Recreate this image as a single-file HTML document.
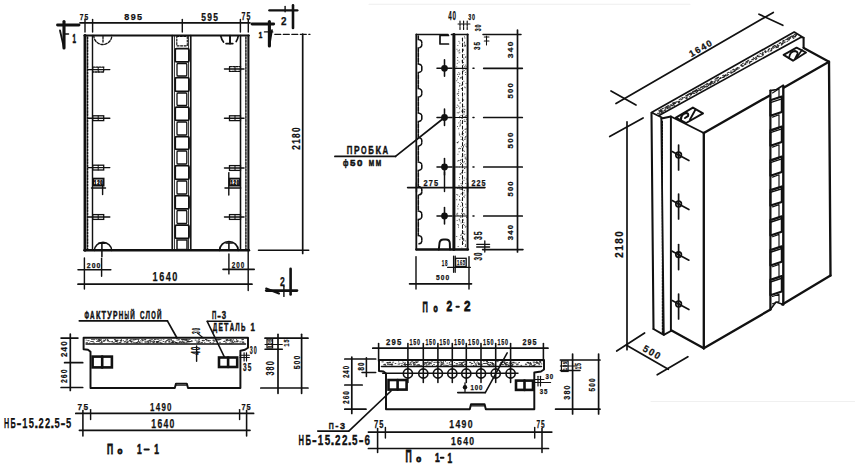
<!DOCTYPE html>
<html><head><meta charset="utf-8"><style>
html,body{margin:0;padding:0;background:#fff;}
svg{display:block;}
</style></head><body>
<svg width="855" height="466" viewBox="0 0 855 466" stroke-linecap="round">
<rect width="855" height="466" fill="#fff"/>
<line x1="57.5" y1="25.0" x2="79.0" y2="25.0" stroke="#111" stroke-width="2.86"/>
<polyline points="64.0,21.5 64.0,48.0" fill="none" stroke="#111" stroke-width="3.12" stroke-linejoin="round"/>
<polyline points="60.0,30.5 64.0,48.0" fill="none" stroke="#111" stroke-width="1.82" stroke-linejoin="round"/>
<line x1="64.0" y1="34.0" x2="68.5" y2="34.0" stroke="#111" stroke-width="1.56"/>
<text x="72.5" y="42.5" font-family="Liberation Sans" font-weight="bold" font-size="12.5" textLength="3.5" lengthAdjust="spacingAndGlyphs" fill="#111" stroke="#111" stroke-width="0.6">1</text>
<line x1="80.0" y1="22.8" x2="250.0" y2="22.8" stroke="#111" stroke-width="1.69"/>
<line x1="85.0" y1="19.5" x2="85.0" y2="32.0" stroke="#111" stroke-width="1.43"/>
<line x1="92.6" y1="19.5" x2="92.6" y2="32.0" stroke="#111" stroke-width="1.43"/>
<line x1="182.3" y1="19.5" x2="182.3" y2="32.0" stroke="#111" stroke-width="1.43"/>
<line x1="240.4" y1="19.5" x2="240.4" y2="32.0" stroke="#111" stroke-width="1.43"/>
<line x1="248.3" y1="19.5" x2="248.3" y2="32.0" stroke="#111" stroke-width="1.43"/>
<text x="79.7" y="20.2" font-family="Liberation Sans" font-weight="bold" font-size="9.9" textLength="3.7" lengthAdjust="spacingAndGlyphs" fill="#111" stroke="#111" stroke-width="0.25">7</text>
<text x="84.4" y="20.2" font-family="Liberation Sans" font-weight="bold" font-size="9.9" textLength="3.7" lengthAdjust="spacingAndGlyphs" fill="#111" stroke="#111" stroke-width="0.25">5</text>
<text x="124.3" y="20.3" font-family="Liberation Sans" font-weight="bold" font-size="9.3" textLength="5.0" lengthAdjust="spacingAndGlyphs" fill="#111" stroke="#111" stroke-width="0.25">8</text>
<text x="130.7" y="20.3" font-family="Liberation Sans" font-weight="bold" font-size="9.3" textLength="5.0" lengthAdjust="spacingAndGlyphs" fill="#111" stroke="#111" stroke-width="0.25">9</text>
<text x="137.1" y="20.3" font-family="Liberation Sans" font-weight="bold" font-size="9.3" textLength="5.0" lengthAdjust="spacingAndGlyphs" fill="#111" stroke="#111" stroke-width="0.25">5</text>
<text x="201.3" y="20.6" font-family="Liberation Sans" font-weight="bold" font-size="10.1" textLength="4.7" lengthAdjust="spacingAndGlyphs" fill="#111" stroke="#111" stroke-width="0.25">5</text>
<text x="207.2" y="20.6" font-family="Liberation Sans" font-weight="bold" font-size="10.1" textLength="4.7" lengthAdjust="spacingAndGlyphs" fill="#111" stroke="#111" stroke-width="0.25">9</text>
<text x="213.2" y="20.6" font-family="Liberation Sans" font-weight="bold" font-size="10.1" textLength="4.7" lengthAdjust="spacingAndGlyphs" fill="#111" stroke="#111" stroke-width="0.25">5</text>
<text x="241.6" y="20.3" font-family="Liberation Sans" font-weight="bold" font-size="10.7" textLength="3.9" lengthAdjust="spacingAndGlyphs" fill="#111" stroke="#111" stroke-width="0.25">7</text>
<text x="246.6" y="20.3" font-family="Liberation Sans" font-weight="bold" font-size="10.7" textLength="3.9" lengthAdjust="spacingAndGlyphs" fill="#111" stroke="#111" stroke-width="0.25">5</text>
<line x1="252.0" y1="24.0" x2="273.7" y2="24.0" stroke="#111" stroke-width="2.86"/>
<polyline points="269.4,21.5 269.4,46.0" fill="none" stroke="#111" stroke-width="3.12" stroke-linejoin="round"/>
<polyline points="272.0,30.0 269.4,46.0" fill="none" stroke="#111" stroke-width="1.69" stroke-linejoin="round"/>
<text x="258.8" y="37.8" font-family="Liberation Sans" font-weight="bold" font-size="9.4" textLength="3.5" lengthAdjust="spacingAndGlyphs" fill="#111" stroke="#111" stroke-width="0.6">1</text>
<line x1="264.5" y1="31.9" x2="272.7" y2="31.9" stroke="#111" stroke-width="1.43"/>
<line x1="269.4" y1="10.3" x2="297.3" y2="10.3" stroke="#111" stroke-width="2.34"/>
<line x1="293.0" y1="5.4" x2="293.0" y2="27.9" stroke="#111" stroke-width="2.60"/>
<line x1="285.1" y1="6.5" x2="285.1" y2="11.8" stroke="#111" stroke-width="1.43"/>
<text x="281.0" y="24.7" font-family="Liberation Sans" font-weight="bold" font-size="10.7" textLength="5.5" lengthAdjust="spacingAndGlyphs" fill="#111" stroke="#111" stroke-width="0.25">2</text>
<line x1="84.5" y1="35.5" x2="248.8" y2="35.5" stroke="#111" stroke-width="2.21"/>
<line x1="84.5" y1="250.3" x2="249.0" y2="250.3" stroke="#111" stroke-width="2.47"/>
<line x1="85.0" y1="35.5" x2="85.0" y2="250.3" stroke="#111" stroke-width="2.86"/>
<line x1="92.5" y1="35.5" x2="92.5" y2="250.3" stroke="#111" stroke-width="1.43"/>
<line x1="87.6" y1="37.0" x2="87.6" y2="249.0" stroke="#111" stroke-width="1.43" stroke-dasharray="1.8,1.4"/>
<line x1="248.4" y1="35.5" x2="248.4" y2="250.3" stroke="#111" stroke-width="2.08"/>
<line x1="240.5" y1="35.5" x2="240.5" y2="250.3" stroke="#111" stroke-width="1.56"/>
<line x1="245.9" y1="37.0" x2="245.9" y2="249.0" stroke="#111" stroke-width="1.43" stroke-dasharray="2,1.3"/>
<line x1="172.2" y1="35.5" x2="172.2" y2="250.3" stroke="#111" stroke-width="1.56"/>
<line x1="174.4" y1="35.5" x2="174.4" y2="250.3" stroke="#111" stroke-width="0.91"/>
<line x1="188.6" y1="35.5" x2="188.6" y2="250.3" stroke="#111" stroke-width="0.91"/>
<line x1="190.8" y1="35.5" x2="190.8" y2="250.3" stroke="#111" stroke-width="1.56"/>
<rect x="176.8" y="36.5" width="10.5" height="9.3" fill="none" stroke="#111" stroke-width="1.17" stroke-dasharray="2,1.5"/>
<rect x="175.2" y="48.6" width="13.8" height="13.3" rx="1.5" fill="none" stroke="#111" stroke-width="1.8"/>
<rect x="177" y="63.5" width="9.8" height="12.5" rx="1" fill="none" stroke="#111" stroke-width="1.3"/>
<rect x="175.2" y="77.6" width="13.8" height="13.8" rx="1.5" fill="none" stroke="#111" stroke-width="1.8"/>
<rect x="177" y="93.0" width="9.8" height="12.5" rx="1" fill="none" stroke="#111" stroke-width="1.3"/>
<rect x="175.2" y="107.1" width="13.8" height="13.3" rx="1.5" fill="none" stroke="#111" stroke-width="1.8"/>
<rect x="177" y="122.0" width="9.8" height="13.0" rx="1" fill="none" stroke="#111" stroke-width="1.3"/>
<rect x="175.2" y="136.6" width="13.8" height="12.8" rx="1.5" fill="none" stroke="#111" stroke-width="1.8"/>
<rect x="177" y="151.0" width="9.8" height="13.0" rx="1" fill="none" stroke="#111" stroke-width="1.3"/>
<rect x="175.2" y="165.6" width="13.8" height="13.8" rx="1.5" fill="none" stroke="#111" stroke-width="1.8"/>
<rect x="177" y="181.0" width="9.8" height="13.0" rx="1" fill="none" stroke="#111" stroke-width="1.3"/>
<rect x="175.2" y="195.6" width="13.8" height="13.3" rx="1.5" fill="none" stroke="#111" stroke-width="1.8"/>
<rect x="177" y="210.5" width="9.8" height="13.0" rx="1" fill="none" stroke="#111" stroke-width="1.3"/>
<rect x="175.2" y="225.1" width="13.8" height="13.3" rx="1.5" fill="none" stroke="#111" stroke-width="1.8"/>
<rect x="177.0" y="240.0" width="10.0" height="9.5" fill="none" stroke="#111" stroke-width="1.43"/>
<path d="M93.8,35.5 A9,9 0 0 0 111.8,35.5" fill="none" stroke="#111" stroke-width="1.30" stroke-dasharray="2.5,1.5"/>
<line x1="103.0" y1="36.5" x2="103.0" y2="43.0" stroke="#111" stroke-width="1.30" stroke-dasharray="2,1.5"/>
<path d="M220.7,35.8 Q221.5,39.5 223.5,42" fill="none" stroke="#111" stroke-width="1.69"/>
<path d="M238.2,36.2 Q237.8,39 236.2,41.5" fill="none" stroke="#111" stroke-width="1.69"/>
<line x1="230.0" y1="35.6" x2="230.0" y2="43.6" stroke="#111" stroke-width="1.95"/>
<line x1="226.2" y1="43.6" x2="232.7" y2="43.6" stroke="#111" stroke-width="1.95"/>
<path d="M94.5,250.3 A8.5,7.8 0 0 1 111.6,250.3" fill="none" stroke="#111" stroke-width="1.69"/>
<line x1="98.6" y1="243.3" x2="105.0" y2="243.3" stroke="#111" stroke-width="1.56"/>
<line x1="101.9" y1="243.3" x2="101.9" y2="256.8" stroke="#111" stroke-width="1.56"/>
<path d="M219.6,250.3 A9.3,8.8 0 0 1 238.2,250.3" fill="none" stroke="#111" stroke-width="1.69"/>
<line x1="225.9" y1="243.0" x2="232.4" y2="243.0" stroke="#111" stroke-width="1.56"/>
<line x1="228.9" y1="243.0" x2="228.9" y2="250.3" stroke="#111" stroke-width="1.56"/>
<rect x="92.7" y="67.2" width="11.0" height="4.8" fill="none" stroke="#111" stroke-width="1.30" stroke-dasharray="2,1.2"/>
<line x1="88.3" y1="69.6" x2="109.8" y2="69.6" stroke="#111" stroke-width="1.43"/>
<line x1="98.2" y1="67.2" x2="98.2" y2="72.0" stroke="#111" stroke-width="1.04"/>
<rect x="92.7" y="115.8" width="11.0" height="4.8" fill="none" stroke="#111" stroke-width="1.30"/>
<line x1="88.3" y1="118.2" x2="109.8" y2="118.2" stroke="#111" stroke-width="1.43"/>
<line x1="98.2" y1="115.8" x2="98.2" y2="120.6" stroke="#111" stroke-width="1.04"/>
<rect x="92.7" y="165.2" width="11.0" height="4.8" fill="none" stroke="#111" stroke-width="1.30"/>
<line x1="88.3" y1="167.6" x2="109.8" y2="167.6" stroke="#111" stroke-width="1.43"/>
<line x1="98.2" y1="165.2" x2="98.2" y2="170.0" stroke="#111" stroke-width="1.04"/>
<rect x="92.7" y="214.6" width="11.0" height="4.8" fill="none" stroke="#111" stroke-width="1.30"/>
<line x1="88.3" y1="217.0" x2="109.8" y2="217.0" stroke="#111" stroke-width="1.43"/>
<line x1="98.2" y1="214.6" x2="98.2" y2="219.4" stroke="#111" stroke-width="1.04"/>
<rect x="229.5" y="66.6" width="11.0" height="4.8" fill="none" stroke="#111" stroke-width="1.30" stroke-dasharray="2,1.2"/>
<line x1="224.5" y1="69.0" x2="244.0" y2="69.0" stroke="#111" stroke-width="1.43"/>
<line x1="235.0" y1="66.6" x2="235.0" y2="71.4" stroke="#111" stroke-width="1.04"/>
<rect x="229.5" y="115.8" width="11.0" height="4.8" fill="none" stroke="#111" stroke-width="1.30"/>
<line x1="224.5" y1="118.2" x2="244.0" y2="118.2" stroke="#111" stroke-width="1.43"/>
<line x1="235.0" y1="115.8" x2="235.0" y2="120.6" stroke="#111" stroke-width="1.04"/>
<rect x="229.5" y="165.6" width="11.0" height="4.8" fill="none" stroke="#111" stroke-width="1.30"/>
<line x1="224.5" y1="168.0" x2="244.0" y2="168.0" stroke="#111" stroke-width="1.43"/>
<line x1="235.0" y1="165.6" x2="235.0" y2="170.4" stroke="#111" stroke-width="1.04"/>
<rect x="229.5" y="214.6" width="11.0" height="4.8" fill="none" stroke="#111" stroke-width="1.30"/>
<line x1="224.5" y1="217.0" x2="244.0" y2="217.0" stroke="#111" stroke-width="1.43"/>
<line x1="235.0" y1="214.6" x2="235.0" y2="219.4" stroke="#111" stroke-width="1.04"/>
<rect x="93.2" y="178.6" width="10.4" height="7.0" fill="none" stroke="#111" stroke-width="1.82"/>
<text x="94.1" y="184.8" font-family="Liberation Sans" font-weight="bold" font-size="6.9" textLength="2.4" lengthAdjust="spacingAndGlyphs" fill="#111" stroke="#111" stroke-width="0.7">1</text>
<text x="97.2" y="184.8" font-family="Liberation Sans" font-weight="bold" font-size="6.9" textLength="2.4" lengthAdjust="spacingAndGlyphs" fill="#111" stroke="#111" stroke-width="0.7">2</text>
<text x="100.3" y="184.8" font-family="Liberation Sans" font-weight="bold" font-size="6.9" textLength="2.4" lengthAdjust="spacingAndGlyphs" fill="#111" stroke="#111" stroke-width="0.7">0</text>
<line x1="91.5" y1="188.0" x2="105.5" y2="188.0" stroke="#111" stroke-width="1.43"/>
<line x1="102.6" y1="185.0" x2="102.6" y2="194.5" stroke="#111" stroke-width="1.43"/>
<rect x="229.6" y="178.6" width="10.4" height="7.0" fill="none" stroke="#111" stroke-width="1.82"/>
<text x="230.5" y="184.8" font-family="Liberation Sans" font-weight="bold" font-size="6.9" textLength="2.4" lengthAdjust="spacingAndGlyphs" fill="#111" stroke="#111" stroke-width="0.7">1</text>
<text x="233.6" y="184.8" font-family="Liberation Sans" font-weight="bold" font-size="6.9" textLength="2.4" lengthAdjust="spacingAndGlyphs" fill="#111" stroke="#111" stroke-width="0.7">2</text>
<text x="236.7" y="184.8" font-family="Liberation Sans" font-weight="bold" font-size="6.9" textLength="2.4" lengthAdjust="spacingAndGlyphs" fill="#111" stroke="#111" stroke-width="0.7">0</text>
<line x1="225.0" y1="188.0" x2="240.7" y2="188.0" stroke="#111" stroke-width="1.43"/>
<line x1="228.8" y1="172.6" x2="228.8" y2="195.0" stroke="#111" stroke-width="1.43"/>
<line x1="78.0" y1="269.8" x2="110.8" y2="269.8" stroke="#111" stroke-width="1.56"/>
<line x1="84.4" y1="258.0" x2="84.4" y2="289.0" stroke="#111" stroke-width="1.43"/>
<line x1="101.6" y1="258.5" x2="101.6" y2="276.3" stroke="#111" stroke-width="1.43"/>
<text x="86.7" y="268.0" font-family="Liberation Sans" font-weight="bold" font-size="7.5" textLength="3.8" lengthAdjust="spacingAndGlyphs" fill="#111" stroke="#111" stroke-width="0.25">2</text>
<text x="91.7" y="268.0" font-family="Liberation Sans" font-weight="bold" font-size="7.5" textLength="3.8" lengthAdjust="spacingAndGlyphs" fill="#111" stroke="#111" stroke-width="0.25">0</text>
<text x="96.6" y="268.0" font-family="Liberation Sans" font-weight="bold" font-size="7.5" textLength="3.8" lengthAdjust="spacingAndGlyphs" fill="#111" stroke="#111" stroke-width="0.25">0</text>
<line x1="223.0" y1="269.4" x2="254.2" y2="269.4" stroke="#111" stroke-width="1.56"/>
<line x1="228.9" y1="253.9" x2="228.9" y2="273.9" stroke="#111" stroke-width="1.43"/>
<text x="231.7" y="268.0" font-family="Liberation Sans" font-weight="bold" font-size="9.7" textLength="3.5" lengthAdjust="spacingAndGlyphs" fill="#111" stroke="#111" stroke-width="0.25">2</text>
<text x="236.2" y="268.0" font-family="Liberation Sans" font-weight="bold" font-size="9.7" textLength="3.5" lengthAdjust="spacingAndGlyphs" fill="#111" stroke="#111" stroke-width="0.25">0</text>
<text x="240.8" y="268.0" font-family="Liberation Sans" font-weight="bold" font-size="9.7" textLength="3.5" lengthAdjust="spacingAndGlyphs" fill="#111" stroke="#111" stroke-width="0.25">0</text>
<line x1="78.0" y1="284.2" x2="252.0" y2="284.2" stroke="#111" stroke-width="1.69"/>
<line x1="248.2" y1="251.0" x2="248.2" y2="290.6" stroke="#111" stroke-width="1.43"/>
<text x="152.6" y="281.0" font-family="Liberation Sans" font-weight="bold" font-size="12.6" textLength="5.1" lengthAdjust="spacingAndGlyphs" fill="#111" stroke="#111" stroke-width="0.25">1</text>
<text x="159.2" y="281.0" font-family="Liberation Sans" font-weight="bold" font-size="12.6" textLength="5.1" lengthAdjust="spacingAndGlyphs" fill="#111" stroke="#111" stroke-width="0.25">6</text>
<text x="165.8" y="281.0" font-family="Liberation Sans" font-weight="bold" font-size="12.6" textLength="5.1" lengthAdjust="spacingAndGlyphs" fill="#111" stroke="#111" stroke-width="0.25">4</text>
<text x="172.3" y="281.0" font-family="Liberation Sans" font-weight="bold" font-size="12.6" textLength="5.1" lengthAdjust="spacingAndGlyphs" fill="#111" stroke="#111" stroke-width="0.25">0</text>
<line x1="274.8" y1="34.3" x2="310.0" y2="34.3" stroke="#111" stroke-width="1.30" stroke-dasharray="6,2.5"/>
<line x1="302.7" y1="34.0" x2="302.7" y2="253.5" stroke="#111" stroke-width="1.69"/>
<line x1="258.5" y1="250.2" x2="308.7" y2="250.2" stroke="#111" stroke-width="1.56"/>
<g transform="translate(296.0,138.6) rotate(-90.0)">
<text x="-11.1" y="4.0" font-family="Liberation Sans" font-weight="bold" font-size="11.1" textLength="4.6" lengthAdjust="spacingAndGlyphs" fill="#111" stroke="#111" stroke-width="0.25">2</text>
<text x="-5.2" y="4.0" font-family="Liberation Sans" font-weight="bold" font-size="11.1" textLength="4.6" lengthAdjust="spacingAndGlyphs" fill="#111" stroke="#111" stroke-width="0.25">1</text>
<text x="0.6" y="4.0" font-family="Liberation Sans" font-weight="bold" font-size="11.1" textLength="4.6" lengthAdjust="spacingAndGlyphs" fill="#111" stroke="#111" stroke-width="0.25">8</text>
<text x="6.5" y="4.0" font-family="Liberation Sans" font-weight="bold" font-size="11.1" textLength="4.6" lengthAdjust="spacingAndGlyphs" fill="#111" stroke="#111" stroke-width="0.25">0</text>
</g>
<line x1="290.6" y1="268.8" x2="290.6" y2="294.5" stroke="#111" stroke-width="2.60"/>
<line x1="266.2" y1="290.6" x2="297.0" y2="290.6" stroke="#111" stroke-width="2.60"/>
<polyline points="266.2,288.5 279.0,293.5" fill="none" stroke="#111" stroke-width="2.08" stroke-linejoin="round"/>
<text x="280.0" y="285.7" font-family="Liberation Sans" font-weight="bold" font-size="12.8" textLength="4.8" lengthAdjust="spacingAndGlyphs" fill="#111" stroke="#111" stroke-width="0.25">2</text>
<line x1="283.9" y1="286.3" x2="283.9" y2="296.4" stroke="#111" stroke-width="1.43"/>
<text x="448.2" y="20.3" font-family="Liberation Sans" font-weight="bold" font-size="13.2" textLength="3.5" lengthAdjust="spacingAndGlyphs" fill="#111" stroke="#111" stroke-width="0.25">4</text>
<text x="452.6" y="20.3" font-family="Liberation Sans" font-weight="bold" font-size="13.2" textLength="3.5" lengthAdjust="spacingAndGlyphs" fill="#111" stroke="#111" stroke-width="0.25">0</text>
<text x="468.2" y="20.3" font-family="Liberation Sans" font-weight="bold" font-size="9.7" textLength="3.0" lengthAdjust="spacingAndGlyphs" fill="#111" stroke="#111" stroke-width="0.25">3</text>
<text x="472.1" y="20.3" font-family="Liberation Sans" font-weight="bold" font-size="9.7" textLength="3.0" lengthAdjust="spacingAndGlyphs" fill="#111" stroke="#111" stroke-width="0.25">0</text>
<line x1="460.0" y1="21.0" x2="460.0" y2="30.4" stroke="#111" stroke-width="1.17" stroke-dasharray="2,1.2"/>
<line x1="463.6" y1="21.0" x2="463.6" y2="30.4" stroke="#111" stroke-width="1.17" stroke-dasharray="2,1.2"/>
<line x1="467.2" y1="21.0" x2="467.2" y2="30.4" stroke="#111" stroke-width="1.17" stroke-dasharray="2,1.2"/>
<line x1="458.0" y1="24.0" x2="470.0" y2="24.0" stroke="#111" stroke-width="1.04"/>
<g transform="translate(478.2,28.0) rotate(-90.0)">
<text x="-3.3" y="3.1" font-family="Liberation Sans" font-weight="bold" font-size="8.8" textLength="2.9" lengthAdjust="spacingAndGlyphs" fill="#111" stroke="#111" stroke-width="0.25">3</text>
<text x="0.4" y="3.1" font-family="Liberation Sans" font-weight="bold" font-size="8.8" textLength="2.9" lengthAdjust="spacingAndGlyphs" fill="#111" stroke="#111" stroke-width="0.25">0</text>
</g>
<g transform="translate(477.3,46.0) rotate(-90.0)">
<text x="-4.0" y="3.0" font-family="Liberation Sans" font-weight="bold" font-size="8.2" textLength="3.5" lengthAdjust="spacingAndGlyphs" fill="#111" stroke="#111" stroke-width="0.25">3</text>
<text x="0.5" y="3.0" font-family="Liberation Sans" font-weight="bold" font-size="8.2" textLength="3.5" lengthAdjust="spacingAndGlyphs" fill="#111" stroke="#111" stroke-width="0.25">5</text>
</g>
<line x1="484.3" y1="37.0" x2="489.0" y2="37.0" stroke="#111" stroke-width="1.04"/>
<line x1="484.3" y1="41.0" x2="489.0" y2="41.0" stroke="#111" stroke-width="1.04"/>
<line x1="486.5" y1="36.0" x2="486.5" y2="45.0" stroke="#111" stroke-width="1.04"/>
<line x1="416.5" y1="34.5" x2="448.0" y2="34.5" stroke="#111" stroke-width="1.69"/>
<line x1="451.5" y1="34.5" x2="467.8" y2="34.5" stroke="#111" stroke-width="1.69"/>
<line x1="483.0" y1="34.5" x2="521.0" y2="34.5" stroke="#111" stroke-width="1.56"/>
<line x1="416.3" y1="34.5" x2="416.3" y2="249.5" stroke="#111" stroke-width="1.82"/>
<line x1="416.5" y1="249.5" x2="467.8" y2="249.5" stroke="#111" stroke-width="2.60"/>
<line x1="467.6" y1="34.5" x2="467.6" y2="249.5" stroke="#111" stroke-width="1.95"/>
<line x1="453.9" y1="34.5" x2="453.9" y2="249.5" stroke="#111" stroke-width="2.99"/>
<rect x="458.7" y="151.4" width="0.9" height="0.9" fill="#333"/>
<rect x="460.0" y="164.0" width="0.9" height="0.9" fill="#333"/>
<rect x="462.6" y="49.9" width="0.9" height="0.9" fill="#333"/>
<rect x="456.4" y="213.5" width="0.9" height="0.9" fill="#333"/>
<rect x="458.9" y="85.7" width="0.9" height="0.9" fill="#333"/>
<rect x="466.3" y="135.7" width="0.9" height="0.9" fill="#333"/>
<rect x="464.7" y="137.0" width="0.9" height="0.9" fill="#333"/>
<rect x="462.7" y="67.9" width="0.9" height="0.9" fill="#333"/>
<rect x="462.6" y="220.0" width="0.9" height="0.9" fill="#333"/>
<rect x="461.5" y="193.1" width="0.9" height="0.9" fill="#333"/>
<rect x="463.0" y="49.6" width="0.9" height="0.9" fill="#333"/>
<rect x="463.9" y="161.3" width="0.9" height="0.9" fill="#333"/>
<rect x="459.3" y="42.6" width="0.9" height="0.9" fill="#333"/>
<rect x="465.0" y="136.2" width="0.9" height="0.9" fill="#333"/>
<rect x="463.5" y="222.3" width="0.9" height="0.9" fill="#333"/>
<rect x="463.4" y="231.3" width="0.9" height="0.9" fill="#333"/>
<rect x="460.2" y="205.8" width="0.9" height="0.9" fill="#333"/>
<rect x="460.7" y="234.3" width="0.9" height="0.9" fill="#333"/>
<rect x="465.1" y="56.7" width="0.9" height="0.9" fill="#333"/>
<rect x="457.7" y="82.0" width="0.9" height="0.9" fill="#333"/>
<rect x="466.0" y="128.5" width="0.9" height="0.9" fill="#333"/>
<rect x="462.6" y="99.8" width="0.9" height="0.9" fill="#333"/>
<rect x="461.4" y="117.8" width="0.9" height="0.9" fill="#333"/>
<rect x="459.8" y="160.0" width="0.9" height="0.9" fill="#333"/>
<rect x="462.1" y="227.7" width="0.9" height="0.9" fill="#333"/>
<rect x="463.1" y="232.9" width="0.9" height="0.9" fill="#333"/>
<rect x="464.9" y="246.1" width="0.9" height="0.9" fill="#333"/>
<rect x="463.0" y="70.6" width="0.9" height="0.9" fill="#333"/>
<rect x="464.9" y="240.5" width="0.9" height="0.9" fill="#333"/>
<rect x="465.3" y="156.7" width="0.9" height="0.9" fill="#333"/>
<rect x="463.4" y="80.8" width="0.9" height="0.9" fill="#333"/>
<rect x="464.6" y="157.6" width="0.9" height="0.9" fill="#333"/>
<rect x="459.1" y="49.5" width="0.9" height="0.9" fill="#333"/>
<rect x="464.8" y="245.8" width="0.9" height="0.9" fill="#333"/>
<rect x="457.2" y="205.7" width="0.9" height="0.9" fill="#333"/>
<rect x="460.4" y="68.0" width="0.9" height="0.9" fill="#333"/>
<rect x="459.2" y="199.0" width="0.9" height="0.9" fill="#333"/>
<rect x="465.0" y="45.4" width="0.9" height="0.9" fill="#333"/>
<rect x="462.4" y="45.5" width="0.9" height="0.9" fill="#333"/>
<rect x="463.5" y="106.2" width="0.9" height="0.9" fill="#333"/>
<rect x="465.1" y="243.9" width="0.9" height="0.9" fill="#333"/>
<rect x="461.4" y="247.7" width="0.9" height="0.9" fill="#333"/>
<rect x="459.4" y="52.3" width="0.9" height="0.9" fill="#333"/>
<rect x="462.3" y="42.7" width="0.9" height="0.9" fill="#333"/>
<rect x="458.3" y="122.5" width="0.9" height="0.9" fill="#333"/>
<rect x="462.4" y="69.1" width="0.9" height="0.9" fill="#333"/>
<rect x="456.7" y="220.0" width="0.9" height="0.9" fill="#333"/>
<rect x="459.4" y="239.2" width="0.9" height="0.9" fill="#333"/>
<rect x="465.3" y="116.1" width="0.9" height="0.9" fill="#333"/>
<rect x="460.9" y="146.3" width="0.9" height="0.9" fill="#333"/>
<rect x="462.7" y="162.3" width="0.9" height="0.9" fill="#333"/>
<rect x="461.9" y="167.5" width="0.9" height="0.9" fill="#333"/>
<rect x="465.7" y="143.5" width="0.9" height="0.9" fill="#333"/>
<rect x="460.6" y="188.7" width="0.9" height="0.9" fill="#333"/>
<rect x="458.7" y="99.8" width="0.9" height="0.9" fill="#333"/>
<rect x="466.1" y="146.5" width="0.9" height="0.9" fill="#333"/>
<rect x="461.8" y="38.4" width="0.9" height="0.9" fill="#333"/>
<rect x="460.5" y="159.0" width="0.9" height="0.9" fill="#333"/>
<rect x="456.5" y="166.5" width="0.9" height="0.9" fill="#333"/>
<rect x="462.6" y="48.7" width="0.9" height="0.9" fill="#333"/>
<rect x="462.6" y="134.8" width="0.9" height="0.9" fill="#333"/>
<rect x="463.1" y="110.7" width="0.9" height="0.9" fill="#333"/>
<rect x="463.4" y="192.5" width="0.9" height="0.9" fill="#333"/>
<rect x="456.5" y="48.8" width="0.9" height="0.9" fill="#333"/>
<rect x="463.1" y="240.2" width="0.9" height="0.9" fill="#333"/>
<rect x="458.8" y="132.7" width="0.9" height="0.9" fill="#333"/>
<rect x="462.2" y="103.8" width="0.9" height="0.9" fill="#333"/>
<rect x="459.9" y="102.3" width="0.9" height="0.9" fill="#333"/>
<rect x="460.0" y="162.3" width="0.9" height="0.9" fill="#333"/>
<rect x="459.3" y="116.0" width="0.9" height="0.9" fill="#333"/>
<rect x="464.0" y="41.7" width="0.9" height="0.9" fill="#333"/>
<rect x="462.0" y="191.9" width="0.9" height="0.9" fill="#333"/>
<rect x="459.4" y="83.2" width="0.9" height="0.9" fill="#333"/>
<rect x="464.3" y="86.6" width="0.9" height="0.9" fill="#333"/>
<rect x="458.2" y="128.3" width="0.9" height="0.9" fill="#333"/>
<rect x="463.3" y="57.6" width="0.9" height="0.9" fill="#333"/>
<rect x="459.5" y="106.8" width="0.9" height="0.9" fill="#333"/>
<rect x="464.6" y="128.9" width="0.9" height="0.9" fill="#333"/>
<rect x="464.9" y="71.9" width="0.9" height="0.9" fill="#333"/>
<rect x="459.7" y="173.8" width="0.9" height="0.9" fill="#333"/>
<rect x="465.1" y="131.6" width="0.9" height="0.9" fill="#333"/>
<rect x="458.6" y="61.6" width="0.9" height="0.9" fill="#333"/>
<rect x="461.6" y="76.5" width="0.9" height="0.9" fill="#333"/>
<rect x="464.4" y="213.8" width="0.9" height="0.9" fill="#333"/>
<rect x="458.1" y="95.1" width="0.9" height="0.9" fill="#333"/>
<rect x="464.4" y="172.1" width="0.9" height="0.9" fill="#333"/>
<rect x="464.4" y="109.2" width="0.9" height="0.9" fill="#333"/>
<rect x="457.6" y="97.9" width="0.9" height="0.9" fill="#333"/>
<rect x="464.2" y="93.5" width="0.9" height="0.9" fill="#333"/>
<rect x="459.8" y="124.4" width="0.9" height="0.9" fill="#333"/>
<rect x="460.5" y="122.8" width="0.9" height="0.9" fill="#333"/>
<rect x="465.5" y="69.1" width="0.9" height="0.9" fill="#333"/>
<rect x="456.3" y="236.0" width="0.9" height="0.9" fill="#333"/>
<rect x="465.1" y="245.2" width="0.9" height="0.9" fill="#333"/>
<rect x="460.6" y="237.4" width="0.9" height="0.9" fill="#333"/>
<rect x="465.6" y="83.1" width="0.9" height="0.9" fill="#333"/>
<rect x="463.8" y="213.4" width="0.9" height="0.9" fill="#333"/>
<rect x="462.9" y="146.0" width="0.9" height="0.9" fill="#333"/>
<rect x="459.2" y="108.3" width="0.9" height="0.9" fill="#333"/>
<rect x="458.6" y="50.4" width="0.9" height="0.9" fill="#333"/>
<rect x="462.2" y="96.8" width="0.9" height="0.9" fill="#333"/>
<rect x="464.4" y="45.6" width="0.9" height="0.9" fill="#333"/>
<rect x="465.3" y="183.1" width="0.9" height="0.9" fill="#333"/>
<rect x="465.5" y="226.1" width="0.9" height="0.9" fill="#333"/>
<rect x="465.3" y="158.3" width="0.9" height="0.9" fill="#333"/>
<rect x="456.4" y="194.0" width="0.9" height="0.9" fill="#333"/>
<rect x="458.0" y="99.6" width="0.9" height="0.9" fill="#333"/>
<rect x="462.9" y="147.3" width="0.9" height="0.9" fill="#333"/>
<rect x="460.4" y="235.1" width="0.9" height="0.9" fill="#333"/>
<rect x="462.4" y="108.4" width="0.9" height="0.9" fill="#333"/>
<rect x="458.8" y="218.7" width="0.9" height="0.9" fill="#333"/>
<rect x="461.1" y="201.9" width="0.9" height="0.9" fill="#333"/>
<rect x="459.8" y="77.8" width="0.9" height="0.9" fill="#333"/>
<rect x="461.6" y="209.2" width="0.9" height="0.9" fill="#333"/>
<rect x="458.0" y="203.8" width="0.9" height="0.9" fill="#333"/>
<rect x="465.5" y="206.9" width="0.9" height="0.9" fill="#333"/>
<rect x="464.5" y="37.6" width="0.9" height="0.9" fill="#333"/>
<rect x="462.6" y="218.9" width="0.9" height="0.9" fill="#333"/>
<rect x="456.8" y="93.5" width="0.9" height="0.9" fill="#333"/>
<rect x="459.0" y="147.8" width="0.9" height="0.9" fill="#333"/>
<rect x="460.5" y="136.3" width="0.9" height="0.9" fill="#333"/>
<rect x="464.1" y="36.4" width="0.9" height="0.9" fill="#333"/>
<rect x="456.8" y="62.9" width="0.9" height="0.9" fill="#333"/>
<rect x="457.5" y="50.5" width="0.9" height="0.9" fill="#333"/>
<rect x="466.0" y="217.1" width="0.9" height="0.9" fill="#333"/>
<rect x="457.2" y="142.4" width="0.9" height="0.9" fill="#333"/>
<rect x="459.5" y="102.7" width="0.9" height="0.9" fill="#333"/>
<rect x="459.8" y="173.1" width="0.9" height="0.9" fill="#333"/>
<rect x="462.2" y="112.5" width="0.9" height="0.9" fill="#333"/>
<rect x="458.2" y="105.7" width="0.9" height="0.9" fill="#333"/>
<rect x="457.5" y="153.8" width="0.9" height="0.9" fill="#333"/>
<rect x="463.5" y="116.6" width="0.9" height="0.9" fill="#333"/>
<rect x="457.1" y="73.9" width="0.9" height="0.9" fill="#333"/>
<rect x="460.0" y="164.1" width="0.9" height="0.9" fill="#333"/>
<rect x="464.1" y="116.6" width="0.9" height="0.9" fill="#333"/>
<rect x="464.3" y="168.1" width="0.9" height="0.9" fill="#333"/>
<rect x="460.6" y="115.0" width="0.9" height="0.9" fill="#333"/>
<rect x="461.3" y="185.0" width="0.9" height="0.9" fill="#333"/>
<rect x="460.5" y="183.2" width="0.9" height="0.9" fill="#333"/>
<rect x="460.9" y="88.0" width="0.9" height="0.9" fill="#333"/>
<rect x="461.7" y="183.4" width="0.9" height="0.9" fill="#333"/>
<rect x="457.0" y="126.1" width="0.9" height="0.9" fill="#333"/>
<rect x="460.6" y="222.5" width="0.9" height="0.9" fill="#333"/>
<rect x="465.7" y="115.3" width="0.9" height="0.9" fill="#333"/>
<rect x="465.3" y="203.7" width="0.9" height="0.9" fill="#333"/>
<rect x="458.9" y="134.4" width="0.9" height="0.9" fill="#333"/>
<rect x="457.5" y="208.4" width="0.9" height="0.9" fill="#333"/>
<rect x="462.9" y="224.1" width="0.9" height="0.9" fill="#333"/>
<rect x="464.2" y="177.5" width="0.9" height="0.9" fill="#333"/>
<rect x="463.6" y="155.5" width="0.9" height="0.9" fill="#333"/>
<rect x="457.3" y="160.6" width="0.9" height="0.9" fill="#333"/>
<rect x="456.3" y="66.4" width="0.9" height="0.9" fill="#333"/>
<rect x="464.0" y="45.4" width="0.9" height="0.9" fill="#333"/>
<rect x="457.2" y="57.1" width="0.9" height="0.9" fill="#333"/>
<rect x="465.1" y="74.0" width="0.9" height="0.9" fill="#333"/>
<rect x="456.5" y="214.4" width="0.9" height="0.9" fill="#333"/>
<rect x="457.5" y="214.9" width="0.9" height="0.9" fill="#333"/>
<rect x="463.0" y="213.3" width="0.9" height="0.9" fill="#333"/>
<rect x="465.8" y="158.8" width="0.9" height="0.9" fill="#333"/>
<rect x="464.3" y="43.7" width="0.9" height="0.9" fill="#333"/>
<rect x="464.0" y="144.4" width="0.9" height="0.9" fill="#333"/>
<rect x="463.5" y="58.6" width="0.9" height="0.9" fill="#333"/>
<rect x="463.8" y="234.1" width="0.9" height="0.9" fill="#333"/>
<rect x="456.9" y="104.7" width="0.9" height="0.9" fill="#333"/>
<rect x="461.9" y="211.5" width="0.9" height="0.9" fill="#333"/>
<rect x="458.7" y="74.1" width="0.9" height="0.9" fill="#333"/>
<rect x="458.8" y="166.6" width="0.9" height="0.9" fill="#333"/>
<rect x="463.8" y="119.5" width="0.9" height="0.9" fill="#333"/>
<rect x="460.0" y="120.1" width="0.9" height="0.9" fill="#333"/>
<rect x="459.8" y="124.7" width="0.9" height="0.9" fill="#333"/>
<rect x="457.1" y="142.1" width="0.9" height="0.9" fill="#333"/>
<rect x="466.0" y="123.5" width="0.9" height="0.9" fill="#333"/>
<rect x="463.8" y="70.1" width="0.9" height="0.9" fill="#333"/>
<rect x="463.2" y="196.3" width="0.9" height="0.9" fill="#333"/>
<rect x="463.0" y="145.6" width="0.9" height="0.9" fill="#333"/>
<rect x="461.1" y="172.3" width="0.9" height="0.9" fill="#333"/>
<rect x="465.3" y="67.7" width="0.9" height="0.9" fill="#333"/>
<rect x="457.3" y="194.6" width="0.9" height="0.9" fill="#333"/>
<rect x="465.5" y="145.7" width="0.9" height="0.9" fill="#333"/>
<rect x="460.7" y="188.4" width="0.9" height="0.9" fill="#333"/>
<rect x="458.2" y="92.7" width="0.9" height="0.9" fill="#333"/>
<rect x="458.3" y="160.2" width="0.9" height="0.9" fill="#333"/>
<rect x="459.4" y="85.2" width="0.9" height="0.9" fill="#333"/>
<rect x="463.2" y="238.1" width="0.9" height="0.9" fill="#333"/>
<rect x="459.3" y="185.5" width="0.9" height="0.9" fill="#333"/>
<rect x="460.4" y="217.0" width="0.9" height="0.9" fill="#333"/>
<rect x="462.1" y="92.6" width="0.9" height="0.9" fill="#333"/>
<rect x="458.5" y="40.9" width="0.9" height="0.9" fill="#333"/>
<rect x="461.1" y="117.1" width="0.9" height="0.9" fill="#333"/>
<rect x="458.0" y="112.4" width="0.9" height="0.9" fill="#333"/>
<rect x="459.5" y="200.1" width="0.9" height="0.9" fill="#333"/>
<rect x="457.7" y="246.1" width="0.9" height="0.9" fill="#333"/>
<rect x="461.1" y="163.0" width="0.9" height="0.9" fill="#333"/>
<rect x="461.0" y="212.9" width="0.9" height="0.9" fill="#333"/>
<rect x="464.5" y="154.1" width="0.9" height="0.9" fill="#333"/>
<rect x="461.1" y="188.8" width="0.9" height="0.9" fill="#333"/>
<rect x="464.9" y="120.9" width="0.9" height="0.9" fill="#333"/>
<rect x="463.6" y="239.6" width="0.9" height="0.9" fill="#333"/>
<rect x="461.0" y="84.7" width="0.9" height="0.9" fill="#333"/>
<rect x="458.6" y="188.1" width="0.9" height="0.9" fill="#333"/>
<rect x="463.1" y="239.2" width="0.9" height="0.9" fill="#333"/>
<rect x="464.8" y="87.3" width="0.9" height="0.9" fill="#333"/>
<rect x="458.2" y="90.8" width="0.9" height="0.9" fill="#333"/>
<rect x="458.2" y="185.4" width="0.9" height="0.9" fill="#333"/>
<rect x="464.9" y="226.7" width="0.9" height="0.9" fill="#333"/>
<rect x="458.9" y="219.4" width="0.9" height="0.9" fill="#333"/>
<rect x="459.4" y="125.7" width="0.9" height="0.9" fill="#333"/>
<rect x="463.6" y="54.2" width="0.9" height="0.9" fill="#333"/>
<rect x="457.2" y="212.8" width="0.9" height="0.9" fill="#333"/>
<rect x="459.2" y="111.6" width="0.9" height="0.9" fill="#333"/>
<rect x="462.1" y="179.2" width="0.9" height="0.9" fill="#333"/>
<rect x="456.4" y="107.0" width="0.9" height="0.9" fill="#333"/>
<rect x="460.7" y="139.0" width="0.9" height="0.9" fill="#333"/>
<rect x="458.4" y="160.0" width="0.9" height="0.9" fill="#333"/>
<rect x="465.9" y="118.9" width="0.9" height="0.9" fill="#333"/>
<rect x="461.7" y="61.3" width="0.9" height="0.9" fill="#333"/>
<rect x="459.0" y="177.1" width="0.9" height="0.9" fill="#333"/>
<rect x="457.4" y="224.1" width="0.9" height="0.9" fill="#333"/>
<rect x="465.4" y="56.5" width="0.9" height="0.9" fill="#333"/>
<rect x="465.7" y="115.3" width="0.9" height="0.9" fill="#333"/>
<rect x="464.0" y="196.6" width="0.9" height="0.9" fill="#333"/>
<rect x="459.3" y="179.3" width="0.9" height="0.9" fill="#333"/>
<rect x="462.8" y="206.9" width="0.9" height="0.9" fill="#333"/>
<rect x="459.0" y="195.9" width="0.9" height="0.9" fill="#333"/>
<rect x="465.9" y="178.6" width="0.9" height="0.9" fill="#333"/>
<rect x="461.7" y="60.0" width="0.9" height="0.9" fill="#333"/>
<rect x="461.2" y="110.7" width="0.9" height="0.9" fill="#333"/>
<rect x="463.5" y="179.9" width="0.9" height="0.9" fill="#333"/>
<rect x="462.0" y="74.6" width="0.9" height="0.9" fill="#333"/>
<rect x="462.8" y="169.7" width="0.9" height="0.9" fill="#333"/>
<rect x="458.1" y="224.7" width="0.9" height="0.9" fill="#333"/>
<rect x="462.9" y="62.1" width="0.9" height="0.9" fill="#333"/>
<rect x="465.6" y="66.0" width="0.9" height="0.9" fill="#333"/>
<rect x="459.6" y="188.7" width="0.9" height="0.9" fill="#333"/>
<rect x="462.3" y="153.6" width="0.9" height="0.9" fill="#333"/>
<rect x="462.8" y="133.0" width="0.9" height="0.9" fill="#333"/>
<rect x="459.4" y="73.4" width="0.9" height="0.9" fill="#333"/>
<rect x="457.0" y="187.8" width="0.9" height="0.9" fill="#333"/>
<rect x="463.8" y="151.1" width="0.9" height="0.9" fill="#333"/>
<rect x="463.7" y="112.2" width="0.9" height="0.9" fill="#333"/>
<rect x="459.0" y="117.3" width="0.9" height="0.9" fill="#333"/>
<rect x="465.0" y="44.9" width="0.9" height="0.9" fill="#333"/>
<rect x="461.3" y="88.4" width="0.9" height="0.9" fill="#333"/>
<rect x="464.0" y="111.1" width="0.9" height="0.9" fill="#333"/>
<rect x="459.6" y="121.5" width="0.9" height="0.9" fill="#333"/>
<rect x="461.7" y="199.6" width="0.9" height="0.9" fill="#333"/>
<rect x="459.8" y="215.5" width="0.9" height="0.9" fill="#333"/>
<rect x="457.4" y="93.3" width="0.9" height="0.9" fill="#333"/>
<rect x="457.3" y="59.9" width="0.9" height="0.9" fill="#333"/>
<rect x="464.1" y="190.2" width="0.9" height="0.9" fill="#333"/>
<rect x="458.1" y="76.1" width="0.9" height="0.9" fill="#333"/>
<rect x="460.5" y="193.6" width="0.9" height="0.9" fill="#333"/>
<rect x="464.5" y="194.7" width="0.9" height="0.9" fill="#333"/>
<rect x="462.2" y="67.1" width="0.9" height="0.9" fill="#333"/>
<rect x="460.3" y="77.1" width="0.9" height="0.9" fill="#333"/>
<rect x="461.6" y="156.5" width="0.9" height="0.9" fill="#333"/>
<rect x="458.3" y="89.0" width="0.9" height="0.9" fill="#333"/>
<rect x="464.1" y="42.4" width="0.9" height="0.9" fill="#333"/>
<rect x="464.3" y="224.9" width="0.9" height="0.9" fill="#333"/>
<rect x="465.8" y="117.2" width="0.9" height="0.9" fill="#333"/>
<rect x="461.8" y="159.6" width="0.9" height="0.9" fill="#333"/>
<rect x="462.6" y="243.1" width="0.9" height="0.9" fill="#333"/>
<rect x="463.2" y="99.5" width="0.9" height="0.9" fill="#333"/>
<rect x="464.9" y="138.6" width="0.9" height="0.9" fill="#333"/>
<rect x="462.3" y="190.1" width="0.9" height="0.9" fill="#333"/>
<rect x="456.3" y="199.3" width="0.9" height="0.9" fill="#333"/>
<rect x="462.9" y="140.3" width="0.9" height="0.9" fill="#333"/>
<rect x="461.5" y="133.6" width="0.9" height="0.9" fill="#333"/>
<rect x="458.2" y="148.3" width="0.9" height="0.9" fill="#333"/>
<rect x="456.7" y="142.1" width="0.9" height="0.9" fill="#333"/>
<rect x="462.8" y="130.2" width="0.9" height="0.9" fill="#333"/>
<rect x="462.0" y="239.3" width="0.9" height="0.9" fill="#333"/>
<rect x="465.2" y="64.7" width="0.9" height="0.9" fill="#333"/>
<rect x="464.2" y="168.1" width="0.9" height="0.9" fill="#333"/>
<rect x="456.8" y="112.3" width="0.9" height="0.9" fill="#333"/>
<rect x="458.6" y="52.5" width="0.9" height="0.9" fill="#333"/>
<rect x="461.7" y="233.1" width="0.9" height="0.9" fill="#333"/>
<rect x="459.5" y="220.5" width="0.9" height="0.9" fill="#333"/>
<rect x="463.2" y="64.5" width="0.9" height="0.9" fill="#333"/>
<rect x="464.9" y="163.4" width="0.9" height="0.9" fill="#333"/>
<rect x="465.6" y="187.8" width="0.9" height="0.9" fill="#333"/>
<rect x="463.7" y="108.8" width="0.9" height="0.9" fill="#333"/>
<rect x="464.4" y="233.5" width="0.9" height="0.9" fill="#333"/>
<rect x="464.9" y="128.6" width="0.9" height="0.9" fill="#333"/>
<rect x="463.9" y="138.8" width="0.9" height="0.9" fill="#333"/>
<rect x="457.4" y="45.1" width="0.9" height="0.9" fill="#333"/>
<rect x="457.1" y="78.5" width="0.9" height="0.9" fill="#333"/>
<rect x="457.9" y="141.4" width="0.9" height="0.9" fill="#333"/>
<rect x="463.3" y="149.9" width="0.9" height="0.9" fill="#333"/>
<rect x="460.5" y="173.6" width="0.9" height="0.9" fill="#333"/>
<rect x="459.3" y="134.5" width="0.9" height="0.9" fill="#333"/>
<rect x="463.9" y="121.1" width="0.9" height="0.9" fill="#333"/>
<rect x="458.1" y="226.7" width="0.9" height="0.9" fill="#333"/>
<rect x="463.5" y="113.8" width="0.9" height="0.9" fill="#333"/>
<rect x="460.0" y="148.2" width="0.9" height="0.9" fill="#333"/>
<rect x="462.3" y="83.5" width="0.9" height="0.9" fill="#333"/>
<rect x="456.3" y="80.3" width="0.9" height="0.9" fill="#333"/>
<rect x="464.1" y="66.4" width="0.9" height="0.9" fill="#333"/>
<rect x="460.9" y="77.4" width="0.9" height="0.9" fill="#333"/>
<rect x="458.4" y="72.2" width="0.9" height="0.9" fill="#333"/>
<line x1="462.5" y1="38.0" x2="462.5" y2="246.0" stroke="#111" stroke-width="1.04" stroke-dasharray="3,2.5"/>
<polyline points="448.5,35.5 440.0,35.5 440.0,44.0 448.5,44.0" fill="none" stroke="#111" stroke-width="1.69" stroke-linejoin="round"/>
<path d="M438.8,249.5 L439.5,243 Q440,239.5 443.5,239.5 L446,239.5 Q449.5,239.5 449.8,243 L450,249.5" fill="none" stroke="#111" stroke-width="1.95"/>
<path d="M418.3,36 L418.3,39.5 Q421.8,40.0 421.8,42.5 L421.8,45.0 Q421.8,47.5 418.3,48.0 L418.3,64.0 Q421.8,64.5 421.8,67.0 L421.8,69.5 Q421.8,72.0 418.3,72.5 L418.3,88.5 Q421.8,89.0 421.8,91.5 L421.8,94.0 Q421.8,96.5 418.3,97.0 L418.3,113.0 Q421.8,113.5 421.8,116.0 L421.8,118.5 Q421.8,121.0 418.3,121.5 L418.3,137.5 Q421.8,138.0 421.8,140.5 L421.8,143.0 Q421.8,145.5 418.3,146.0 L418.3,162.0 Q421.8,162.5 421.8,165.0 L421.8,167.5 Q421.8,170.0 418.3,170.5 L418.3,186.5 Q421.8,187.0 421.8,189.5 L421.8,192.0 Q421.8,194.5 418.3,195.0 L418.3,211.0 Q421.8,211.5 421.8,214.0 L421.8,216.5 Q421.8,219.0 418.3,219.5 L418.3,235.5 Q421.8,236.0 421.8,238.5 L421.8,241.0 Q421.8,243.5 418.3,244.0 " fill="none" stroke="#111" stroke-width="1.56" stroke-dasharray="4,1.2"/>
<circle cx="444.5" cy="68.3" r="2.6" fill="#111" stroke="#111" stroke-width="1.56"/>
<line x1="444.5" y1="59.8" x2="444.5" y2="76.3" stroke="#111" stroke-width="1.56"/>
<line x1="437.0" y1="68.3" x2="452.0" y2="68.3" stroke="#111" stroke-width="1.56"/>
<line x1="455.0" y1="68.3" x2="467.0" y2="68.3" stroke="#111" stroke-width="1.17"/>
<line x1="473.0" y1="68.3" x2="474.0" y2="68.3" stroke="#111" stroke-width="1.56"/>
<line x1="483.7" y1="68.3" x2="522.3" y2="68.3" stroke="#111" stroke-width="1.69"/>
<circle cx="444.5" cy="117.5" r="2.6" fill="#111" stroke="#111" stroke-width="1.56"/>
<line x1="444.5" y1="109.0" x2="444.5" y2="125.5" stroke="#111" stroke-width="1.56"/>
<line x1="437.0" y1="117.5" x2="452.0" y2="117.5" stroke="#111" stroke-width="1.56"/>
<line x1="455.0" y1="117.5" x2="467.0" y2="117.5" stroke="#111" stroke-width="1.17"/>
<line x1="473.0" y1="117.5" x2="474.0" y2="117.5" stroke="#111" stroke-width="1.56"/>
<line x1="483.7" y1="117.5" x2="522.3" y2="117.5" stroke="#111" stroke-width="1.69"/>
<circle cx="444.5" cy="167.0" r="2.6" fill="#111" stroke="#111" stroke-width="1.56"/>
<line x1="444.5" y1="158.5" x2="444.5" y2="175.0" stroke="#111" stroke-width="1.56"/>
<line x1="437.0" y1="167.0" x2="452.0" y2="167.0" stroke="#111" stroke-width="1.56"/>
<line x1="455.0" y1="167.0" x2="467.0" y2="167.0" stroke="#111" stroke-width="1.17"/>
<line x1="473.0" y1="167.0" x2="474.0" y2="167.0" stroke="#111" stroke-width="1.56"/>
<line x1="483.7" y1="167.0" x2="522.3" y2="167.0" stroke="#111" stroke-width="1.69"/>
<circle cx="444.5" cy="216.0" r="2.6" fill="#111" stroke="#111" stroke-width="1.56"/>
<line x1="444.5" y1="207.5" x2="444.5" y2="224.0" stroke="#111" stroke-width="1.56"/>
<line x1="437.0" y1="216.0" x2="452.0" y2="216.0" stroke="#111" stroke-width="1.56"/>
<line x1="455.0" y1="216.0" x2="467.0" y2="216.0" stroke="#111" stroke-width="1.17"/>
<line x1="473.0" y1="216.0" x2="474.0" y2="216.0" stroke="#111" stroke-width="1.56"/>
<line x1="483.7" y1="216.0" x2="522.3" y2="216.0" stroke="#111" stroke-width="1.69"/>
<line x1="517.5" y1="30.0" x2="517.5" y2="252.0" stroke="#111" stroke-width="1.69"/>
<line x1="482.6" y1="249.6" x2="523.0" y2="249.6" stroke="#111" stroke-width="1.56"/>
<g transform="translate(510.2,50.0) rotate(-90.0)">
<text x="-8.3" y="2.8" font-family="Liberation Sans" font-weight="bold" font-size="7.8" textLength="4.7" lengthAdjust="spacingAndGlyphs" fill="#111" stroke="#111" stroke-width="0.25">3</text>
<text x="-2.3" y="2.8" font-family="Liberation Sans" font-weight="bold" font-size="7.8" textLength="4.7" lengthAdjust="spacingAndGlyphs" fill="#111" stroke="#111" stroke-width="0.25">4</text>
<text x="3.7" y="2.8" font-family="Liberation Sans" font-weight="bold" font-size="7.8" textLength="4.7" lengthAdjust="spacingAndGlyphs" fill="#111" stroke="#111" stroke-width="0.25">0</text>
</g>
<g transform="translate(510.2,91.0) rotate(-90.0)">
<text x="-7.6" y="2.8" font-family="Liberation Sans" font-weight="bold" font-size="7.8" textLength="4.3" lengthAdjust="spacingAndGlyphs" fill="#111" stroke="#111" stroke-width="0.25">5</text>
<text x="-2.1" y="2.8" font-family="Liberation Sans" font-weight="bold" font-size="7.8" textLength="4.3" lengthAdjust="spacingAndGlyphs" fill="#111" stroke="#111" stroke-width="0.25">0</text>
<text x="3.4" y="2.8" font-family="Liberation Sans" font-weight="bold" font-size="7.8" textLength="4.3" lengthAdjust="spacingAndGlyphs" fill="#111" stroke="#111" stroke-width="0.25">0</text>
</g>
<g transform="translate(510.2,140.5) rotate(-90.0)">
<text x="-7.9" y="2.8" font-family="Liberation Sans" font-weight="bold" font-size="7.8" textLength="4.4" lengthAdjust="spacingAndGlyphs" fill="#111" stroke="#111" stroke-width="0.25">5</text>
<text x="-2.2" y="2.8" font-family="Liberation Sans" font-weight="bold" font-size="7.8" textLength="4.4" lengthAdjust="spacingAndGlyphs" fill="#111" stroke="#111" stroke-width="0.25">0</text>
<text x="3.5" y="2.8" font-family="Liberation Sans" font-weight="bold" font-size="7.8" textLength="4.4" lengthAdjust="spacingAndGlyphs" fill="#111" stroke="#111" stroke-width="0.25">0</text>
</g>
<g transform="translate(510.2,189.0) rotate(-90.0)">
<text x="-7.4" y="2.8" font-family="Liberation Sans" font-weight="bold" font-size="7.8" textLength="4.2" lengthAdjust="spacingAndGlyphs" fill="#111" stroke="#111" stroke-width="0.25">5</text>
<text x="-2.1" y="2.8" font-family="Liberation Sans" font-weight="bold" font-size="7.8" textLength="4.2" lengthAdjust="spacingAndGlyphs" fill="#111" stroke="#111" stroke-width="0.25">0</text>
<text x="3.3" y="2.8" font-family="Liberation Sans" font-weight="bold" font-size="7.8" textLength="4.2" lengthAdjust="spacingAndGlyphs" fill="#111" stroke="#111" stroke-width="0.25">0</text>
</g>
<g transform="translate(510.6,232.7) rotate(-90.0)">
<text x="-7.6" y="2.8" font-family="Liberation Sans" font-weight="bold" font-size="7.8" textLength="4.3" lengthAdjust="spacingAndGlyphs" fill="#111" stroke="#111" stroke-width="0.25">3</text>
<text x="-2.1" y="2.8" font-family="Liberation Sans" font-weight="bold" font-size="7.8" textLength="4.3" lengthAdjust="spacingAndGlyphs" fill="#111" stroke="#111" stroke-width="0.25">4</text>
<text x="3.4" y="2.8" font-family="Liberation Sans" font-weight="bold" font-size="7.8" textLength="4.3" lengthAdjust="spacingAndGlyphs" fill="#111" stroke="#111" stroke-width="0.25">0</text>
</g>
<text x="346.8" y="153.5" font-family="Liberation Sans" font-weight="bold" font-size="11.1" textLength="5.6" lengthAdjust="spacingAndGlyphs" fill="#111" stroke="#111" stroke-width="0.4">П</text>
<text x="354.0" y="153.5" font-family="Liberation Sans" font-weight="bold" font-size="11.1" textLength="5.6" lengthAdjust="spacingAndGlyphs" fill="#111" stroke="#111" stroke-width="0.4">Р</text>
<text x="361.1" y="153.5" font-family="Liberation Sans" font-weight="bold" font-size="11.1" textLength="5.6" lengthAdjust="spacingAndGlyphs" fill="#111" stroke="#111" stroke-width="0.4">О</text>
<text x="368.3" y="153.5" font-family="Liberation Sans" font-weight="bold" font-size="11.1" textLength="5.6" lengthAdjust="spacingAndGlyphs" fill="#111" stroke="#111" stroke-width="0.4">Б</text>
<text x="375.5" y="153.5" font-family="Liberation Sans" font-weight="bold" font-size="11.1" textLength="5.6" lengthAdjust="spacingAndGlyphs" fill="#111" stroke="#111" stroke-width="0.4">К</text>
<text x="382.6" y="153.5" font-family="Liberation Sans" font-weight="bold" font-size="11.1" textLength="5.6" lengthAdjust="spacingAndGlyphs" fill="#111" stroke="#111" stroke-width="0.4">А</text>
<line x1="334.9" y1="156.4" x2="395.5" y2="156.4" stroke="#111" stroke-width="1.69"/>
<line x1="395.5" y1="156.4" x2="444.5" y2="117.5" stroke="#111" stroke-width="1.69"/>
<text x="343.1" y="165.8" font-family="Liberation Sans" font-weight="bold" font-size="9.7" textLength="5.4" lengthAdjust="spacingAndGlyphs" fill="#111" stroke="#111" stroke-width="0.55">ф</text>
<text x="350.0" y="165.8" font-family="Liberation Sans" font-weight="bold" font-size="9.7" textLength="5.4" lengthAdjust="spacingAndGlyphs" fill="#111" stroke="#111" stroke-width="0.55">5</text>
<text x="357.0" y="165.8" font-family="Liberation Sans" font-weight="bold" font-size="9.7" textLength="5.4" lengthAdjust="spacingAndGlyphs" fill="#111" stroke="#111" stroke-width="0.55">0</text>
<text x="368.8" y="165.8" font-family="Liberation Sans" font-weight="bold" font-size="9.7" textLength="5.4" lengthAdjust="spacingAndGlyphs" fill="#111" stroke="#111" stroke-width="0.55">М</text>
<text x="375.8" y="165.8" font-family="Liberation Sans" font-weight="bold" font-size="9.7" textLength="5.4" lengthAdjust="spacingAndGlyphs" fill="#111" stroke="#111" stroke-width="0.55">М</text>
<line x1="407.6" y1="187.6" x2="485.0" y2="187.6" stroke="#111" stroke-width="1.56"/>
<line x1="444.5" y1="172.0" x2="444.5" y2="191.5" stroke="#111" stroke-width="1.43"/>
<line x1="416.5" y1="183.0" x2="416.5" y2="192.0" stroke="#111" stroke-width="1.43"/>
<line x1="467.6" y1="183.0" x2="467.6" y2="192.0" stroke="#111" stroke-width="1.43"/>
<text x="423.6" y="186.3" font-family="Liberation Sans" font-weight="bold" font-size="8.8" textLength="4.1" lengthAdjust="spacingAndGlyphs" fill="#111" stroke="#111" stroke-width="0.25">2</text>
<text x="428.8" y="186.3" font-family="Liberation Sans" font-weight="bold" font-size="8.8" textLength="4.1" lengthAdjust="spacingAndGlyphs" fill="#111" stroke="#111" stroke-width="0.25">7</text>
<text x="434.0" y="186.3" font-family="Liberation Sans" font-weight="bold" font-size="8.8" textLength="4.1" lengthAdjust="spacingAndGlyphs" fill="#111" stroke="#111" stroke-width="0.25">5</text>
<text x="471.4" y="186.3" font-family="Liberation Sans" font-weight="bold" font-size="8.8" textLength="4.0" lengthAdjust="spacingAndGlyphs" fill="#111" stroke="#111" stroke-width="0.25">2</text>
<text x="476.5" y="186.3" font-family="Liberation Sans" font-weight="bold" font-size="8.8" textLength="4.0" lengthAdjust="spacingAndGlyphs" fill="#111" stroke="#111" stroke-width="0.25">2</text>
<text x="481.6" y="186.3" font-family="Liberation Sans" font-weight="bold" font-size="8.8" textLength="4.0" lengthAdjust="spacingAndGlyphs" fill="#111" stroke="#111" stroke-width="0.25">5</text>
<g transform="translate(478.6,235.7) rotate(-90.0)">
<text x="-4.3" y="3.8" font-family="Liberation Sans" font-weight="bold" font-size="10.4" textLength="3.8" lengthAdjust="spacingAndGlyphs" fill="#111" stroke="#111" stroke-width="0.25">3</text>
<text x="0.5" y="3.8" font-family="Liberation Sans" font-weight="bold" font-size="10.4" textLength="3.8" lengthAdjust="spacingAndGlyphs" fill="#111" stroke="#111" stroke-width="0.25">5</text>
</g>
<g transform="translate(478.3,256.4) rotate(-90.0)">
<text x="-4.0" y="3.8" font-family="Liberation Sans" font-weight="bold" font-size="10.4" textLength="3.5" lengthAdjust="spacingAndGlyphs" fill="#111" stroke="#111" stroke-width="0.25">3</text>
<text x="0.5" y="3.8" font-family="Liberation Sans" font-weight="bold" font-size="10.4" textLength="3.5" lengthAdjust="spacingAndGlyphs" fill="#111" stroke="#111" stroke-width="0.25">0</text>
</g>
<line x1="476.7" y1="244.3" x2="489.6" y2="244.3" stroke="#111" stroke-width="1.30"/>
<line x1="476.7" y1="247.0" x2="489.6" y2="247.0" stroke="#111" stroke-width="1.30"/>
<line x1="484.8" y1="241.0" x2="484.8" y2="252.0" stroke="#111" stroke-width="1.30"/>
<text x="441.7" y="266.4" font-family="Liberation Sans" font-weight="bold" font-size="9.7" textLength="2.5" lengthAdjust="spacingAndGlyphs" fill="#111" stroke="#111" stroke-width="0.25">1</text>
<text x="444.9" y="266.4" font-family="Liberation Sans" font-weight="bold" font-size="9.7" textLength="2.5" lengthAdjust="spacingAndGlyphs" fill="#111" stroke="#111" stroke-width="0.25">8</text>
<rect x="455.6" y="258.3" width="10.6" height="8.1" fill="none" stroke="#111" stroke-width="1.30"/>
<text x="456.9" y="265.2" font-family="Liberation Sans" font-weight="bold" font-size="7.8" textLength="2.3" lengthAdjust="spacingAndGlyphs" fill="#111" stroke="#111" stroke-width="0.25">1</text>
<text x="459.9" y="265.2" font-family="Liberation Sans" font-weight="bold" font-size="7.8" textLength="2.3" lengthAdjust="spacingAndGlyphs" fill="#111" stroke="#111" stroke-width="0.25">6</text>
<text x="462.8" y="265.2" font-family="Liberation Sans" font-weight="bold" font-size="7.8" textLength="2.3" lengthAdjust="spacingAndGlyphs" fill="#111" stroke="#111" stroke-width="0.25">5</text>
<line x1="447.7" y1="267.4" x2="470.3" y2="267.4" stroke="#111" stroke-width="1.43"/>
<line x1="455.2" y1="256.1" x2="455.2" y2="272.3" stroke="#111" stroke-width="1.30"/>
<line x1="453.6" y1="256.1" x2="453.6" y2="272.3" stroke="#111" stroke-width="1.30"/>
<line x1="416.0" y1="256.7" x2="416.0" y2="289.0" stroke="#111" stroke-width="1.43"/>
<line x1="469.0" y1="256.7" x2="469.0" y2="289.0" stroke="#111" stroke-width="1.43"/>
<line x1="409.6" y1="283.8" x2="471.5" y2="283.8" stroke="#111" stroke-width="1.69"/>
<text x="435.9" y="280.0" font-family="Liberation Sans" font-weight="bold" font-size="7.6" textLength="3.7" lengthAdjust="spacingAndGlyphs" fill="#111" stroke="#111" stroke-width="0.25">5</text>
<text x="440.7" y="280.0" font-family="Liberation Sans" font-weight="bold" font-size="7.6" textLength="3.7" lengthAdjust="spacingAndGlyphs" fill="#111" stroke="#111" stroke-width="0.25">0</text>
<text x="445.4" y="280.0" font-family="Liberation Sans" font-weight="bold" font-size="7.6" textLength="3.7" lengthAdjust="spacingAndGlyphs" fill="#111" stroke="#111" stroke-width="0.25">0</text>
<text x="422.6" y="311.7" font-family="Liberation Sans" font-weight="bold" font-size="14.7" textLength="5.3" lengthAdjust="spacingAndGlyphs" fill="#111" stroke="#111" stroke-width="0.8">П</text>
<text x="433.6" y="311.7" font-family="Liberation Sans" font-weight="bold" font-size="10.7" textLength="4.2" lengthAdjust="spacingAndGlyphs" fill="#111" stroke="#111" stroke-width="0.9">о</text>
<text x="446.6" y="311.0" font-family="Liberation Sans" font-weight="bold" font-size="14.9" textLength="5.7" lengthAdjust="spacingAndGlyphs" fill="#111" stroke="#111" stroke-width="0.8">2</text>
<line x1="456.5" y1="306.8" x2="458.8" y2="306.8" stroke="#111" stroke-width="2.08"/>
<text x="464.0" y="311.3" font-family="Liberation Sans" font-weight="bold" font-size="15.3" textLength="6.5" lengthAdjust="spacingAndGlyphs" fill="#111" stroke="#111" stroke-width="0.8">2</text>
<line x1="616.0" y1="103.5" x2="773.3" y2="12.4" stroke="#111" stroke-width="1.69"/>
<line x1="611.0" y1="91.0" x2="636.0" y2="105.0" stroke="#111" stroke-width="1.69"/>
<line x1="759.0" y1="14.2" x2="782.8" y2="25.3" stroke="#111" stroke-width="1.69"/>
<g transform="translate(700.5,48.3) rotate(-29.5)">
<text x="-12.3" y="3.2" font-family="Liberation Sans" font-weight="bold" font-size="9.0" textLength="5.1" lengthAdjust="spacingAndGlyphs" fill="#111" stroke="#111" stroke-width="0.25">1</text>
<text x="-5.8" y="3.2" font-family="Liberation Sans" font-weight="bold" font-size="9.0" textLength="5.1" lengthAdjust="spacingAndGlyphs" fill="#111" stroke="#111" stroke-width="0.25">6</text>
<text x="0.7" y="3.2" font-family="Liberation Sans" font-weight="bold" font-size="9.0" textLength="5.1" lengthAdjust="spacingAndGlyphs" fill="#111" stroke="#111" stroke-width="0.25">4</text>
<text x="7.2" y="3.2" font-family="Liberation Sans" font-weight="bold" font-size="9.0" textLength="5.1" lengthAdjust="spacingAndGlyphs" fill="#111" stroke="#111" stroke-width="0.25">0</text>
</g>
<line x1="627.0" y1="121.8" x2="627.0" y2="349.7" stroke="#111" stroke-width="1.69"/>
<line x1="609.7" y1="136.6" x2="643.1" y2="118.0" stroke="#111" stroke-width="1.69"/>
<line x1="616.7" y1="351.0" x2="644.6" y2="333.0" stroke="#111" stroke-width="1.69"/>
<g transform="translate(619.0,244.6) rotate(-90.0)">
<text x="-13.2" y="3.8" font-family="Liberation Sans" font-weight="bold" font-size="10.6" textLength="5.5" lengthAdjust="spacingAndGlyphs" fill="#111" stroke="#111" stroke-width="0.25">2</text>
<text x="-6.2" y="3.8" font-family="Liberation Sans" font-weight="bold" font-size="10.6" textLength="5.5" lengthAdjust="spacingAndGlyphs" fill="#111" stroke="#111" stroke-width="0.25">1</text>
<text x="0.8" y="3.8" font-family="Liberation Sans" font-weight="bold" font-size="10.6" textLength="5.5" lengthAdjust="spacingAndGlyphs" fill="#111" stroke="#111" stroke-width="0.25">8</text>
<text x="7.8" y="3.8" font-family="Liberation Sans" font-weight="bold" font-size="10.6" textLength="5.5" lengthAdjust="spacingAndGlyphs" fill="#111" stroke="#111" stroke-width="0.25">0</text>
</g>
<line x1="627.0" y1="345.5" x2="668.3" y2="369.3" stroke="#111" stroke-width="1.69"/>
<line x1="657.2" y1="374.8" x2="687.9" y2="356.7" stroke="#111" stroke-width="1.69"/>
<g transform="translate(651.8,352.0) rotate(30.0)">
<text x="-9.3" y="3.5" font-family="Liberation Sans" font-weight="bold" font-size="9.7" textLength="5.2" lengthAdjust="spacingAndGlyphs" fill="#111" stroke="#111" stroke-width="0.25">5</text>
<text x="-2.6" y="3.5" font-family="Liberation Sans" font-weight="bold" font-size="9.7" textLength="5.2" lengthAdjust="spacingAndGlyphs" fill="#111" stroke="#111" stroke-width="0.25">0</text>
<text x="4.1" y="3.5" font-family="Liberation Sans" font-weight="bold" font-size="9.7" textLength="5.2" lengthAdjust="spacingAndGlyphs" fill="#111" stroke="#111" stroke-width="0.25">0</text>
</g>
<polygon points="651.5,112.5 794.2,32.0 803.6,37.7 801,37.2 658.5,115.8 661.8,117.6" fill="#fff" stroke="#111" stroke-width="1.7" stroke-linejoin="round"/>
<rect x="700.5" y="87.2" width="2.2" height="0.9" fill="#222" transform="rotate(-29 700.5 87.2)"/>
<rect x="664.3" y="110.1" width="1.0" height="0.9" fill="#222" transform="rotate(-29 664.3 110.1)"/>
<rect x="706.0" y="83.8" width="2.2" height="0.9" fill="#222" transform="rotate(-29 706.0 83.8)"/>
<rect x="685.0" y="95.7" width="1.6" height="0.9" fill="#222" transform="rotate(-29 685.0 95.7)"/>
<rect x="664.8" y="107.2" width="1.6" height="0.9" fill="#222" transform="rotate(-29 664.8 107.2)"/>
<rect x="664.9" y="108.8" width="1.0" height="0.9" fill="#222" transform="rotate(-29 664.9 108.8)"/>
<rect x="744.9" y="63.7" width="1.0" height="0.9" fill="#222" transform="rotate(-29 744.9 63.7)"/>
<rect x="736.8" y="67.6" width="1.0" height="0.9" fill="#222" transform="rotate(-29 736.8 67.6)"/>
<rect x="664.2" y="110.3" width="1.6" height="0.9" fill="#222" transform="rotate(-29 664.2 110.3)"/>
<rect x="715.2" y="80.3" width="2.2" height="0.9" fill="#222" transform="rotate(-29 715.2 80.3)"/>
<rect x="700.7" y="89.5" width="1.0" height="0.9" fill="#222" transform="rotate(-29 700.7 89.5)"/>
<rect x="671.1" y="105.3" width="1.0" height="0.9" fill="#222" transform="rotate(-29 671.1 105.3)"/>
<rect x="708.7" y="84.0" width="1.0" height="0.9" fill="#222" transform="rotate(-29 708.7 84.0)"/>
<rect x="735.8" y="69.0" width="1.6" height="0.9" fill="#222" transform="rotate(-29 735.8 69.0)"/>
<rect x="751.3" y="59.5" width="1.6" height="0.9" fill="#222" transform="rotate(-29 751.3 59.5)"/>
<rect x="723.0" y="77.3" width="1.6" height="0.9" fill="#222" transform="rotate(-29 723.0 77.3)"/>
<rect x="699.4" y="90.2" width="2.2" height="0.9" fill="#222" transform="rotate(-29 699.4 90.2)"/>
<rect x="764.0" y="51.1" width="1.6" height="0.9" fill="#222" transform="rotate(-29 764.0 51.1)"/>
<rect x="731.2" y="72.5" width="2.2" height="0.9" fill="#222" transform="rotate(-29 731.2 72.5)"/>
<rect x="719.6" y="78.1" width="1.0" height="0.9" fill="#222" transform="rotate(-29 719.6 78.1)"/>
<rect x="672.7" y="103.9" width="1.6" height="0.9" fill="#222" transform="rotate(-29 672.7 103.9)"/>
<rect x="677.6" y="101.3" width="1.0" height="0.9" fill="#222" transform="rotate(-29 677.6 101.3)"/>
<rect x="789.5" y="36.8" width="2.2" height="0.9" fill="#222" transform="rotate(-29 789.5 36.8)"/>
<rect x="737.9" y="68.8" width="1.6" height="0.9" fill="#222" transform="rotate(-29 737.9 68.8)"/>
<rect x="703.5" y="86.3" width="1.6" height="0.9" fill="#222" transform="rotate(-29 703.5 86.3)"/>
<rect x="737.4" y="67.5" width="1.0" height="0.9" fill="#222" transform="rotate(-29 737.4 67.5)"/>
<rect x="788.4" y="38.8" width="2.2" height="0.9" fill="#222" transform="rotate(-29 788.4 38.8)"/>
<rect x="666.3" y="108.6" width="1.6" height="0.9" fill="#222" transform="rotate(-29 666.3 108.6)"/>
<rect x="748.7" y="63.1" width="1.6" height="0.9" fill="#222" transform="rotate(-29 748.7 63.1)"/>
<rect x="695.8" y="90.7" width="2.2" height="0.9" fill="#222" transform="rotate(-29 695.8 90.7)"/>
<rect x="706.5" y="86.7" width="1.6" height="0.9" fill="#222" transform="rotate(-29 706.5 86.7)"/>
<rect x="678.6" y="99.5" width="1.0" height="0.9" fill="#222" transform="rotate(-29 678.6 99.5)"/>
<rect x="686.2" y="95.8" width="2.2" height="0.9" fill="#222" transform="rotate(-29 686.2 95.8)"/>
<rect x="690.7" y="93.6" width="1.6" height="0.9" fill="#222" transform="rotate(-29 690.7 93.6)"/>
<rect x="667.5" y="106.9" width="2.2" height="0.9" fill="#222" transform="rotate(-29 667.5 106.9)"/>
<rect x="694.0" y="90.8" width="1.6" height="0.9" fill="#222" transform="rotate(-29 694.0 90.8)"/>
<rect x="776.5" y="44.8" width="1.6" height="0.9" fill="#222" transform="rotate(-29 776.5 44.8)"/>
<rect x="795.0" y="35.8" width="1.6" height="0.9" fill="#222" transform="rotate(-29 795.0 35.8)"/>
<rect x="789.1" y="37.2" width="1.0" height="0.9" fill="#222" transform="rotate(-29 789.1 37.2)"/>
<rect x="678.1" y="101.7" width="1.0" height="0.9" fill="#222" transform="rotate(-29 678.1 101.7)"/>
<rect x="724.6" y="75.2" width="1.6" height="0.9" fill="#222" transform="rotate(-29 724.6 75.2)"/>
<rect x="694.6" y="90.5" width="2.2" height="0.9" fill="#222" transform="rotate(-29 694.6 90.5)"/>
<rect x="708.3" y="84.3" width="1.0" height="0.9" fill="#222" transform="rotate(-29 708.3 84.3)"/>
<rect x="753.0" y="58.9" width="2.2" height="0.9" fill="#222" transform="rotate(-29 753.0 58.9)"/>
<rect x="748.9" y="62.1" width="1.6" height="0.9" fill="#222" transform="rotate(-29 748.9 62.1)"/>
<rect x="783.2" y="42.8" width="2.2" height="0.9" fill="#222" transform="rotate(-29 783.2 42.8)"/>
<rect x="767.6" y="50.2" width="1.6" height="0.9" fill="#222" transform="rotate(-29 767.6 50.2)"/>
<rect x="711.5" y="82.2" width="1.6" height="0.9" fill="#222" transform="rotate(-29 711.5 82.2)"/>
<rect x="663.6" y="107.7" width="1.0" height="0.9" fill="#222" transform="rotate(-29 663.6 107.7)"/>
<rect x="716.7" y="77.9" width="2.2" height="0.9" fill="#222" transform="rotate(-29 716.7 77.9)"/>
<rect x="662.0" y="108.4" width="1.0" height="0.9" fill="#222" transform="rotate(-29 662.0 108.4)"/>
<rect x="733.0" y="71.8" width="2.2" height="0.9" fill="#222" transform="rotate(-29 733.0 71.8)"/>
<rect x="661.3" y="112.0" width="2.2" height="0.9" fill="#222" transform="rotate(-29 661.3 112.0)"/>
<rect x="709.5" y="83.9" width="1.6" height="0.9" fill="#222" transform="rotate(-29 709.5 83.9)"/>
<rect x="740.6" y="65.8" width="1.0" height="0.9" fill="#222" transform="rotate(-29 740.6 65.8)"/>
<rect x="776.9" y="47.2" width="1.6" height="0.9" fill="#222" transform="rotate(-29 776.9 47.2)"/>
<rect x="722.9" y="75.1" width="1.0" height="0.9" fill="#222" transform="rotate(-29 722.9 75.1)"/>
<rect x="670.2" y="105.0" width="1.6" height="0.9" fill="#222" transform="rotate(-29 670.2 105.0)"/>
<rect x="724.0" y="75.9" width="2.2" height="0.9" fill="#222" transform="rotate(-29 724.0 75.9)"/>
<rect x="661.2" y="112.3" width="2.2" height="0.9" fill="#222" transform="rotate(-29 661.2 112.3)"/>
<rect x="707.7" y="85.1" width="1.0" height="0.9" fill="#222" transform="rotate(-29 707.7 85.1)"/>
<rect x="761.7" y="53.2" width="2.2" height="0.9" fill="#222" transform="rotate(-29 761.7 53.2)"/>
<rect x="777.8" y="45.6" width="1.6" height="0.9" fill="#222" transform="rotate(-29 777.8 45.6)"/>
<rect x="730.4" y="73.1" width="1.6" height="0.9" fill="#222" transform="rotate(-29 730.4 73.1)"/>
<rect x="764.5" y="52.5" width="2.2" height="0.9" fill="#222" transform="rotate(-29 764.5 52.5)"/>
<rect x="701.6" y="86.9" width="1.0" height="0.9" fill="#222" transform="rotate(-29 701.6 86.9)"/>
<rect x="770.3" y="50.3" width="2.2" height="0.9" fill="#222" transform="rotate(-29 770.3 50.3)"/>
<rect x="767.7" y="49.5" width="1.6" height="0.9" fill="#222" transform="rotate(-29 767.7 49.5)"/>
<rect x="704.5" y="84.5" width="1.0" height="0.9" fill="#222" transform="rotate(-29 704.5 84.5)"/>
<rect x="766.8" y="51.0" width="1.0" height="0.9" fill="#222" transform="rotate(-29 766.8 51.0)"/>
<rect x="754.9" y="59.5" width="1.6" height="0.9" fill="#222" transform="rotate(-29 754.9 59.5)"/>
<rect x="770.3" y="49.9" width="1.6" height="0.9" fill="#222" transform="rotate(-29 770.3 49.9)"/>
<rect x="789.5" y="37.8" width="1.0" height="0.9" fill="#222" transform="rotate(-29 789.5 37.8)"/>
<rect x="670.6" y="105.2" width="1.6" height="0.9" fill="#222" transform="rotate(-29 670.6 105.2)"/>
<rect x="685.4" y="97.4" width="2.2" height="0.9" fill="#222" transform="rotate(-29 685.4 97.4)"/>
<rect x="773.9" y="47.0" width="2.2" height="0.9" fill="#222" transform="rotate(-29 773.9 47.0)"/>
<rect x="705.0" y="86.4" width="2.2" height="0.9" fill="#222" transform="rotate(-29 705.0 86.4)"/>
<rect x="672.8" y="103.7" width="2.2" height="0.9" fill="#222" transform="rotate(-29 672.8 103.7)"/>
<rect x="761.3" y="54.1" width="1.0" height="0.9" fill="#222" transform="rotate(-29 761.3 54.1)"/>
<rect x="717.6" y="79.3" width="1.0" height="0.9" fill="#222" transform="rotate(-29 717.6 79.3)"/>
<rect x="770.1" y="50.9" width="1.6" height="0.9" fill="#222" transform="rotate(-29 770.1 50.9)"/>
<rect x="722.0" y="77.2" width="1.0" height="0.9" fill="#222" transform="rotate(-29 722.0 77.2)"/>
<rect x="756.6" y="55.6" width="1.0" height="0.9" fill="#222" transform="rotate(-29 756.6 55.6)"/>
<rect x="660.6" y="111.3" width="1.6" height="0.9" fill="#222" transform="rotate(-29 660.6 111.3)"/>
<rect x="768.0" y="49.1" width="2.2" height="0.9" fill="#222" transform="rotate(-29 768.0 49.1)"/>
<rect x="794.1" y="36.3" width="1.6" height="0.9" fill="#222" transform="rotate(-29 794.1 36.3)"/>
<rect x="678.4" y="101.1" width="1.0" height="0.9" fill="#222" transform="rotate(-29 678.4 101.1)"/>
<rect x="660.1" y="113.0" width="2.2" height="0.9" fill="#222" transform="rotate(-29 660.1 113.0)"/>
<rect x="671.7" y="105.6" width="1.0" height="0.9" fill="#222" transform="rotate(-29 671.7 105.6)"/>
<rect x="718.4" y="79.7" width="1.0" height="0.9" fill="#222" transform="rotate(-29 718.4 79.7)"/>
<rect x="659.3" y="110.7" width="2.2" height="0.9" fill="#222" transform="rotate(-29 659.3 110.7)"/>
<rect x="690.4" y="94.5" width="1.6" height="0.9" fill="#222" transform="rotate(-29 690.4 94.5)"/>
<rect x="733.7" y="71.0" width="1.0" height="0.9" fill="#222" transform="rotate(-29 733.7 71.0)"/>
<rect x="783.2" y="41.3" width="1.6" height="0.9" fill="#222" transform="rotate(-29 783.2 41.3)"/>
<rect x="750.2" y="61.6" width="2.2" height="0.9" fill="#222" transform="rotate(-29 750.2 61.6)"/>
<rect x="716.7" y="80.9" width="2.2" height="0.9" fill="#222" transform="rotate(-29 716.7 80.9)"/>
<rect x="673.5" y="102.5" width="2.2" height="0.9" fill="#222" transform="rotate(-29 673.5 102.5)"/>
<rect x="658.8" y="111.8" width="1.0" height="0.9" fill="#222" transform="rotate(-29 658.8 111.8)"/>
<rect x="742.5" y="65.8" width="1.0" height="0.9" fill="#222" transform="rotate(-29 742.5 65.8)"/>
<rect x="680.4" y="99.7" width="2.2" height="0.9" fill="#222" transform="rotate(-29 680.4 99.7)"/>
<rect x="671.7" y="103.1" width="2.2" height="0.9" fill="#222" transform="rotate(-29 671.7 103.1)"/>
<rect x="729.1" y="72.5" width="1.0" height="0.9" fill="#222" transform="rotate(-29 729.1 72.5)"/>
<rect x="778.4" y="42.9" width="1.0" height="0.9" fill="#222" transform="rotate(-29 778.4 42.9)"/>
<rect x="696.1" y="91.9" width="2.2" height="0.9" fill="#222" transform="rotate(-29 696.1 91.9)"/>
<rect x="718.0" y="76.9" width="1.0" height="0.9" fill="#222" transform="rotate(-29 718.0 76.9)"/>
<rect x="718.8" y="78.6" width="2.2" height="0.9" fill="#222" transform="rotate(-29 718.8 78.6)"/>
<rect x="740.1" y="65.0" width="1.6" height="0.9" fill="#222" transform="rotate(-29 740.1 65.0)"/>
<rect x="719.8" y="77.7" width="1.6" height="0.9" fill="#222" transform="rotate(-29 719.8 77.7)"/>
<rect x="726.6" y="72.9" width="2.2" height="0.9" fill="#222" transform="rotate(-29 726.6 72.9)"/>
<rect x="780.6" y="44.9" width="1.6" height="0.9" fill="#222" transform="rotate(-29 780.6 44.9)"/>
<rect x="786.8" y="41.2" width="1.0" height="0.9" fill="#222" transform="rotate(-29 786.8 41.2)"/>
<rect x="772.6" y="46.5" width="1.0" height="0.9" fill="#222" transform="rotate(-29 772.6 46.5)"/>
<rect x="710.7" y="82.1" width="2.2" height="0.9" fill="#222" transform="rotate(-29 710.7 82.1)"/>
<rect x="688.6" y="93.7" width="2.2" height="0.9" fill="#222" transform="rotate(-29 688.6 93.7)"/>
<rect x="697.4" y="88.8" width="1.0" height="0.9" fill="#222" transform="rotate(-29 697.4 88.8)"/>
<rect x="788.3" y="39.5" width="1.6" height="0.9" fill="#222" transform="rotate(-29 788.3 39.5)"/>
<rect x="677.8" y="102.7" width="1.6" height="0.9" fill="#222" transform="rotate(-29 677.8 102.7)"/>
<rect x="688.7" y="96.8" width="1.6" height="0.9" fill="#222" transform="rotate(-29 688.7 96.8)"/>
<rect x="779.0" y="43.0" width="2.2" height="0.9" fill="#222" transform="rotate(-29 779.0 43.0)"/>
<rect x="771.7" y="47.1" width="1.6" height="0.9" fill="#222" transform="rotate(-29 771.7 47.1)"/>
<rect x="795.1" y="34.8" width="1.6" height="0.9" fill="#222" transform="rotate(-29 795.1 34.8)"/>
<rect x="683.2" y="97.6" width="2.2" height="0.9" fill="#222" transform="rotate(-29 683.2 97.6)"/>
<rect x="707.0" y="84.2" width="1.6" height="0.9" fill="#222" transform="rotate(-29 707.0 84.2)"/>
<rect x="716.3" y="77.8" width="1.6" height="0.9" fill="#222" transform="rotate(-29 716.3 77.8)"/>
<rect x="728.1" y="72.2" width="1.0" height="0.9" fill="#222" transform="rotate(-29 728.1 72.2)"/>
<rect x="673.7" y="105.1" width="1.0" height="0.9" fill="#222" transform="rotate(-29 673.7 105.1)"/>
<rect x="790.9" y="36.0" width="1.6" height="0.9" fill="#222" transform="rotate(-29 790.9 36.0)"/>
<rect x="695.9" y="92.6" width="1.0" height="0.9" fill="#222" transform="rotate(-29 695.9 92.6)"/>
<rect x="693.0" y="91.4" width="1.6" height="0.9" fill="#222" transform="rotate(-29 693.0 91.4)"/>
<rect x="775.9" y="46.6" width="1.6" height="0.9" fill="#222" transform="rotate(-29 775.9 46.6)"/>
<rect x="713.3" y="81.4" width="2.2" height="0.9" fill="#222" transform="rotate(-29 713.3 81.4)"/>
<rect x="736.9" y="68.7" width="1.0" height="0.9" fill="#222" transform="rotate(-29 736.9 68.7)"/>
<rect x="696.5" y="91.8" width="1.0" height="0.9" fill="#222" transform="rotate(-29 696.5 91.8)"/>
<rect x="714.4" y="79.1" width="1.0" height="0.9" fill="#222" transform="rotate(-29 714.4 79.1)"/>
<rect x="746.2" y="63.8" width="1.0" height="0.9" fill="#222" transform="rotate(-29 746.2 63.8)"/>
<rect x="740.5" y="64.9" width="1.6" height="0.9" fill="#222" transform="rotate(-29 740.5 64.9)"/>
<rect x="776.9" y="45.2" width="1.6" height="0.9" fill="#222" transform="rotate(-29 776.9 45.2)"/>
<rect x="795.2" y="34.8" width="1.6" height="0.9" fill="#222" transform="rotate(-29 795.2 34.8)"/>
<rect x="741.8" y="63.5" width="2.2" height="0.9" fill="#222" transform="rotate(-29 741.8 63.5)"/>
<rect x="688.4" y="93.9" width="1.0" height="0.9" fill="#222" transform="rotate(-29 688.4 93.9)"/>
<rect x="691.9" y="92.2" width="1.6" height="0.9" fill="#222" transform="rotate(-29 691.9 92.2)"/>
<rect x="744.5" y="63.8" width="1.0" height="0.9" fill="#222" transform="rotate(-29 744.5 63.8)"/>
<rect x="697.0" y="90.5" width="1.0" height="0.9" fill="#222" transform="rotate(-29 697.0 90.5)"/>
<rect x="695.3" y="92.5" width="1.6" height="0.9" fill="#222" transform="rotate(-29 695.3 92.5)"/>
<rect x="659.9" y="109.6" width="2.2" height="0.9" fill="#222" transform="rotate(-29 659.9 109.6)"/>
<rect x="732.4" y="69.4" width="1.6" height="0.9" fill="#222" transform="rotate(-29 732.4 69.4)"/>
<rect x="690.6" y="93.9" width="2.2" height="0.9" fill="#222" transform="rotate(-29 690.6 93.9)"/>
<rect x="770.7" y="48.6" width="1.6" height="0.9" fill="#222" transform="rotate(-29 770.7 48.6)"/>
<rect x="734.1" y="70.9" width="2.2" height="0.9" fill="#222" transform="rotate(-29 734.1 70.9)"/>
<rect x="698.5" y="88.6" width="1.0" height="0.9" fill="#222" transform="rotate(-29 698.5 88.6)"/>
<rect x="705.5" y="86.9" width="2.2" height="0.9" fill="#222" transform="rotate(-29 705.5 86.9)"/>
<rect x="757.1" y="55.3" width="1.6" height="0.9" fill="#222" transform="rotate(-29 757.1 55.3)"/>
<rect x="794.9" y="36.4" width="1.0" height="0.9" fill="#222" transform="rotate(-29 794.9 36.4)"/>
<rect x="667.2" y="108.2" width="1.6" height="0.9" fill="#222" transform="rotate(-29 667.2 108.2)"/>
<rect x="715.1" y="78.6" width="2.2" height="0.9" fill="#222" transform="rotate(-29 715.1 78.6)"/>
<rect x="775.4" y="47.6" width="2.2" height="0.9" fill="#222" transform="rotate(-29 775.4 47.6)"/>
<rect x="792.6" y="36.9" width="2.2" height="0.9" fill="#222" transform="rotate(-29 792.6 36.9)"/>
<rect x="697.3" y="90.2" width="1.0" height="0.9" fill="#222" transform="rotate(-29 697.3 90.2)"/>
<rect x="692.3" y="91.3" width="1.6" height="0.9" fill="#222" transform="rotate(-29 692.3 91.3)"/>
<rect x="792.6" y="38.2" width="2.2" height="0.9" fill="#222" transform="rotate(-29 792.6 38.2)"/>
<rect x="700.0" y="87.1" width="1.6" height="0.9" fill="#222" transform="rotate(-29 700.0 87.1)"/>
<rect x="685.8" y="95.6" width="1.6" height="0.9" fill="#222" transform="rotate(-29 685.8 95.6)"/>
<rect x="709.7" y="83.2" width="2.2" height="0.9" fill="#222" transform="rotate(-29 709.7 83.2)"/>
<rect x="747.3" y="61.2" width="1.0" height="0.9" fill="#222" transform="rotate(-29 747.3 61.2)"/>
<rect x="670.2" y="106.7" width="1.0" height="0.9" fill="#222" transform="rotate(-29 670.2 106.7)"/>
<rect x="710.7" y="81.1" width="1.0" height="0.9" fill="#222" transform="rotate(-29 710.7 81.1)"/>
<rect x="698.8" y="89.9" width="1.0" height="0.9" fill="#222" transform="rotate(-29 698.8 89.9)"/>
<rect x="738.4" y="67.2" width="1.0" height="0.9" fill="#222" transform="rotate(-29 738.4 67.2)"/>
<rect x="749.1" y="61.8" width="2.2" height="0.9" fill="#222" transform="rotate(-29 749.1 61.8)"/>
<rect x="710.3" y="82.3" width="1.6" height="0.9" fill="#222" transform="rotate(-29 710.3 82.3)"/>
<rect x="678.1" y="101.9" width="2.2" height="0.9" fill="#222" transform="rotate(-29 678.1 101.9)"/>
<rect x="677.8" y="102.5" width="2.2" height="0.9" fill="#222" transform="rotate(-29 677.8 102.5)"/>
<rect x="781.6" y="43.2" width="2.2" height="0.9" fill="#222" transform="rotate(-29 781.6 43.2)"/>
<rect x="754.5" y="58.0" width="2.2" height="0.9" fill="#222" transform="rotate(-29 754.5 58.0)"/>
<rect x="762.0" y="54.1" width="1.0" height="0.9" fill="#222" transform="rotate(-29 762.0 54.1)"/>
<rect x="772.3" y="48.3" width="2.2" height="0.9" fill="#222" transform="rotate(-29 772.3 48.3)"/>
<rect x="752.6" y="59.8" width="1.0" height="0.9" fill="#222" transform="rotate(-29 752.6 59.8)"/>
<rect x="666.7" y="105.9" width="2.2" height="0.9" fill="#222" transform="rotate(-29 666.7 105.9)"/>
<rect x="705.5" y="84.2" width="1.6" height="0.9" fill="#222" transform="rotate(-29 705.5 84.2)"/>
<rect x="735.0" y="69.5" width="2.2" height="0.9" fill="#222" transform="rotate(-29 735.0 69.5)"/>
<rect x="729.9" y="71.0" width="1.6" height="0.9" fill="#222" transform="rotate(-29 729.9 71.0)"/>
<rect x="657.9" y="113.6" width="2.2" height="0.9" fill="#222" transform="rotate(-29 657.9 113.6)"/>
<rect x="788.2" y="40.4" width="1.0" height="0.9" fill="#222" transform="rotate(-29 788.2 40.4)"/>
<rect x="747.1" y="60.6" width="2.2" height="0.9" fill="#222" transform="rotate(-29 747.1 60.6)"/>
<rect x="723.8" y="76.5" width="1.6" height="0.9" fill="#222" transform="rotate(-29 723.8 76.5)"/>
<rect x="690.2" y="95.2" width="1.0" height="0.9" fill="#222" transform="rotate(-29 690.2 95.2)"/>
<rect x="761.6" y="55.8" width="1.6" height="0.9" fill="#222" transform="rotate(-29 761.6 55.8)"/>
<rect x="773.2" y="45.9" width="2.2" height="0.9" fill="#222" transform="rotate(-29 773.2 45.9)"/>
<rect x="695.0" y="89.9" width="2.2" height="0.9" fill="#222" transform="rotate(-29 695.0 89.9)"/>
<rect x="744.8" y="61.9" width="1.0" height="0.9" fill="#222" transform="rotate(-29 744.8 61.9)"/>
<rect x="703.4" y="87.4" width="2.2" height="0.9" fill="#222" transform="rotate(-29 703.4 87.4)"/>
<rect x="699.2" y="89.4" width="1.0" height="0.9" fill="#222" transform="rotate(-29 699.2 89.4)"/>
<rect x="723.8" y="75.3" width="2.2" height="0.9" fill="#222" transform="rotate(-29 723.8 75.3)"/>
<rect x="669.4" y="105.0" width="1.6" height="0.9" fill="#222" transform="rotate(-29 669.4 105.0)"/>
<rect x="697.2" y="90.4" width="1.6" height="0.9" fill="#222" transform="rotate(-29 697.2 90.4)"/>
<rect x="722.5" y="77.0" width="2.2" height="0.9" fill="#222" transform="rotate(-29 722.5 77.0)"/>
<rect x="686.0" y="98.4" width="1.6" height="0.9" fill="#222" transform="rotate(-29 686.0 98.4)"/>
<rect x="658.7" y="111.9" width="2.2" height="0.9" fill="#222" transform="rotate(-29 658.7 111.9)"/>
<rect x="791.6" y="36.9" width="1.6" height="0.9" fill="#222" transform="rotate(-29 791.6 36.9)"/>
<rect x="712.0" y="83.5" width="1.0" height="0.9" fill="#222" transform="rotate(-29 712.0 83.5)"/>
<rect x="665.4" y="106.8" width="2.2" height="0.9" fill="#222" transform="rotate(-29 665.4 106.8)"/>
<rect x="731.3" y="72.7" width="1.0" height="0.9" fill="#222" transform="rotate(-29 731.3 72.7)"/>
<rect x="741.3" y="66.0" width="1.6" height="0.9" fill="#222" transform="rotate(-29 741.3 66.0)"/>
<rect x="781.2" y="43.7" width="1.0" height="0.9" fill="#222" transform="rotate(-29 781.2 43.7)"/>
<rect x="727.4" y="74.7" width="1.6" height="0.9" fill="#222" transform="rotate(-29 727.4 74.7)"/>
<rect x="658.2" y="110.6" width="1.6" height="0.9" fill="#222" transform="rotate(-29 658.2 110.6)"/>
<rect x="751.4" y="59.4" width="2.2" height="0.9" fill="#222" transform="rotate(-29 751.4 59.4)"/>
<rect x="675.6" y="102.0" width="1.6" height="0.9" fill="#222" transform="rotate(-29 675.6 102.0)"/>
<rect x="672.7" y="103.5" width="1.6" height="0.9" fill="#222" transform="rotate(-29 672.7 103.5)"/>
<rect x="762.6" y="54.7" width="1.0" height="0.9" fill="#222" transform="rotate(-29 762.6 54.7)"/>
<rect x="786.8" y="38.7" width="1.0" height="0.9" fill="#222" transform="rotate(-29 786.8 38.7)"/>
<rect x="781.8" y="41.9" width="1.6" height="0.9" fill="#222" transform="rotate(-29 781.8 41.9)"/>
<rect x="665.1" y="108.0" width="2.2" height="0.9" fill="#222" transform="rotate(-29 665.1 108.0)"/>
<rect x="668.6" y="108.0" width="1.6" height="0.9" fill="#222" transform="rotate(-29 668.6 108.0)"/>
<rect x="775.1" y="45.6" width="1.0" height="0.9" fill="#222" transform="rotate(-29 775.1 45.6)"/>
<rect x="772.4" y="47.1" width="1.0" height="0.9" fill="#222" transform="rotate(-29 772.4 47.1)"/>
<rect x="690.5" y="93.3" width="2.2" height="0.9" fill="#222" transform="rotate(-29 690.5 93.3)"/>
<rect x="701.5" y="88.9" width="1.6" height="0.9" fill="#222" transform="rotate(-29 701.5 88.9)"/>
<rect x="781.2" y="44.1" width="2.2" height="0.9" fill="#222" transform="rotate(-29 781.2 44.1)"/>
<rect x="713.7" y="82.4" width="2.2" height="0.9" fill="#222" transform="rotate(-29 713.7 82.4)"/>
<rect x="734.0" y="70.4" width="1.0" height="0.9" fill="#222" transform="rotate(-29 734.0 70.4)"/>
<rect x="786.7" y="39.6" width="2.2" height="0.9" fill="#222" transform="rotate(-29 786.7 39.6)"/>
<rect x="762.2" y="54.2" width="1.6" height="0.9" fill="#222" transform="rotate(-29 762.2 54.2)"/>
<rect x="725.8" y="75.7" width="2.2" height="0.9" fill="#222" transform="rotate(-29 725.8 75.7)"/>
<rect x="674.1" y="103.3" width="1.6" height="0.9" fill="#222" transform="rotate(-29 674.1 103.3)"/>
<rect x="695.0" y="90.7" width="2.2" height="0.9" fill="#222" transform="rotate(-29 695.0 90.7)"/>
<rect x="792.1" y="35.9" width="2.2" height="0.9" fill="#222" transform="rotate(-29 792.1 35.9)"/>
<rect x="689.7" y="94.5" width="2.2" height="0.9" fill="#222" transform="rotate(-29 689.7 94.5)"/>
<rect x="710.4" y="81.7" width="1.0" height="0.9" fill="#222" transform="rotate(-29 710.4 81.7)"/>
<rect x="666.9" y="107.4" width="1.6" height="0.9" fill="#222" transform="rotate(-29 666.9 107.4)"/>
<rect x="733.2" y="69.8" width="1.6" height="0.9" fill="#222" transform="rotate(-29 733.2 69.8)"/>
<rect x="795.6" y="34.7" width="1.0" height="0.9" fill="#222" transform="rotate(-29 795.6 34.7)"/>
<rect x="732.1" y="69.7" width="1.0" height="0.9" fill="#222" transform="rotate(-29 732.1 69.7)"/>
<rect x="702.8" y="85.7" width="1.0" height="0.9" fill="#222" transform="rotate(-29 702.8 85.7)"/>
<rect x="709.0" y="84.8" width="1.0" height="0.9" fill="#222" transform="rotate(-29 709.0 84.8)"/>
<rect x="781.4" y="43.8" width="1.6" height="0.9" fill="#222" transform="rotate(-29 781.4 43.8)"/>
<rect x="710.8" y="83.5" width="1.0" height="0.9" fill="#222" transform="rotate(-29 710.8 83.5)"/>
<rect x="708.6" y="83.3" width="1.0" height="0.9" fill="#222" transform="rotate(-29 708.6 83.3)"/>
<rect x="726.4" y="74.2" width="1.6" height="0.9" fill="#222" transform="rotate(-29 726.4 74.2)"/>
<rect x="674.0" y="103.4" width="2.2" height="0.9" fill="#222" transform="rotate(-29 674.0 103.4)"/>
<rect x="768.2" y="51.6" width="1.0" height="0.9" fill="#222" transform="rotate(-29 768.2 51.6)"/>
<rect x="693.4" y="91.5" width="1.6" height="0.9" fill="#222" transform="rotate(-29 693.4 91.5)"/>
<rect x="746.5" y="62.3" width="1.6" height="0.9" fill="#222" transform="rotate(-29 746.5 62.3)"/>
<rect x="776.4" y="47.0" width="1.0" height="0.9" fill="#222" transform="rotate(-29 776.4 47.0)"/>
<rect x="674.0" y="103.2" width="1.6" height="0.9" fill="#222" transform="rotate(-29 674.0 103.2)"/>
<rect x="791.8" y="36.9" width="1.0" height="0.9" fill="#222" transform="rotate(-29 791.8 36.9)"/>
<rect x="712.7" y="83.2" width="2.2" height="0.9" fill="#222" transform="rotate(-29 712.7 83.2)"/>
<rect x="777.7" y="46.6" width="1.0" height="0.9" fill="#222" transform="rotate(-29 777.7 46.6)"/>
<rect x="765.0" y="51.1" width="1.0" height="0.9" fill="#222" transform="rotate(-29 765.0 51.1)"/>
<rect x="730.1" y="72.4" width="2.2" height="0.9" fill="#222" transform="rotate(-29 730.1 72.4)"/>
<rect x="755.7" y="58.6" width="1.6" height="0.9" fill="#222" transform="rotate(-29 755.7 58.6)"/>
<rect x="669.3" y="107.1" width="1.0" height="0.9" fill="#222" transform="rotate(-29 669.3 107.1)"/>
<rect x="764.9" y="51.2" width="1.0" height="0.9" fill="#222" transform="rotate(-29 764.9 51.2)"/>
<rect x="746.0" y="62.1" width="1.0" height="0.9" fill="#222" transform="rotate(-29 746.0 62.1)"/>
<rect x="744.1" y="64.0" width="1.6" height="0.9" fill="#222" transform="rotate(-29 744.1 64.0)"/>
<rect x="752.8" y="57.6" width="1.0" height="0.9" fill="#222" transform="rotate(-29 752.8 57.6)"/>
<rect x="700.0" y="90.4" width="1.0" height="0.9" fill="#222" transform="rotate(-29 700.0 90.4)"/>
<rect x="709.7" y="82.3" width="2.2" height="0.9" fill="#222" transform="rotate(-29 709.7 82.3)"/>
<rect x="656.7" y="113.3" width="1.6" height="0.9" fill="#222" transform="rotate(-29 656.7 113.3)"/>
<rect x="694.7" y="91.1" width="1.0" height="0.9" fill="#222" transform="rotate(-29 694.7 91.1)"/>
<rect x="722.0" y="75.4" width="1.0" height="0.9" fill="#222" transform="rotate(-29 722.0 75.4)"/>
<rect x="660.2" y="110.9" width="2.2" height="0.9" fill="#222" transform="rotate(-29 660.2 110.9)"/>
<rect x="697.7" y="88.3" width="1.6" height="0.9" fill="#222" transform="rotate(-29 697.7 88.3)"/>
<rect x="780.7" y="43.8" width="1.0" height="0.9" fill="#222" transform="rotate(-29 780.7 43.8)"/>
<rect x="693.0" y="93.3" width="1.6" height="0.9" fill="#222" transform="rotate(-29 693.0 93.3)"/>
<rect x="686.5" y="94.7" width="1.6" height="0.9" fill="#222" transform="rotate(-29 686.5 94.7)"/>
<rect x="756.4" y="56.4" width="1.6" height="0.9" fill="#222" transform="rotate(-29 756.4 56.4)"/>
<rect x="685.2" y="98.2" width="2.2" height="0.9" fill="#222" transform="rotate(-29 685.2 98.2)"/>
<rect x="773.1" y="46.0" width="1.6" height="0.9" fill="#222" transform="rotate(-29 773.1 46.0)"/>
<rect x="791.4" y="36.5" width="1.0" height="0.9" fill="#222" transform="rotate(-29 791.4 36.5)"/>
<rect x="687.7" y="94.7" width="1.6" height="0.9" fill="#222" transform="rotate(-29 687.7 94.7)"/>
<rect x="672.1" y="104.9" width="2.2" height="0.9" fill="#222" transform="rotate(-29 672.1 104.9)"/>
<rect x="681.7" y="98.1" width="1.6" height="0.9" fill="#222" transform="rotate(-29 681.7 98.1)"/>
<rect x="782.2" y="40.8" width="2.2" height="0.9" fill="#222" transform="rotate(-29 782.2 40.8)"/>
<rect x="676.5" y="101.6" width="1.0" height="0.9" fill="#222" transform="rotate(-29 676.5 101.6)"/>
<rect x="660.1" y="111.6" width="1.6" height="0.9" fill="#222" transform="rotate(-29 660.1 111.6)"/>
<rect x="662.1" y="108.5" width="1.6" height="0.9" fill="#222" transform="rotate(-29 662.1 108.5)"/>
<rect x="720.0" y="78.2" width="1.6" height="0.9" fill="#222" transform="rotate(-29 720.0 78.2)"/>
<rect x="760.6" y="56.4" width="1.0" height="0.9" fill="#222" transform="rotate(-29 760.6 56.4)"/>
<rect x="701.4" y="86.9" width="2.2" height="0.9" fill="#222" transform="rotate(-29 701.4 86.9)"/>
<rect x="759.2" y="53.7" width="2.2" height="0.9" fill="#222" transform="rotate(-29 759.2 53.7)"/>
<rect x="759.1" y="56.7" width="1.6" height="0.9" fill="#222" transform="rotate(-29 759.1 56.7)"/>
<rect x="716.9" y="77.8" width="1.0" height="0.9" fill="#222" transform="rotate(-29 716.9 77.8)"/>
<rect x="695.0" y="91.0" width="1.0" height="0.9" fill="#222" transform="rotate(-29 695.0 91.0)"/>
<rect x="735.8" y="69.5" width="1.6" height="0.9" fill="#222" transform="rotate(-29 735.8 69.5)"/>
<rect x="707.4" y="85.7" width="1.6" height="0.9" fill="#222" transform="rotate(-29 707.4 85.7)"/>
<rect x="669.4" y="106.8" width="1.0" height="0.9" fill="#222" transform="rotate(-29 669.4 106.8)"/>
<rect x="710.0" y="84.6" width="1.0" height="0.9" fill="#222" transform="rotate(-29 710.0 84.6)"/>
<rect x="702.5" y="88.2" width="1.6" height="0.9" fill="#222" transform="rotate(-29 702.5 88.2)"/>
<rect x="660.3" y="110.8" width="2.2" height="0.9" fill="#222" transform="rotate(-29 660.3 110.8)"/>
<rect x="762.0" y="52.1" width="1.0" height="0.9" fill="#222" transform="rotate(-29 762.0 52.1)"/>
<rect x="722.4" y="77.2" width="1.0" height="0.9" fill="#222" transform="rotate(-29 722.4 77.2)"/>
<rect x="693.2" y="93.5" width="2.2" height="0.9" fill="#222" transform="rotate(-29 693.2 93.5)"/>
<rect x="703.0" y="86.2" width="2.2" height="0.9" fill="#222" transform="rotate(-29 703.0 86.2)"/>
<rect x="663.4" y="110.3" width="2.2" height="0.9" fill="#222" transform="rotate(-29 663.4 110.3)"/>
<rect x="699.9" y="88.0" width="1.0" height="0.9" fill="#222" transform="rotate(-29 699.9 88.0)"/>
<rect x="757.7" y="56.6" width="2.2" height="0.9" fill="#222" transform="rotate(-29 757.7 56.6)"/>
<rect x="787.3" y="38.0" width="1.0" height="0.9" fill="#222" transform="rotate(-29 787.3 38.0)"/>
<rect x="672.2" y="105.2" width="1.6" height="0.9" fill="#222" transform="rotate(-29 672.2 105.2)"/>
<rect x="789.4" y="37.9" width="1.6" height="0.9" fill="#222" transform="rotate(-29 789.4 37.9)"/>
<rect x="785.3" y="41.8" width="1.0" height="0.9" fill="#222" transform="rotate(-29 785.3 41.8)"/>
<rect x="785.1" y="39.6" width="2.2" height="0.9" fill="#222" transform="rotate(-29 785.1 39.6)"/>
<rect x="699.5" y="89.7" width="1.0" height="0.9" fill="#222" transform="rotate(-29 699.5 89.7)"/>
<rect x="740.7" y="65.2" width="1.6" height="0.9" fill="#222" transform="rotate(-29 740.7 65.2)"/>
<rect x="721.9" y="77.5" width="2.2" height="0.9" fill="#222" transform="rotate(-29 721.9 77.5)"/>
<rect x="666.4" y="106.6" width="1.0" height="0.9" fill="#222" transform="rotate(-29 666.4 106.6)"/>
<rect x="689.5" y="93.1" width="1.0" height="0.9" fill="#222" transform="rotate(-29 689.5 93.1)"/>
<rect x="723.9" y="75.4" width="1.0" height="0.9" fill="#222" transform="rotate(-29 723.9 75.4)"/>
<rect x="794.9" y="36.6" width="1.0" height="0.9" fill="#222" transform="rotate(-29 794.9 36.6)"/>
<rect x="692.0" y="91.8" width="1.0" height="0.9" fill="#222" transform="rotate(-29 692.0 91.8)"/>
<rect x="717.0" y="80.9" width="1.6" height="0.9" fill="#222" transform="rotate(-29 717.0 80.9)"/>
<rect x="679.4" y="99.1" width="1.6" height="0.9" fill="#222" transform="rotate(-29 679.4 99.1)"/>
<rect x="743.8" y="64.7" width="2.2" height="0.9" fill="#222" transform="rotate(-29 743.8 64.7)"/>
<rect x="732.7" y="71.3" width="1.0" height="0.9" fill="#222" transform="rotate(-29 732.7 71.3)"/>
<rect x="764.8" y="51.5" width="1.6" height="0.9" fill="#222" transform="rotate(-29 764.8 51.5)"/>
<rect x="735.3" y="68.4" width="2.2" height="0.9" fill="#222" transform="rotate(-29 735.3 68.4)"/>
<rect x="692.6" y="92.7" width="1.0" height="0.9" fill="#222" transform="rotate(-29 692.6 92.7)"/>
<rect x="689.5" y="93.4" width="2.2" height="0.9" fill="#222" transform="rotate(-29 689.5 93.4)"/>
<rect x="681.2" y="97.8" width="1.6" height="0.9" fill="#222" transform="rotate(-29 681.2 97.8)"/>
<rect x="795.2" y="35.1" width="1.0" height="0.9" fill="#222" transform="rotate(-29 795.2 35.1)"/>
<rect x="745.9" y="61.4" width="1.6" height="0.9" fill="#222" transform="rotate(-29 745.9 61.4)"/>
<rect x="793.6" y="34.5" width="1.6" height="0.9" fill="#222" transform="rotate(-29 793.6 34.5)"/>
<rect x="778.9" y="43.3" width="1.6" height="0.9" fill="#222" transform="rotate(-29 778.9 43.3)"/>
<rect x="782.7" y="40.5" width="1.6" height="0.9" fill="#222" transform="rotate(-29 782.7 40.5)"/>
<rect x="687.4" y="94.2" width="2.2" height="0.9" fill="#222" transform="rotate(-29 687.4 94.2)"/>
<rect x="792.8" y="36.7" width="1.0" height="0.9" fill="#222" transform="rotate(-29 792.8 36.7)"/>
<rect x="709.8" y="84.6" width="1.6" height="0.9" fill="#222" transform="rotate(-29 709.8 84.6)"/>
<rect x="741.7" y="66.2" width="2.2" height="0.9" fill="#222" transform="rotate(-29 741.7 66.2)"/>
<rect x="787.3" y="38.1" width="2.2" height="0.9" fill="#222" transform="rotate(-29 787.3 38.1)"/>
<rect x="755.2" y="57.1" width="1.0" height="0.9" fill="#222" transform="rotate(-29 755.2 57.1)"/>
<line x1="803.6" y1="37.7" x2="803.6" y2="47.7" stroke="#111" stroke-width="2.08"/>
<polyline points="661.5,118.5 670.9,116.5 703.8,133.0" fill="none" stroke="#111" stroke-width="1.95" stroke-linejoin="round"/>
<polyline points="803.6,47.7 804.2,48.3 829.0,61.8" fill="none" stroke="#111" stroke-width="2.21" stroke-linejoin="round"/>
<line x1="703.8" y1="133.0" x2="769.8" y2="95.4" stroke="#111" stroke-width="2.34"/>
<line x1="784.0" y1="87.4" x2="829.0" y2="61.8" stroke="#111" stroke-width="2.34"/>
<line x1="651.5" y1="113.0" x2="653.5" y2="329.0" stroke="#111" stroke-width="2.08"/>
<line x1="661.3" y1="118.5" x2="663.8" y2="334.8" stroke="#111" stroke-width="1.82"/>
<line x1="662.4" y1="121.0" x2="662.4" y2="333.0" stroke="#111" stroke-width="1.17" stroke-dasharray="2,1"/>
<line x1="670.9" y1="116.5" x2="670.9" y2="331.0" stroke="#111" stroke-width="1.95"/>
<line x1="703.8" y1="133.0" x2="703.8" y2="348.3" stroke="#111" stroke-width="2.34"/>
<polyline points="653.5,329.0 663.8,334.8 670.9,331.0" fill="none" stroke="#111" stroke-width="1.95" stroke-linejoin="round"/>
<line x1="671.6" y1="330.5" x2="703.8" y2="348.3" stroke="#111" stroke-width="2.34"/>
<line x1="829.0" y1="61.8" x2="830.5" y2="275.5" stroke="#111" stroke-width="2.34"/>
<line x1="703.8" y1="348.3" x2="770.5" y2="309.5" stroke="#111" stroke-width="2.34"/>
<line x1="782.2" y1="304.5" x2="830.5" y2="275.5" stroke="#111" stroke-width="2.34"/>
<line x1="770.4" y1="90.6" x2="770.4" y2="309.5" stroke="#111" stroke-width="2.21"/>
<line x1="783.3" y1="85.8" x2="783.3" y2="304.5" stroke="#111" stroke-width="2.34"/>
<polyline points="770.4,90.6 776.5,89.5 783.3,85.3" fill="none" stroke="#111" stroke-width="1.69" stroke-linejoin="round"/>
<polyline points="772.5,92.9 779.0,88.7 779.0,97.5" fill="none" stroke="#111" stroke-width="1.17" stroke-linejoin="round"/>
<polygon points="770.4,100.3 781.8,96.6 781.8,112.1 770.4,115.8" fill="none" stroke="#111" stroke-width="2.08" stroke-linejoin="round"/>
<polyline points="770.4,102.6 781.8,98.9" fill="none" stroke="#111" stroke-width="1.43" stroke-linejoin="round"/>
<polyline points="772.5,117.1 779.0,114.8 779.0,128.1 772.5,130.4" fill="none" stroke="#111" stroke-width="1.17" stroke-linejoin="round"/>
<polygon points="770.4,130.3 781.8,126.6 781.8,142.1 770.4,145.8" fill="none" stroke="#111" stroke-width="2.08" stroke-linejoin="round"/>
<polyline points="770.4,132.6 781.8,128.9" fill="none" stroke="#111" stroke-width="1.43" stroke-linejoin="round"/>
<polyline points="772.5,147.1 779.0,144.8 779.0,158.1 772.5,160.4" fill="none" stroke="#111" stroke-width="1.17" stroke-linejoin="round"/>
<polygon points="770.4,160.3 781.8,156.6 781.8,172.1 770.4,175.8" fill="none" stroke="#111" stroke-width="2.08" stroke-linejoin="round"/>
<polyline points="770.4,162.6 781.8,158.9" fill="none" stroke="#111" stroke-width="1.43" stroke-linejoin="round"/>
<polyline points="772.5,177.1 779.0,174.8 779.0,187.9 772.5,190.2" fill="none" stroke="#111" stroke-width="1.17" stroke-linejoin="round"/>
<polygon points="770.4,190.1 781.8,186.4 781.8,201.9 770.4,205.6" fill="none" stroke="#111" stroke-width="2.08" stroke-linejoin="round"/>
<polyline points="770.4,192.4 781.8,188.7" fill="none" stroke="#111" stroke-width="1.43" stroke-linejoin="round"/>
<polyline points="772.5,206.9 779.0,204.6 779.0,217.7 772.5,220.0" fill="none" stroke="#111" stroke-width="1.17" stroke-linejoin="round"/>
<polygon points="770.4,219.9 781.8,216.2 781.8,231.7 770.4,235.4" fill="none" stroke="#111" stroke-width="2.08" stroke-linejoin="round"/>
<polyline points="770.4,222.2 781.8,218.5" fill="none" stroke="#111" stroke-width="1.43" stroke-linejoin="round"/>
<polyline points="772.5,236.7 779.0,234.4 779.0,247.7 772.5,250.0" fill="none" stroke="#111" stroke-width="1.17" stroke-linejoin="round"/>
<polygon points="770.4,249.9 781.8,246.2 781.8,261.7 770.4,265.4" fill="none" stroke="#111" stroke-width="2.08" stroke-linejoin="round"/>
<polyline points="770.4,252.2 781.8,248.5" fill="none" stroke="#111" stroke-width="1.43" stroke-linejoin="round"/>
<polyline points="772.5,266.7 779.0,264.4 779.0,277.5 772.5,279.8" fill="none" stroke="#111" stroke-width="1.17" stroke-linejoin="round"/>
<polygon points="770.4,279.7 781.8,276.0 781.8,291.5 770.4,295.2" fill="none" stroke="#111" stroke-width="2.08" stroke-linejoin="round"/>
<polyline points="770.4,282.0 781.8,278.3" fill="none" stroke="#111" stroke-width="1.43" stroke-linejoin="round"/>
<polyline points="772.5,296.5 779.0,294.2 779.0,301.5 772.5,303.8" fill="none" stroke="#111" stroke-width="1.17" stroke-linejoin="round"/>
<polyline points="770.4,309.5 776.0,302.0 783.3,304.5" fill="none" stroke="#111" stroke-width="1.56" stroke-linejoin="round"/>
<polygon points="675.9,117.7 692.9,107.6 703.0,113.4 686.1,123.0" fill="none" stroke="#111" stroke-width="1.95" stroke-linejoin="round"/>
<path d="M681,119.5 Q681,114 686,113 Q689,113 688,116 L685,118" fill="none" stroke="#111" stroke-width="2.08"/>
<path d="M690,119.5 L695.5,109.5" fill="none" stroke="#111" stroke-width="1.82"/>
<polygon points="783.6,54.8 796.6,47.7 806.0,52.5 793.0,60.7" fill="none" stroke="#111" stroke-width="1.95" stroke-linejoin="round"/>
<path d="M789,58 Q790,51 795,51 Q799,52 797,55 L795,59" fill="none" stroke="#111" stroke-width="1.82"/>
<path d="M797,57 L802,50" fill="none" stroke="#111" stroke-width="1.56"/>
<circle cx="678.6" cy="155.0" r="2.8" fill="none" stroke="#111" stroke-width="1.69"/>
<circle cx="678.6" cy="155" r="1.3" fill="#111"/>
<line x1="678.6" y1="145.0" x2="678.6" y2="170.0" stroke="#111" stroke-width="1.69"/>
<line x1="672.2" y1="151.6" x2="688.9" y2="160.6" stroke="#111" stroke-width="1.69"/>
<circle cx="678.6" cy="204.0" r="2.8" fill="none" stroke="#111" stroke-width="1.69"/>
<circle cx="678.6" cy="204" r="1.3" fill="#111"/>
<line x1="678.6" y1="194.0" x2="678.6" y2="219.0" stroke="#111" stroke-width="1.69"/>
<line x1="672.2" y1="200.6" x2="688.9" y2="209.6" stroke="#111" stroke-width="1.69"/>
<circle cx="678.6" cy="254.6" r="2.8" fill="none" stroke="#111" stroke-width="1.69"/>
<circle cx="678.6" cy="254.6" r="1.3" fill="#111"/>
<line x1="678.6" y1="244.6" x2="678.6" y2="269.6" stroke="#111" stroke-width="1.69"/>
<line x1="672.2" y1="251.2" x2="688.9" y2="260.2" stroke="#111" stroke-width="1.69"/>
<circle cx="678.6" cy="304.0" r="2.8" fill="none" stroke="#111" stroke-width="1.69"/>
<circle cx="678.6" cy="304" r="1.3" fill="#111"/>
<line x1="678.6" y1="294.0" x2="678.6" y2="319.0" stroke="#111" stroke-width="1.69"/>
<line x1="672.2" y1="300.6" x2="688.9" y2="309.6" stroke="#111" stroke-width="1.69"/>
<polygon points="90.5,351.8 88.0,349.8 83.6,349.3 83.6,337.7 248.0,337.7 248.0,347.8 245.0,349.8 240.4,350.8 240.4,388.0 188.0,388.0 186.8,383.6 176.0,383.6 174.8,388.0 90.5,388.0 90.5,351.8" fill="none" stroke="#111" stroke-width="1.95" stroke-linejoin="round"/>
<line x1="86.1" y1="344.0" x2="245.5" y2="344.0" stroke="#111" stroke-width="1.56"/>
<line x1="176.5" y1="385.2" x2="186.3" y2="385.2" stroke="#111" stroke-width="1.17"/>
<rect x="157.7" y="341.1" width="1.6" height="0.8" fill="#222"/>
<rect x="157.6" y="342.2" width="1.0" height="0.8" fill="#222"/>
<rect x="115.0" y="340.9" width="2.2" height="0.8" fill="#222"/>
<rect x="183.5" y="339.6" width="1.6" height="0.8" fill="#222"/>
<rect x="134.0" y="339.3" width="2.2" height="0.8" fill="#222"/>
<rect x="186.7" y="341.2" width="1.6" height="0.8" fill="#222"/>
<rect x="239.4" y="341.5" width="2.2" height="0.8" fill="#222"/>
<rect x="189.2" y="341.3" width="2.2" height="0.8" fill="#222"/>
<rect x="95.7" y="339.0" width="1.0" height="0.8" fill="#222"/>
<rect x="181.2" y="341.9" width="1.6" height="0.8" fill="#222"/>
<rect x="155.8" y="342.2" width="2.2" height="0.8" fill="#222"/>
<rect x="122.8" y="340.0" width="1.0" height="0.8" fill="#222"/>
<rect x="191.2" y="340.7" width="1.6" height="0.8" fill="#222"/>
<rect x="150.4" y="341.0" width="1.0" height="0.8" fill="#222"/>
<rect x="198.4" y="340.1" width="1.0" height="0.8" fill="#222"/>
<rect x="167.4" y="339.0" width="2.2" height="0.8" fill="#222"/>
<rect x="207.7" y="340.5" width="1.6" height="0.8" fill="#222"/>
<rect x="147.2" y="342.6" width="2.2" height="0.8" fill="#222"/>
<rect x="85.7" y="339.7" width="1.0" height="0.8" fill="#222"/>
<rect x="160.5" y="342.7" width="1.6" height="0.8" fill="#222"/>
<rect x="152.5" y="341.1" width="1.0" height="0.8" fill="#222"/>
<rect x="209.7" y="340.0" width="1.0" height="0.8" fill="#222"/>
<rect x="135.2" y="339.0" width="1.6" height="0.8" fill="#222"/>
<rect x="206.4" y="339.4" width="1.0" height="0.8" fill="#222"/>
<rect x="198.3" y="338.9" width="1.6" height="0.8" fill="#222"/>
<rect x="212.6" y="339.6" width="2.2" height="0.8" fill="#222"/>
<rect x="115.6" y="340.9" width="2.2" height="0.8" fill="#222"/>
<rect x="208.3" y="340.5" width="1.6" height="0.8" fill="#222"/>
<rect x="104.2" y="340.5" width="1.0" height="0.8" fill="#222"/>
<rect x="85.7" y="342.3" width="2.2" height="0.8" fill="#222"/>
<rect x="134.1" y="342.4" width="1.0" height="0.8" fill="#222"/>
<rect x="115.5" y="342.8" width="2.2" height="0.8" fill="#222"/>
<rect x="187.9" y="339.3" width="1.0" height="0.8" fill="#222"/>
<rect x="119.6" y="339.9" width="2.2" height="0.8" fill="#222"/>
<rect x="138.0" y="340.1" width="1.0" height="0.8" fill="#222"/>
<rect x="97.4" y="339.7" width="2.2" height="0.8" fill="#222"/>
<rect x="124.3" y="341.2" width="1.6" height="0.8" fill="#222"/>
<rect x="184.8" y="339.4" width="2.2" height="0.8" fill="#222"/>
<rect x="162.7" y="341.1" width="1.6" height="0.8" fill="#222"/>
<rect x="114.7" y="339.5" width="1.0" height="0.8" fill="#222"/>
<rect x="216.0" y="339.9" width="1.0" height="0.8" fill="#222"/>
<rect x="110.9" y="341.4" width="2.2" height="0.8" fill="#222"/>
<rect x="116.9" y="342.6" width="1.6" height="0.8" fill="#222"/>
<rect x="181.8" y="340.5" width="1.0" height="0.8" fill="#222"/>
<rect x="103.0" y="340.9" width="1.6" height="0.8" fill="#222"/>
<rect x="123.6" y="341.6" width="1.6" height="0.8" fill="#222"/>
<rect x="152.7" y="342.4" width="1.6" height="0.8" fill="#222"/>
<rect x="132.4" y="339.6" width="2.2" height="0.8" fill="#222"/>
<rect x="241.4" y="339.4" width="1.6" height="0.8" fill="#222"/>
<rect x="174.8" y="342.2" width="2.2" height="0.8" fill="#222"/>
<rect x="97.4" y="339.7" width="1.0" height="0.8" fill="#222"/>
<rect x="205.0" y="339.2" width="1.6" height="0.8" fill="#222"/>
<rect x="156.6" y="339.1" width="1.0" height="0.8" fill="#222"/>
<rect x="130.5" y="341.0" width="1.0" height="0.8" fill="#222"/>
<rect x="100.3" y="339.4" width="1.6" height="0.8" fill="#222"/>
<rect x="241.9" y="341.5" width="2.2" height="0.8" fill="#222"/>
<rect x="168.8" y="342.6" width="2.2" height="0.8" fill="#222"/>
<rect x="91.2" y="339.0" width="1.6" height="0.8" fill="#222"/>
<rect x="197.3" y="342.7" width="1.0" height="0.8" fill="#222"/>
<rect x="181.0" y="339.2" width="1.0" height="0.8" fill="#222"/>
<rect x="202.0" y="340.1" width="1.0" height="0.8" fill="#222"/>
<rect x="97.6" y="341.0" width="2.2" height="0.8" fill="#222"/>
<rect x="92.7" y="342.6" width="2.2" height="0.8" fill="#222"/>
<rect x="197.8" y="342.0" width="1.6" height="0.8" fill="#222"/>
<rect x="141.7" y="341.6" width="1.0" height="0.8" fill="#222"/>
<rect x="224.5" y="340.5" width="1.0" height="0.8" fill="#222"/>
<rect x="223.2" y="341.1" width="2.2" height="0.8" fill="#222"/>
<rect x="191.2" y="340.4" width="1.0" height="0.8" fill="#222"/>
<rect x="182.7" y="339.2" width="2.2" height="0.8" fill="#222"/>
<rect x="104.0" y="339.9" width="1.6" height="0.8" fill="#222"/>
<rect x="201.7" y="340.4" width="2.2" height="0.8" fill="#222"/>
<rect x="196.2" y="340.7" width="1.6" height="0.8" fill="#222"/>
<rect x="219.2" y="339.2" width="2.2" height="0.8" fill="#222"/>
<rect x="90.3" y="341.2" width="1.6" height="0.8" fill="#222"/>
<rect x="89.2" y="342.6" width="1.0" height="0.8" fill="#222"/>
<rect x="164.9" y="341.3" width="1.6" height="0.8" fill="#222"/>
<rect x="126.4" y="338.9" width="1.6" height="0.8" fill="#222"/>
<rect x="108.4" y="341.3" width="2.2" height="0.8" fill="#222"/>
<rect x="112.6" y="342.4" width="2.2" height="0.8" fill="#222"/>
<rect x="233.9" y="340.8" width="1.0" height="0.8" fill="#222"/>
<rect x="137.7" y="341.5" width="1.0" height="0.8" fill="#222"/>
<rect x="186.7" y="342.0" width="1.0" height="0.8" fill="#222"/>
<rect x="225.9" y="340.4" width="2.2" height="0.8" fill="#222"/>
<rect x="232.4" y="339.7" width="1.0" height="0.8" fill="#222"/>
<rect x="164.7" y="342.2" width="1.0" height="0.8" fill="#222"/>
<rect x="199.0" y="342.6" width="1.6" height="0.8" fill="#222"/>
<rect x="216.6" y="339.3" width="1.6" height="0.8" fill="#222"/>
<rect x="129.5" y="339.7" width="1.6" height="0.8" fill="#222"/>
<rect x="146.6" y="340.9" width="2.2" height="0.8" fill="#222"/>
<rect x="135.9" y="342.2" width="2.2" height="0.8" fill="#222"/>
<rect x="157.7" y="339.2" width="1.0" height="0.8" fill="#222"/>
<rect x="129.9" y="341.3" width="2.2" height="0.8" fill="#222"/>
<rect x="198.6" y="341.1" width="1.6" height="0.8" fill="#222"/>
<rect x="189.1" y="341.1" width="2.2" height="0.8" fill="#222"/>
<rect x="107.3" y="340.7" width="1.0" height="0.8" fill="#222"/>
<rect x="208.2" y="339.9" width="1.0" height="0.8" fill="#222"/>
<rect x="212.6" y="342.7" width="1.0" height="0.8" fill="#222"/>
<rect x="156.8" y="341.4" width="2.2" height="0.8" fill="#222"/>
<rect x="187.6" y="340.3" width="1.0" height="0.8" fill="#222"/>
<rect x="194.7" y="339.7" width="1.6" height="0.8" fill="#222"/>
<rect x="126.4" y="341.7" width="1.6" height="0.8" fill="#222"/>
<rect x="170.9" y="339.0" width="1.0" height="0.8" fill="#222"/>
<rect x="129.0" y="340.2" width="2.2" height="0.8" fill="#222"/>
<rect x="236.5" y="340.9" width="1.0" height="0.8" fill="#222"/>
<rect x="148.3" y="342.0" width="1.0" height="0.8" fill="#222"/>
<rect x="99.5" y="342.5" width="2.2" height="0.8" fill="#222"/>
<rect x="147.4" y="340.7" width="1.0" height="0.8" fill="#222"/>
<rect x="185.3" y="342.4" width="1.6" height="0.8" fill="#222"/>
<rect x="173.3" y="341.4" width="2.2" height="0.8" fill="#222"/>
<rect x="212.6" y="342.6" width="1.6" height="0.8" fill="#222"/>
<rect x="137.6" y="342.7" width="1.0" height="0.8" fill="#222"/>
<rect x="200.7" y="342.1" width="2.2" height="0.8" fill="#222"/>
<rect x="232.9" y="339.4" width="1.0" height="0.8" fill="#222"/>
<rect x="229.1" y="342.7" width="1.6" height="0.8" fill="#222"/>
<rect x="171.2" y="342.0" width="1.6" height="0.8" fill="#222"/>
<rect x="127.3" y="341.7" width="1.0" height="0.8" fill="#222"/>
<rect x="141.2" y="339.2" width="1.6" height="0.8" fill="#222"/>
<rect x="140.1" y="340.5" width="1.6" height="0.8" fill="#222"/>
<rect x="163.3" y="339.0" width="1.0" height="0.8" fill="#222"/>
<rect x="154.0" y="339.0" width="2.2" height="0.8" fill="#222"/>
<rect x="139.0" y="342.0" width="1.0" height="0.8" fill="#222"/>
<rect x="160.6" y="342.8" width="2.2" height="0.8" fill="#222"/>
<rect x="168.2" y="341.5" width="1.6" height="0.8" fill="#222"/>
<rect x="236.4" y="340.8" width="2.2" height="0.8" fill="#222"/>
<rect x="99.3" y="339.8" width="2.2" height="0.8" fill="#222"/>
<rect x="174.7" y="342.1" width="2.2" height="0.8" fill="#222"/>
<rect x="187.4" y="340.9" width="2.2" height="0.8" fill="#222"/>
<rect x="126.5" y="341.5" width="2.2" height="0.8" fill="#222"/>
<rect x="118.8" y="342.2" width="2.2" height="0.8" fill="#222"/>
<rect x="169.2" y="341.1" width="1.0" height="0.8" fill="#222"/>
<rect x="151.1" y="339.3" width="1.0" height="0.8" fill="#222"/>
<rect x="182.1" y="339.0" width="1.0" height="0.8" fill="#222"/>
<rect x="167.9" y="340.5" width="2.2" height="0.8" fill="#222"/>
<rect x="105.0" y="339.3" width="1.0" height="0.8" fill="#222"/>
<rect x="96.1" y="341.0" width="1.6" height="0.8" fill="#222"/>
<rect x="232.4" y="342.0" width="1.6" height="0.8" fill="#222"/>
<rect x="128.5" y="340.7" width="1.0" height="0.8" fill="#222"/>
<rect x="139.7" y="342.4" width="1.6" height="0.8" fill="#222"/>
<rect x="169.3" y="339.3" width="1.6" height="0.8" fill="#222"/>
<rect x="184.1" y="342.5" width="1.0" height="0.8" fill="#222"/>
<rect x="197.5" y="342.7" width="1.0" height="0.8" fill="#222"/>
<rect x="116.5" y="339.8" width="2.2" height="0.8" fill="#222"/>
<rect x="130.9" y="341.7" width="1.0" height="0.8" fill="#222"/>
<rect x="184.4" y="339.3" width="2.2" height="0.8" fill="#222"/>
<rect x="178.4" y="342.2" width="2.2" height="0.8" fill="#222"/>
<rect x="125.5" y="339.7" width="2.2" height="0.8" fill="#222"/>
<rect x="225.7" y="339.0" width="2.2" height="0.8" fill="#222"/>
<rect x="151.5" y="341.0" width="1.0" height="0.8" fill="#222"/>
<rect x="171.4" y="342.3" width="2.2" height="0.8" fill="#222"/>
<rect x="187.4" y="341.0" width="2.2" height="0.8" fill="#222"/>
<rect x="183.1" y="342.2" width="1.0" height="0.8" fill="#222"/>
<rect x="231.4" y="341.3" width="1.6" height="0.8" fill="#222"/>
<rect x="229.5" y="340.1" width="1.6" height="0.8" fill="#222"/>
<rect x="227.6" y="339.7" width="1.0" height="0.8" fill="#222"/>
<rect x="227.1" y="339.4" width="1.0" height="0.8" fill="#222"/>
<rect x="106.7" y="339.2" width="1.6" height="0.8" fill="#222"/>
<rect x="101.1" y="342.1" width="1.6" height="0.8" fill="#222"/>
<rect x="172.2" y="341.6" width="1.0" height="0.8" fill="#222"/>
<rect x="149.8" y="341.6" width="1.0" height="0.8" fill="#222"/>
<rect x="100.9" y="341.1" width="1.6" height="0.8" fill="#222"/>
<rect x="230.9" y="342.7" width="1.0" height="0.8" fill="#222"/>
<rect x="197.9" y="341.4" width="1.6" height="0.8" fill="#222"/>
<rect x="165.7" y="341.6" width="1.0" height="0.8" fill="#222"/>
<rect x="213.6" y="340.8" width="1.0" height="0.8" fill="#222"/>
<rect x="91.6" y="341.1" width="2.2" height="0.8" fill="#222"/>
<rect x="229.9" y="340.8" width="1.0" height="0.8" fill="#222"/>
<rect x="115.0" y="339.7" width="1.0" height="0.8" fill="#222"/>
<rect x="243.5" y="342.5" width="1.0" height="0.8" fill="#222"/>
<rect x="178.0" y="339.4" width="2.2" height="0.8" fill="#222"/>
<rect x="159.3" y="341.9" width="1.6" height="0.8" fill="#222"/>
<rect x="147.9" y="340.6" width="1.6" height="0.8" fill="#222"/>
<rect x="154.2" y="341.2" width="1.0" height="0.8" fill="#222"/>
<rect x="186.7" y="339.1" width="1.0" height="0.8" fill="#222"/>
<rect x="114.5" y="340.7" width="2.2" height="0.8" fill="#222"/>
<rect x="144.6" y="342.5" width="2.2" height="0.8" fill="#222"/>
<rect x="111.9" y="340.9" width="1.0" height="0.8" fill="#222"/>
<rect x="137.2" y="339.2" width="2.2" height="0.8" fill="#222"/>
<rect x="225.2" y="342.4" width="1.6" height="0.8" fill="#222"/>
<rect x="176.4" y="339.6" width="2.2" height="0.8" fill="#222"/>
<rect x="242.2" y="342.0" width="1.6" height="0.8" fill="#222"/>
<rect x="130.2" y="339.4" width="2.2" height="0.8" fill="#222"/>
<rect x="209.6" y="342.1" width="1.6" height="0.8" fill="#222"/>
<rect x="106.8" y="340.2" width="2.2" height="0.8" fill="#222"/>
<rect x="196.4" y="341.9" width="1.0" height="0.8" fill="#222"/>
<rect x="150.3" y="341.7" width="1.0" height="0.8" fill="#222"/>
<rect x="212.7" y="340.1" width="1.0" height="0.8" fill="#222"/>
<rect x="87.3" y="340.3" width="2.2" height="0.8" fill="#222"/>
<rect x="229.5" y="339.1" width="1.6" height="0.8" fill="#222"/>
<rect x="236.2" y="341.5" width="1.6" height="0.8" fill="#222"/>
<rect x="120.0" y="340.5" width="1.0" height="0.8" fill="#222"/>
<rect x="170.6" y="340.4" width="1.6" height="0.8" fill="#222"/>
<rect x="188.0" y="341.6" width="1.6" height="0.8" fill="#222"/>
<rect x="241.8" y="339.0" width="2.2" height="0.8" fill="#222"/>
<rect x="102.8" y="339.8" width="1.6" height="0.8" fill="#222"/>
<rect x="149.6" y="339.1" width="1.0" height="0.8" fill="#222"/>
<rect x="188.9" y="338.9" width="1.6" height="0.8" fill="#222"/>
<rect x="125.6" y="342.4" width="2.2" height="0.8" fill="#222"/>
<rect x="171.8" y="340.5" width="2.2" height="0.8" fill="#222"/>
<rect x="176.1" y="342.8" width="2.2" height="0.8" fill="#222"/>
<rect x="156.4" y="341.4" width="2.2" height="0.8" fill="#222"/>
<rect x="180.8" y="341.9" width="1.0" height="0.8" fill="#222"/>
<rect x="147.2" y="342.6" width="1.6" height="0.8" fill="#222"/>
<rect x="160.8" y="339.6" width="1.6" height="0.8" fill="#222"/>
<rect x="172.0" y="341.2" width="1.6" height="0.8" fill="#222"/>
<rect x="236.3" y="340.5" width="2.2" height="0.8" fill="#222"/>
<rect x="149.1" y="340.1" width="2.2" height="0.8" fill="#222"/>
<rect x="131.1" y="341.5" width="2.2" height="0.8" fill="#222"/>
<rect x="233.8" y="341.5" width="2.2" height="0.8" fill="#222"/>
<rect x="132.8" y="339.0" width="1.0" height="0.8" fill="#222"/>
<rect x="179.0" y="341.4" width="1.6" height="0.8" fill="#222"/>
<rect x="205.9" y="340.4" width="1.6" height="0.8" fill="#222"/>
<rect x="204.9" y="339.1" width="2.2" height="0.8" fill="#222"/>
<rect x="236.1" y="339.2" width="1.0" height="0.8" fill="#222"/>
<rect x="154.1" y="340.8" width="1.0" height="0.8" fill="#222"/>
<rect x="92.8" y="339.3" width="2.2" height="0.8" fill="#222"/>
<rect x="230.6" y="339.5" width="1.0" height="0.8" fill="#222"/>
<rect x="181.8" y="339.3" width="2.2" height="0.8" fill="#222"/>
<rect x="152.1" y="339.4" width="1.0" height="0.8" fill="#222"/>
<rect x="142.5" y="339.5" width="1.6" height="0.8" fill="#222"/>
<rect x="156.2" y="341.5" width="1.6" height="0.8" fill="#222"/>
<rect x="181.4" y="341.4" width="2.2" height="0.8" fill="#222"/>
<rect x="152.5" y="341.9" width="2.2" height="0.8" fill="#222"/>
<rect x="215.5" y="339.4" width="1.6" height="0.8" fill="#222"/>
<rect x="202.6" y="339.8" width="1.0" height="0.8" fill="#222"/>
<rect x="165.8" y="340.1" width="2.2" height="0.8" fill="#222"/>
<rect x="185.2" y="340.3" width="1.6" height="0.8" fill="#222"/>
<rect x="182.8" y="341.7" width="2.2" height="0.8" fill="#222"/>
<rect x="179.9" y="341.4" width="1.0" height="0.8" fill="#222"/>
<rect x="115.9" y="339.9" width="2.2" height="0.8" fill="#222"/>
<rect x="231.6" y="342.3" width="1.0" height="0.8" fill="#222"/>
<rect x="185.8" y="338.9" width="1.6" height="0.8" fill="#222"/>
<rect x="153.4" y="341.3" width="1.0" height="0.8" fill="#222"/>
<rect x="121.1" y="340.0" width="1.0" height="0.8" fill="#222"/>
<rect x="231.1" y="339.5" width="1.0" height="0.8" fill="#222"/>
<rect x="186.2" y="340.4" width="1.6" height="0.8" fill="#222"/>
<rect x="142.0" y="340.2" width="1.6" height="0.8" fill="#222"/>
<rect x="204.3" y="342.2" width="1.0" height="0.8" fill="#222"/>
<rect x="213.5" y="340.6" width="2.2" height="0.8" fill="#222"/>
<rect x="219.2" y="341.9" width="1.6" height="0.8" fill="#222"/>
<rect x="153.2" y="339.9" width="1.0" height="0.8" fill="#222"/>
<rect x="144.4" y="341.4" width="2.2" height="0.8" fill="#222"/>
<rect x="137.5" y="341.0" width="2.2" height="0.8" fill="#222"/>
<rect x="217.3" y="339.6" width="2.2" height="0.8" fill="#222"/>
<rect x="144.5" y="339.3" width="1.6" height="0.8" fill="#222"/>
<rect x="98.1" y="339.2" width="2.2" height="0.8" fill="#222"/>
<rect x="176.1" y="342.1" width="1.6" height="0.8" fill="#222"/>
<rect x="133.2" y="341.9" width="1.0" height="0.8" fill="#222"/>
<rect x="135.0" y="342.5" width="2.2" height="0.8" fill="#222"/>
<rect x="98.6" y="340.1" width="2.2" height="0.8" fill="#222"/>
<rect x="207.4" y="340.2" width="1.0" height="0.8" fill="#222"/>
<rect x="120.5" y="341.5" width="1.6" height="0.8" fill="#222"/>
<rect x="144.0" y="339.4" width="2.2" height="0.8" fill="#222"/>
<rect x="155.9" y="341.2" width="2.2" height="0.8" fill="#222"/>
<rect x="231.2" y="340.6" width="1.6" height="0.8" fill="#222"/>
<rect x="158.6" y="339.8" width="2.2" height="0.8" fill="#222"/>
<rect x="228.2" y="339.9" width="1.6" height="0.8" fill="#222"/>
<rect x="217.7" y="339.0" width="2.2" height="0.8" fill="#222"/>
<rect x="148.7" y="340.4" width="1.0" height="0.8" fill="#222"/>
<rect x="203.4" y="340.3" width="1.6" height="0.8" fill="#222"/>
<rect x="171.8" y="342.2" width="2.2" height="0.8" fill="#222"/>
<rect x="113.9" y="339.2" width="1.6" height="0.8" fill="#222"/>
<rect x="226.0" y="340.0" width="1.0" height="0.8" fill="#222"/>
<rect x="120.9" y="339.1" width="1.0" height="0.8" fill="#222"/>
<rect x="92.6" y="356.6" width="19.3" height="10.8" fill="none" stroke="#111" stroke-width="2.60"/>
<line x1="102.2" y1="356.6" x2="102.2" y2="367.4" stroke="#111" stroke-width="2.60"/>
<rect x="219.0" y="357.5" width="18.2" height="9.5" fill="none" stroke="#111" stroke-width="2.60"/>
<line x1="228.1" y1="357.5" x2="228.1" y2="367.0" stroke="#111" stroke-width="2.60"/>
<text x="84.4" y="319.0" font-family="Liberation Sans" font-weight="bold" font-size="10.6" textLength="4.5" lengthAdjust="spacingAndGlyphs" fill="#111" stroke="#111" stroke-width="0.5">Ф</text>
<text x="90.1" y="319.0" font-family="Liberation Sans" font-weight="bold" font-size="10.6" textLength="4.5" lengthAdjust="spacingAndGlyphs" fill="#111" stroke="#111" stroke-width="0.5">А</text>
<text x="95.9" y="319.0" font-family="Liberation Sans" font-weight="bold" font-size="10.6" textLength="4.5" lengthAdjust="spacingAndGlyphs" fill="#111" stroke="#111" stroke-width="0.5">К</text>
<text x="101.6" y="319.0" font-family="Liberation Sans" font-weight="bold" font-size="10.6" textLength="4.5" lengthAdjust="spacingAndGlyphs" fill="#111" stroke="#111" stroke-width="0.5">Т</text>
<text x="107.3" y="319.0" font-family="Liberation Sans" font-weight="bold" font-size="10.6" textLength="4.5" lengthAdjust="spacingAndGlyphs" fill="#111" stroke="#111" stroke-width="0.5">У</text>
<text x="113.0" y="319.0" font-family="Liberation Sans" font-weight="bold" font-size="10.6" textLength="4.5" lengthAdjust="spacingAndGlyphs" fill="#111" stroke="#111" stroke-width="0.5">Р</text>
<text x="118.7" y="319.0" font-family="Liberation Sans" font-weight="bold" font-size="10.6" textLength="4.5" lengthAdjust="spacingAndGlyphs" fill="#111" stroke="#111" stroke-width="0.5">Н</text>
<text x="124.4" y="319.0" font-family="Liberation Sans" font-weight="bold" font-size="10.6" textLength="4.5" lengthAdjust="spacingAndGlyphs" fill="#111" stroke="#111" stroke-width="0.5">Ы</text>
<text x="130.2" y="319.0" font-family="Liberation Sans" font-weight="bold" font-size="10.6" textLength="4.5" lengthAdjust="spacingAndGlyphs" fill="#111" stroke="#111" stroke-width="0.5">Й</text>
<text x="139.9" y="319.0" font-family="Liberation Sans" font-weight="bold" font-size="10.6" textLength="4.5" lengthAdjust="spacingAndGlyphs" fill="#111" stroke="#111" stroke-width="0.5">С</text>
<text x="145.6" y="319.0" font-family="Liberation Sans" font-weight="bold" font-size="10.6" textLength="4.5" lengthAdjust="spacingAndGlyphs" fill="#111" stroke="#111" stroke-width="0.5">Л</text>
<text x="151.3" y="319.0" font-family="Liberation Sans" font-weight="bold" font-size="10.6" textLength="4.5" lengthAdjust="spacingAndGlyphs" fill="#111" stroke="#111" stroke-width="0.5">О</text>
<text x="157.0" y="319.0" font-family="Liberation Sans" font-weight="bold" font-size="10.6" textLength="4.5" lengthAdjust="spacingAndGlyphs" fill="#111" stroke="#111" stroke-width="0.5">Й</text>
<line x1="79.3" y1="320.8" x2="167.4" y2="320.8" stroke="#111" stroke-width="1.69"/>
<line x1="167.4" y1="320.8" x2="177.0" y2="338.0" stroke="#111" stroke-width="1.69"/>
<text x="212.0" y="319.4" font-family="Liberation Sans" font-weight="bold" font-size="11.0" textLength="4.3" lengthAdjust="spacingAndGlyphs" fill="#111" stroke="#111" stroke-width="0.45">П</text>
<text x="219.0" y="319.4" text-anchor="middle" font-family="Liberation Sans" font-weight="bold" font-size="11.0" fill="#111" stroke="#111" stroke-width="0.45">-</text>
<text x="221.7" y="319.4" font-family="Liberation Sans" font-weight="bold" font-size="11.0" textLength="4.3" lengthAdjust="spacingAndGlyphs" fill="#111" stroke="#111" stroke-width="0.45">3</text>
<line x1="207.2" y1="321.3" x2="230.8" y2="321.3" stroke="#111" stroke-width="1.56"/>
<text x="212.8" y="330.5" font-family="Liberation Sans" font-weight="bold" font-size="10.0" textLength="4.4" lengthAdjust="spacingAndGlyphs" fill="#111" stroke="#111" stroke-width="0.45">Д</text>
<text x="218.4" y="330.5" font-family="Liberation Sans" font-weight="bold" font-size="10.0" textLength="4.4" lengthAdjust="spacingAndGlyphs" fill="#111" stroke="#111" stroke-width="0.45">Е</text>
<text x="224.1" y="330.5" font-family="Liberation Sans" font-weight="bold" font-size="10.0" textLength="4.4" lengthAdjust="spacingAndGlyphs" fill="#111" stroke="#111" stroke-width="0.45">Т</text>
<text x="229.7" y="330.5" font-family="Liberation Sans" font-weight="bold" font-size="10.0" textLength="4.4" lengthAdjust="spacingAndGlyphs" fill="#111" stroke="#111" stroke-width="0.45">А</text>
<text x="235.3" y="330.5" font-family="Liberation Sans" font-weight="bold" font-size="10.0" textLength="4.4" lengthAdjust="spacingAndGlyphs" fill="#111" stroke="#111" stroke-width="0.45">Л</text>
<text x="240.9" y="330.5" font-family="Liberation Sans" font-weight="bold" font-size="10.0" textLength="4.4" lengthAdjust="spacingAndGlyphs" fill="#111" stroke="#111" stroke-width="0.45">Ь</text>
<text x="250.5" y="330.5" font-family="Liberation Sans" font-weight="bold" font-size="10.0" textLength="4.4" lengthAdjust="spacingAndGlyphs" fill="#111" stroke="#111" stroke-width="0.45">1</text>
<line x1="207.2" y1="321.4" x2="224.3" y2="356.8" stroke="#111" stroke-width="1.56"/>
<g transform="translate(196.3,331.0) rotate(-90.0)">
<text x="-3.1" y="3.8" font-family="Liberation Sans" font-weight="bold" font-size="10.4" textLength="2.7" lengthAdjust="spacingAndGlyphs" fill="#111" stroke="#111" stroke-width="0.25">3</text>
<text x="0.4" y="3.8" font-family="Liberation Sans" font-weight="bold" font-size="10.4" textLength="2.7" lengthAdjust="spacingAndGlyphs" fill="#111" stroke="#111" stroke-width="0.25">0</text>
</g>
<line x1="197.2" y1="332.9" x2="203.0" y2="337.7" stroke="#111" stroke-width="1.17"/>
<g transform="translate(195.3,350.8) rotate(-90.0)">
<text x="-4.0" y="4.5" font-family="Liberation Sans" font-weight="bold" font-size="12.5" textLength="3.5" lengthAdjust="spacingAndGlyphs" fill="#111" stroke="#111" stroke-width="0.25">4</text>
<text x="0.5" y="4.5" font-family="Liberation Sans" font-weight="bold" font-size="12.5" textLength="3.5" lengthAdjust="spacingAndGlyphs" fill="#111" stroke="#111" stroke-width="0.25">0</text>
</g>
<line x1="196.6" y1="346.0" x2="196.6" y2="361.3" stroke="#111" stroke-width="1.43"/>
<text x="249.8" y="354.2" font-family="Liberation Sans" font-weight="bold" font-size="10.7" textLength="3.0" lengthAdjust="spacingAndGlyphs" fill="#111" stroke="#111" stroke-width="0.25">3</text>
<text x="253.7" y="354.2" font-family="Liberation Sans" font-weight="bold" font-size="10.7" textLength="3.0" lengthAdjust="spacingAndGlyphs" fill="#111" stroke="#111" stroke-width="0.25">0</text>
<text x="243.1" y="370.6" font-family="Liberation Sans" font-weight="bold" font-size="10.0" textLength="3.6" lengthAdjust="spacingAndGlyphs" fill="#111" stroke="#111" stroke-width="0.25">3</text>
<text x="247.7" y="370.6" font-family="Liberation Sans" font-weight="bold" font-size="10.0" textLength="3.6" lengthAdjust="spacingAndGlyphs" fill="#111" stroke="#111" stroke-width="0.25">5</text>
<line x1="244.1" y1="352.8" x2="244.1" y2="361.0" stroke="#111" stroke-width="1.17"/>
<line x1="246.5" y1="352.8" x2="246.5" y2="361.0" stroke="#111" stroke-width="1.17"/>
<line x1="240.0" y1="355.2" x2="249.4" y2="355.2" stroke="#111" stroke-width="1.04"/>
<line x1="240.0" y1="357.6" x2="249.4" y2="357.6" stroke="#111" stroke-width="1.04"/>
<line x1="70.3" y1="334.0" x2="70.3" y2="390.5" stroke="#111" stroke-width="1.69"/>
<line x1="61.1" y1="338.1" x2="77.9" y2="338.1" stroke="#111" stroke-width="1.69"/>
<line x1="64.6" y1="362.7" x2="82.7" y2="362.7" stroke="#111" stroke-width="1.69"/>
<line x1="61.1" y1="387.5" x2="82.7" y2="387.5" stroke="#111" stroke-width="1.69"/>
<g transform="translate(63.9,349.2) rotate(-90.0)">
<text x="-7.9" y="3.5" font-family="Liberation Sans" font-weight="bold" font-size="9.7" textLength="4.4" lengthAdjust="spacingAndGlyphs" fill="#111" stroke="#111" stroke-width="0.25">2</text>
<text x="-2.2" y="3.5" font-family="Liberation Sans" font-weight="bold" font-size="9.7" textLength="4.4" lengthAdjust="spacingAndGlyphs" fill="#111" stroke="#111" stroke-width="0.25">4</text>
<text x="3.5" y="3.5" font-family="Liberation Sans" font-weight="bold" font-size="9.7" textLength="4.4" lengthAdjust="spacingAndGlyphs" fill="#111" stroke="#111" stroke-width="0.25">0</text>
</g>
<g transform="translate(63.9,376.3) rotate(-90.0)">
<text x="-6.8" y="3.5" font-family="Liberation Sans" font-weight="bold" font-size="9.7" textLength="3.8" lengthAdjust="spacingAndGlyphs" fill="#111" stroke="#111" stroke-width="0.25">2</text>
<text x="-1.9" y="3.5" font-family="Liberation Sans" font-weight="bold" font-size="9.7" textLength="3.8" lengthAdjust="spacingAndGlyphs" fill="#111" stroke="#111" stroke-width="0.25">6</text>
<text x="3.0" y="3.5" font-family="Liberation Sans" font-weight="bold" font-size="9.7" textLength="3.8" lengthAdjust="spacingAndGlyphs" fill="#111" stroke="#111" stroke-width="0.25">0</text>
</g>
<line x1="278.0" y1="334.3" x2="278.0" y2="393.3" stroke="#111" stroke-width="1.69"/>
<line x1="301.6" y1="334.3" x2="301.6" y2="393.3" stroke="#111" stroke-width="1.69"/>
<line x1="265.0" y1="338.2" x2="308.0" y2="338.2" stroke="#111" stroke-width="1.69"/>
<line x1="260.8" y1="388.0" x2="308.0" y2="388.0" stroke="#111" stroke-width="1.69"/>
<line x1="265.0" y1="349.3" x2="282.3" y2="349.3" stroke="#111" stroke-width="1.56"/>
<line x1="265.0" y1="344.5" x2="282.3" y2="344.5" stroke="#111" stroke-width="1.04"/>
<rect x="267.0" y="339.0" width="5.6" height="9.0" fill="none" stroke="#111" stroke-width="1.17"/>
<g transform="translate(269.8,343.5) rotate(-90.0)">
<text x="-3.9" y="2.1" font-family="Liberation Sans" font-weight="bold" font-size="5.8" textLength="2.2" lengthAdjust="spacingAndGlyphs" fill="#111" stroke="#111" stroke-width="0.25">1</text>
<text x="-1.1" y="2.1" font-family="Liberation Sans" font-weight="bold" font-size="5.8" textLength="2.2" lengthAdjust="spacingAndGlyphs" fill="#111" stroke="#111" stroke-width="0.25">0</text>
<text x="1.7" y="2.1" font-family="Liberation Sans" font-weight="bold" font-size="5.8" textLength="2.2" lengthAdjust="spacingAndGlyphs" fill="#111" stroke="#111" stroke-width="0.25">5</text>
</g>
<g transform="translate(286.4,342.9) rotate(-90.0)">
<text x="-3.5" y="2.8" font-family="Liberation Sans" font-weight="bold" font-size="7.8" textLength="3.0" lengthAdjust="spacingAndGlyphs" fill="#111" stroke="#111" stroke-width="0.25">1</text>
<text x="0.4" y="2.8" font-family="Liberation Sans" font-weight="bold" font-size="7.8" textLength="3.0" lengthAdjust="spacingAndGlyphs" fill="#111" stroke="#111" stroke-width="0.25">5</text>
</g>
<g transform="translate(270.0,368.4) rotate(-90.0)">
<text x="-7.1" y="3.7" font-family="Liberation Sans" font-weight="bold" font-size="10.3" textLength="4.0" lengthAdjust="spacingAndGlyphs" fill="#111" stroke="#111" stroke-width="0.25">3</text>
<text x="-2.0" y="3.7" font-family="Liberation Sans" font-weight="bold" font-size="10.3" textLength="4.0" lengthAdjust="spacingAndGlyphs" fill="#111" stroke="#111" stroke-width="0.25">8</text>
<text x="3.1" y="3.7" font-family="Liberation Sans" font-weight="bold" font-size="10.3" textLength="4.0" lengthAdjust="spacingAndGlyphs" fill="#111" stroke="#111" stroke-width="0.25">0</text>
</g>
<g transform="translate(296.2,362.5) rotate(-90.0)">
<text x="-6.8" y="3.5" font-family="Liberation Sans" font-weight="bold" font-size="9.7" textLength="3.8" lengthAdjust="spacingAndGlyphs" fill="#111" stroke="#111" stroke-width="0.25">5</text>
<text x="-1.9" y="3.5" font-family="Liberation Sans" font-weight="bold" font-size="9.7" textLength="3.8" lengthAdjust="spacingAndGlyphs" fill="#111" stroke="#111" stroke-width="0.25">0</text>
<text x="3.0" y="3.5" font-family="Liberation Sans" font-weight="bold" font-size="9.7" textLength="3.8" lengthAdjust="spacingAndGlyphs" fill="#111" stroke="#111" stroke-width="0.25">0</text>
</g>
<line x1="75.8" y1="413.4" x2="253.6" y2="413.4" stroke="#111" stroke-width="1.69"/>
<line x1="79.4" y1="430.3" x2="250.0" y2="430.3" stroke="#111" stroke-width="1.69"/>
<line x1="82.9" y1="410.5" x2="82.9" y2="436.0" stroke="#111" stroke-width="1.56"/>
<line x1="246.6" y1="410.5" x2="246.6" y2="436.0" stroke="#111" stroke-width="1.56"/>
<line x1="90.6" y1="409.6" x2="90.6" y2="419.5" stroke="#111" stroke-width="1.43"/>
<line x1="239.6" y1="409.6" x2="239.6" y2="419.5" stroke="#111" stroke-width="1.43"/>
<text x="77.6" y="409.9" font-family="Liberation Sans" font-weight="bold" font-size="9.7" textLength="4.6" lengthAdjust="spacingAndGlyphs" fill="#111" stroke="#111" stroke-width="0.25">7</text>
<text x="83.5" y="409.9" font-family="Liberation Sans" font-weight="bold" font-size="9.7" textLength="4.6" lengthAdjust="spacingAndGlyphs" fill="#111" stroke="#111" stroke-width="0.25">5</text>
<text x="150.1" y="410.8" font-family="Liberation Sans" font-weight="bold" font-size="11.7" textLength="4.4" lengthAdjust="spacingAndGlyphs" fill="#111" stroke="#111" stroke-width="0.25">1</text>
<text x="155.8" y="410.8" font-family="Liberation Sans" font-weight="bold" font-size="11.7" textLength="4.4" lengthAdjust="spacingAndGlyphs" fill="#111" stroke="#111" stroke-width="0.25">4</text>
<text x="161.4" y="410.8" font-family="Liberation Sans" font-weight="bold" font-size="11.7" textLength="4.4" lengthAdjust="spacingAndGlyphs" fill="#111" stroke="#111" stroke-width="0.25">9</text>
<text x="167.1" y="410.8" font-family="Liberation Sans" font-weight="bold" font-size="11.7" textLength="4.4" lengthAdjust="spacingAndGlyphs" fill="#111" stroke="#111" stroke-width="0.25">0</text>
<text x="241.4" y="409.9" font-family="Liberation Sans" font-weight="bold" font-size="9.7" textLength="4.1" lengthAdjust="spacingAndGlyphs" fill="#111" stroke="#111" stroke-width="0.25">7</text>
<text x="246.6" y="409.9" font-family="Liberation Sans" font-weight="bold" font-size="9.7" textLength="4.1" lengthAdjust="spacingAndGlyphs" fill="#111" stroke="#111" stroke-width="0.25">5</text>
<text x="151.3" y="427.5" font-family="Liberation Sans" font-weight="bold" font-size="12.1" textLength="4.8" lengthAdjust="spacingAndGlyphs" fill="#111" stroke="#111" stroke-width="0.25">1</text>
<text x="157.4" y="427.5" font-family="Liberation Sans" font-weight="bold" font-size="12.1" textLength="4.8" lengthAdjust="spacingAndGlyphs" fill="#111" stroke="#111" stroke-width="0.25">6</text>
<text x="163.5" y="427.5" font-family="Liberation Sans" font-weight="bold" font-size="12.1" textLength="4.8" lengthAdjust="spacingAndGlyphs" fill="#111" stroke="#111" stroke-width="0.25">4</text>
<text x="169.6" y="427.5" font-family="Liberation Sans" font-weight="bold" font-size="12.1" textLength="4.8" lengthAdjust="spacingAndGlyphs" fill="#111" stroke="#111" stroke-width="0.25">0</text>
<text x="4.0" y="427.7" font-family="Liberation Sans" font-weight="bold" font-size="14.9" textLength="5.2" lengthAdjust="spacingAndGlyphs" fill="#111" stroke="#111" stroke-width="0.25">Н</text>
<text x="10.6" y="427.7" font-family="Liberation Sans" font-weight="bold" font-size="14.9" textLength="5.2" lengthAdjust="spacingAndGlyphs" fill="#111" stroke="#111" stroke-width="0.25">Б</text>
<text x="19.0" y="427.7" text-anchor="middle" font-family="Liberation Sans" font-weight="bold" font-size="14.9" fill="#111" stroke="#111" stroke-width="0.25">-</text>
<text x="22.2" y="427.7" font-family="Liberation Sans" font-weight="bold" font-size="14.9" textLength="5.2" lengthAdjust="spacingAndGlyphs" fill="#111" stroke="#111" stroke-width="0.25">1</text>
<text x="28.8" y="427.7" font-family="Liberation Sans" font-weight="bold" font-size="14.9" textLength="5.2" lengthAdjust="spacingAndGlyphs" fill="#111" stroke="#111" stroke-width="0.25">5</text>
<text x="36.2" y="427.7" text-anchor="middle" font-family="Liberation Sans" font-weight="bold" font-size="14.9" fill="#111" stroke="#111" stroke-width="0.25">.</text>
<text x="38.4" y="427.7" font-family="Liberation Sans" font-weight="bold" font-size="14.9" textLength="5.2" lengthAdjust="spacingAndGlyphs" fill="#111" stroke="#111" stroke-width="0.25">2</text>
<text x="45.0" y="427.7" font-family="Liberation Sans" font-weight="bold" font-size="14.9" textLength="5.2" lengthAdjust="spacingAndGlyphs" fill="#111" stroke="#111" stroke-width="0.25">2</text>
<text x="52.3" y="427.7" text-anchor="middle" font-family="Liberation Sans" font-weight="bold" font-size="14.9" fill="#111" stroke="#111" stroke-width="0.25">.</text>
<text x="54.6" y="427.7" font-family="Liberation Sans" font-weight="bold" font-size="14.9" textLength="5.2" lengthAdjust="spacingAndGlyphs" fill="#111" stroke="#111" stroke-width="0.25">5</text>
<text x="62.9" y="427.7" text-anchor="middle" font-family="Liberation Sans" font-weight="bold" font-size="14.9" fill="#111" stroke="#111" stroke-width="0.25">-</text>
<text x="66.1" y="427.7" font-family="Liberation Sans" font-weight="bold" font-size="14.9" textLength="5.2" lengthAdjust="spacingAndGlyphs" fill="#111" stroke="#111" stroke-width="0.25">5</text>
<text x="107.0" y="453.6" font-family="Liberation Sans" font-weight="bold" font-size="13.8" textLength="6.1" lengthAdjust="spacingAndGlyphs" fill="#111" stroke="#111" stroke-width="0.8">П</text>
<text x="117.6" y="453.6" font-family="Liberation Sans" font-weight="bold" font-size="9.4" textLength="4.9" lengthAdjust="spacingAndGlyphs" fill="#111" stroke="#111" stroke-width="0.9">о</text>
<text x="136.9" y="453.6" font-family="Liberation Sans" font-weight="bold" font-size="13.8" textLength="4.7" lengthAdjust="spacingAndGlyphs" fill="#111" stroke="#111" stroke-width="0.7">1</text>
<line x1="144.5" y1="449.5" x2="148.8" y2="449.5" stroke="#111" stroke-width="1.95"/>
<text x="154.3" y="453.6" font-family="Liberation Sans" font-weight="bold" font-size="13.8" textLength="4.7" lengthAdjust="spacingAndGlyphs" fill="#111" stroke="#111" stroke-width="0.7">1</text>
<polygon points="386.0,373.5 383.5,371.5 379.0,371.0 379.0,360.0 544.0,360.0 544.0,369.5 541.0,371.5 534.3,372.5 534.3,409.2 485.8,409.2 484.6,404.2 471.0,404.2 469.8,409.2 386.0,409.2 386.0,373.5" fill="none" stroke="#111" stroke-width="1.95" stroke-linejoin="round"/>
<line x1="381.5" y1="366.5" x2="541.5" y2="366.5" stroke="#111" stroke-width="1.56"/>
<line x1="471.5" y1="405.8" x2="484.1" y2="405.8" stroke="#111" stroke-width="1.17"/>
<rect x="407.4" y="364.0" width="2.2" height="0.8" fill="#222"/>
<rect x="426.0" y="364.7" width="1.6" height="0.8" fill="#222"/>
<rect x="510.3" y="363.3" width="2.2" height="0.8" fill="#222"/>
<rect x="465.4" y="364.4" width="1.0" height="0.8" fill="#222"/>
<rect x="440.4" y="363.6" width="1.0" height="0.8" fill="#222"/>
<rect x="404.2" y="364.3" width="1.0" height="0.8" fill="#222"/>
<rect x="492.0" y="363.0" width="2.2" height="0.8" fill="#222"/>
<rect x="504.3" y="362.9" width="1.6" height="0.8" fill="#222"/>
<rect x="386.5" y="362.5" width="1.6" height="0.8" fill="#222"/>
<rect x="492.0" y="363.9" width="1.6" height="0.8" fill="#222"/>
<rect x="384.7" y="364.2" width="1.0" height="0.8" fill="#222"/>
<rect x="401.0" y="365.0" width="1.6" height="0.8" fill="#222"/>
<rect x="406.8" y="364.2" width="1.6" height="0.8" fill="#222"/>
<rect x="458.6" y="362.0" width="1.0" height="0.8" fill="#222"/>
<rect x="456.2" y="364.6" width="1.0" height="0.8" fill="#222"/>
<rect x="505.8" y="362.1" width="2.2" height="0.8" fill="#222"/>
<rect x="501.8" y="364.3" width="2.2" height="0.8" fill="#222"/>
<rect x="539.2" y="361.5" width="2.2" height="0.8" fill="#222"/>
<rect x="457.2" y="364.6" width="1.0" height="0.8" fill="#222"/>
<rect x="435.6" y="361.8" width="2.2" height="0.8" fill="#222"/>
<rect x="446.5" y="362.7" width="1.6" height="0.8" fill="#222"/>
<rect x="461.2" y="362.5" width="1.6" height="0.8" fill="#222"/>
<rect x="442.9" y="361.3" width="1.0" height="0.8" fill="#222"/>
<rect x="406.4" y="364.1" width="1.6" height="0.8" fill="#222"/>
<rect x="381.5" y="361.5" width="2.2" height="0.8" fill="#222"/>
<rect x="500.7" y="362.1" width="2.2" height="0.8" fill="#222"/>
<rect x="432.0" y="365.2" width="1.0" height="0.8" fill="#222"/>
<rect x="409.9" y="361.9" width="1.6" height="0.8" fill="#222"/>
<rect x="514.4" y="362.6" width="2.2" height="0.8" fill="#222"/>
<rect x="529.8" y="362.2" width="1.0" height="0.8" fill="#222"/>
<rect x="391.5" y="364.5" width="1.6" height="0.8" fill="#222"/>
<rect x="441.0" y="364.0" width="2.2" height="0.8" fill="#222"/>
<rect x="464.1" y="363.9" width="1.0" height="0.8" fill="#222"/>
<rect x="446.1" y="365.3" width="2.2" height="0.8" fill="#222"/>
<rect x="475.5" y="364.8" width="1.6" height="0.8" fill="#222"/>
<rect x="462.0" y="363.9" width="1.0" height="0.8" fill="#222"/>
<rect x="407.0" y="361.5" width="1.6" height="0.8" fill="#222"/>
<rect x="504.8" y="363.2" width="1.6" height="0.8" fill="#222"/>
<rect x="389.3" y="362.3" width="1.6" height="0.8" fill="#222"/>
<rect x="386.6" y="362.2" width="1.6" height="0.8" fill="#222"/>
<rect x="392.1" y="362.6" width="1.0" height="0.8" fill="#222"/>
<rect x="538.4" y="364.3" width="1.6" height="0.8" fill="#222"/>
<rect x="388.9" y="361.8" width="2.2" height="0.8" fill="#222"/>
<rect x="465.1" y="364.2" width="1.0" height="0.8" fill="#222"/>
<rect x="533.5" y="364.9" width="1.6" height="0.8" fill="#222"/>
<rect x="508.2" y="364.8" width="2.2" height="0.8" fill="#222"/>
<rect x="504.6" y="363.2" width="1.6" height="0.8" fill="#222"/>
<rect x="430.3" y="363.4" width="1.6" height="0.8" fill="#222"/>
<rect x="403.3" y="364.2" width="1.6" height="0.8" fill="#222"/>
<rect x="490.6" y="365.1" width="1.0" height="0.8" fill="#222"/>
<rect x="423.3" y="362.5" width="1.0" height="0.8" fill="#222"/>
<rect x="517.3" y="363.6" width="1.6" height="0.8" fill="#222"/>
<rect x="490.3" y="364.3" width="1.0" height="0.8" fill="#222"/>
<rect x="402.4" y="361.6" width="1.0" height="0.8" fill="#222"/>
<rect x="410.9" y="363.8" width="1.0" height="0.8" fill="#222"/>
<rect x="392.5" y="361.7" width="1.6" height="0.8" fill="#222"/>
<rect x="401.2" y="363.4" width="1.6" height="0.8" fill="#222"/>
<rect x="444.4" y="364.8" width="2.2" height="0.8" fill="#222"/>
<rect x="407.6" y="362.0" width="1.6" height="0.8" fill="#222"/>
<rect x="413.3" y="364.3" width="1.0" height="0.8" fill="#222"/>
<rect x="477.6" y="363.3" width="2.2" height="0.8" fill="#222"/>
<rect x="504.9" y="364.4" width="1.0" height="0.8" fill="#222"/>
<rect x="443.0" y="364.7" width="1.6" height="0.8" fill="#222"/>
<rect x="503.2" y="361.9" width="2.2" height="0.8" fill="#222"/>
<rect x="418.3" y="365.2" width="2.2" height="0.8" fill="#222"/>
<rect x="431.2" y="361.4" width="1.6" height="0.8" fill="#222"/>
<rect x="406.0" y="364.2" width="1.6" height="0.8" fill="#222"/>
<rect x="511.8" y="364.5" width="1.6" height="0.8" fill="#222"/>
<rect x="532.7" y="361.6" width="2.2" height="0.8" fill="#222"/>
<rect x="390.6" y="363.6" width="1.6" height="0.8" fill="#222"/>
<rect x="535.7" y="362.5" width="2.2" height="0.8" fill="#222"/>
<rect x="481.0" y="364.3" width="1.0" height="0.8" fill="#222"/>
<rect x="391.2" y="364.5" width="1.0" height="0.8" fill="#222"/>
<rect x="437.8" y="362.5" width="1.6" height="0.8" fill="#222"/>
<rect x="398.2" y="361.5" width="1.0" height="0.8" fill="#222"/>
<rect x="481.2" y="364.5" width="1.6" height="0.8" fill="#222"/>
<rect x="461.8" y="365.1" width="2.2" height="0.8" fill="#222"/>
<rect x="484.1" y="363.0" width="2.2" height="0.8" fill="#222"/>
<rect x="463.1" y="364.8" width="1.0" height="0.8" fill="#222"/>
<rect x="417.1" y="361.4" width="1.6" height="0.8" fill="#222"/>
<rect x="387.7" y="362.3" width="2.2" height="0.8" fill="#222"/>
<rect x="511.8" y="364.2" width="1.6" height="0.8" fill="#222"/>
<rect x="508.6" y="362.8" width="1.6" height="0.8" fill="#222"/>
<rect x="458.9" y="363.8" width="2.2" height="0.8" fill="#222"/>
<rect x="394.7" y="363.2" width="1.6" height="0.8" fill="#222"/>
<rect x="440.7" y="363.7" width="1.0" height="0.8" fill="#222"/>
<rect x="505.7" y="363.8" width="2.2" height="0.8" fill="#222"/>
<rect x="487.9" y="364.7" width="2.2" height="0.8" fill="#222"/>
<rect x="512.2" y="362.3" width="1.6" height="0.8" fill="#222"/>
<rect x="527.7" y="362.8" width="2.2" height="0.8" fill="#222"/>
<rect x="442.1" y="363.3" width="2.2" height="0.8" fill="#222"/>
<rect x="539.3" y="361.2" width="1.6" height="0.8" fill="#222"/>
<rect x="413.3" y="364.8" width="2.2" height="0.8" fill="#222"/>
<rect x="404.3" y="363.5" width="1.0" height="0.8" fill="#222"/>
<rect x="464.6" y="363.7" width="1.6" height="0.8" fill="#222"/>
<rect x="499.8" y="363.1" width="1.0" height="0.8" fill="#222"/>
<rect x="539.5" y="361.9" width="1.6" height="0.8" fill="#222"/>
<rect x="413.9" y="362.6" width="2.2" height="0.8" fill="#222"/>
<rect x="474.1" y="362.0" width="1.0" height="0.8" fill="#222"/>
<rect x="533.2" y="362.5" width="1.6" height="0.8" fill="#222"/>
<rect x="532.2" y="365.2" width="2.2" height="0.8" fill="#222"/>
<rect x="462.1" y="362.2" width="2.2" height="0.8" fill="#222"/>
<rect x="425.4" y="362.8" width="1.6" height="0.8" fill="#222"/>
<rect x="455.7" y="363.0" width="2.2" height="0.8" fill="#222"/>
<rect x="487.5" y="363.9" width="2.2" height="0.8" fill="#222"/>
<rect x="442.5" y="362.3" width="1.0" height="0.8" fill="#222"/>
<rect x="537.0" y="362.1" width="1.6" height="0.8" fill="#222"/>
<rect x="510.7" y="365.0" width="2.2" height="0.8" fill="#222"/>
<rect x="439.8" y="361.5" width="2.2" height="0.8" fill="#222"/>
<rect x="387.3" y="363.7" width="2.2" height="0.8" fill="#222"/>
<rect x="452.9" y="365.3" width="2.2" height="0.8" fill="#222"/>
<rect x="404.7" y="365.2" width="1.0" height="0.8" fill="#222"/>
<rect x="453.7" y="364.9" width="1.6" height="0.8" fill="#222"/>
<rect x="407.6" y="363.5" width="1.6" height="0.8" fill="#222"/>
<rect x="465.7" y="361.4" width="1.0" height="0.8" fill="#222"/>
<rect x="447.7" y="364.8" width="1.0" height="0.8" fill="#222"/>
<rect x="417.0" y="364.5" width="2.2" height="0.8" fill="#222"/>
<rect x="529.0" y="364.8" width="1.0" height="0.8" fill="#222"/>
<rect x="486.4" y="361.5" width="1.6" height="0.8" fill="#222"/>
<rect x="524.9" y="364.3" width="2.2" height="0.8" fill="#222"/>
<rect x="411.1" y="361.4" width="2.2" height="0.8" fill="#222"/>
<rect x="478.0" y="363.7" width="1.6" height="0.8" fill="#222"/>
<rect x="489.7" y="364.0" width="1.0" height="0.8" fill="#222"/>
<rect x="424.2" y="362.6" width="1.6" height="0.8" fill="#222"/>
<rect x="483.4" y="361.2" width="1.0" height="0.8" fill="#222"/>
<rect x="487.9" y="362.0" width="1.0" height="0.8" fill="#222"/>
<rect x="489.5" y="362.0" width="1.6" height="0.8" fill="#222"/>
<rect x="437.4" y="361.9" width="2.2" height="0.8" fill="#222"/>
<rect x="460.2" y="364.0" width="2.2" height="0.8" fill="#222"/>
<rect x="444.9" y="361.3" width="1.0" height="0.8" fill="#222"/>
<rect x="529.9" y="363.4" width="1.6" height="0.8" fill="#222"/>
<rect x="412.8" y="362.0" width="2.2" height="0.8" fill="#222"/>
<rect x="448.8" y="362.5" width="1.0" height="0.8" fill="#222"/>
<rect x="415.2" y="361.4" width="1.6" height="0.8" fill="#222"/>
<rect x="478.1" y="363.8" width="2.2" height="0.8" fill="#222"/>
<rect x="408.9" y="364.1" width="1.6" height="0.8" fill="#222"/>
<rect x="457.6" y="364.7" width="1.6" height="0.8" fill="#222"/>
<rect x="510.1" y="364.9" width="2.2" height="0.8" fill="#222"/>
<rect x="389.9" y="364.0" width="2.2" height="0.8" fill="#222"/>
<rect x="525.4" y="363.4" width="1.0" height="0.8" fill="#222"/>
<rect x="536.2" y="362.8" width="1.6" height="0.8" fill="#222"/>
<rect x="530.9" y="364.5" width="1.0" height="0.8" fill="#222"/>
<rect x="527.1" y="361.9" width="1.6" height="0.8" fill="#222"/>
<rect x="478.2" y="364.3" width="2.2" height="0.8" fill="#222"/>
<rect x="500.8" y="361.9" width="2.2" height="0.8" fill="#222"/>
<rect x="461.1" y="362.9" width="1.0" height="0.8" fill="#222"/>
<rect x="540.7" y="363.5" width="1.6" height="0.8" fill="#222"/>
<rect x="499.4" y="364.8" width="1.6" height="0.8" fill="#222"/>
<rect x="526.6" y="362.2" width="2.2" height="0.8" fill="#222"/>
<rect x="409.5" y="363.4" width="1.6" height="0.8" fill="#222"/>
<rect x="472.7" y="365.3" width="1.6" height="0.8" fill="#222"/>
<rect x="533.7" y="364.3" width="2.2" height="0.8" fill="#222"/>
<rect x="499.4" y="364.2" width="1.0" height="0.8" fill="#222"/>
<rect x="529.4" y="363.3" width="2.2" height="0.8" fill="#222"/>
<rect x="428.4" y="361.9" width="2.2" height="0.8" fill="#222"/>
<rect x="448.9" y="363.8" width="1.6" height="0.8" fill="#222"/>
<rect x="501.2" y="363.9" width="1.6" height="0.8" fill="#222"/>
<rect x="410.5" y="364.6" width="1.0" height="0.8" fill="#222"/>
<rect x="459.3" y="362.3" width="2.2" height="0.8" fill="#222"/>
<rect x="518.4" y="362.0" width="1.6" height="0.8" fill="#222"/>
<rect x="474.8" y="364.5" width="2.2" height="0.8" fill="#222"/>
<rect x="403.3" y="362.1" width="1.0" height="0.8" fill="#222"/>
<rect x="441.3" y="362.8" width="1.0" height="0.8" fill="#222"/>
<rect x="505.4" y="364.8" width="1.6" height="0.8" fill="#222"/>
<rect x="473.2" y="365.3" width="1.0" height="0.8" fill="#222"/>
<rect x="458.8" y="364.8" width="2.2" height="0.8" fill="#222"/>
<rect x="511.0" y="363.2" width="1.0" height="0.8" fill="#222"/>
<rect x="385.3" y="365.0" width="1.0" height="0.8" fill="#222"/>
<rect x="461.0" y="363.1" width="1.6" height="0.8" fill="#222"/>
<rect x="471.0" y="363.0" width="2.2" height="0.8" fill="#222"/>
<rect x="491.9" y="364.7" width="1.0" height="0.8" fill="#222"/>
<rect x="441.0" y="362.2" width="1.6" height="0.8" fill="#222"/>
<rect x="507.9" y="365.0" width="1.0" height="0.8" fill="#222"/>
<rect x="476.3" y="362.6" width="1.0" height="0.8" fill="#222"/>
<rect x="500.4" y="362.2" width="1.0" height="0.8" fill="#222"/>
<rect x="404.4" y="364.6" width="1.6" height="0.8" fill="#222"/>
<rect x="397.7" y="363.7" width="2.2" height="0.8" fill="#222"/>
<rect x="415.9" y="362.0" width="1.6" height="0.8" fill="#222"/>
<rect x="504.4" y="363.2" width="1.0" height="0.8" fill="#222"/>
<rect x="490.8" y="362.6" width="2.2" height="0.8" fill="#222"/>
<rect x="464.6" y="361.2" width="1.0" height="0.8" fill="#222"/>
<rect x="426.4" y="362.3" width="1.6" height="0.8" fill="#222"/>
<rect x="390.7" y="364.3" width="2.2" height="0.8" fill="#222"/>
<rect x="485.8" y="361.3" width="2.2" height="0.8" fill="#222"/>
<rect x="418.2" y="364.1" width="1.6" height="0.8" fill="#222"/>
<rect x="461.1" y="365.1" width="1.6" height="0.8" fill="#222"/>
<rect x="450.2" y="361.3" width="1.6" height="0.8" fill="#222"/>
<rect x="403.8" y="362.8" width="1.6" height="0.8" fill="#222"/>
<rect x="482.7" y="363.1" width="2.2" height="0.8" fill="#222"/>
<rect x="474.8" y="363.0" width="1.0" height="0.8" fill="#222"/>
<rect x="384.2" y="363.8" width="1.6" height="0.8" fill="#222"/>
<rect x="516.0" y="364.4" width="2.2" height="0.8" fill="#222"/>
<rect x="500.9" y="362.6" width="1.0" height="0.8" fill="#222"/>
<rect x="407.4" y="364.5" width="1.6" height="0.8" fill="#222"/>
<rect x="491.8" y="362.4" width="1.0" height="0.8" fill="#222"/>
<rect x="454.1" y="362.0" width="1.0" height="0.8" fill="#222"/>
<rect x="480.9" y="364.7" width="1.0" height="0.8" fill="#222"/>
<rect x="469.1" y="361.9" width="2.2" height="0.8" fill="#222"/>
<rect x="399.5" y="362.9" width="1.0" height="0.8" fill="#222"/>
<rect x="413.5" y="364.1" width="2.2" height="0.8" fill="#222"/>
<rect x="383.9" y="364.4" width="1.0" height="0.8" fill="#222"/>
<rect x="476.9" y="361.6" width="1.0" height="0.8" fill="#222"/>
<rect x="450.1" y="364.4" width="2.2" height="0.8" fill="#222"/>
<rect x="492.8" y="364.5" width="1.6" height="0.8" fill="#222"/>
<rect x="429.4" y="362.5" width="2.2" height="0.8" fill="#222"/>
<rect x="438.2" y="364.4" width="1.0" height="0.8" fill="#222"/>
<rect x="473.3" y="361.4" width="1.6" height="0.8" fill="#222"/>
<rect x="504.4" y="363.6" width="1.0" height="0.8" fill="#222"/>
<rect x="387.1" y="363.8" width="1.6" height="0.8" fill="#222"/>
<rect x="505.2" y="364.2" width="2.2" height="0.8" fill="#222"/>
<rect x="513.0" y="362.4" width="1.6" height="0.8" fill="#222"/>
<rect x="487.2" y="363.9" width="1.6" height="0.8" fill="#222"/>
<rect x="527.6" y="362.4" width="1.0" height="0.8" fill="#222"/>
<rect x="427.0" y="361.6" width="1.6" height="0.8" fill="#222"/>
<rect x="512.3" y="361.8" width="2.2" height="0.8" fill="#222"/>
<rect x="404.9" y="362.5" width="1.0" height="0.8" fill="#222"/>
<rect x="424.1" y="364.0" width="1.0" height="0.8" fill="#222"/>
<rect x="388.9" y="364.3" width="1.6" height="0.8" fill="#222"/>
<rect x="463.0" y="361.6" width="1.6" height="0.8" fill="#222"/>
<rect x="415.9" y="364.8" width="2.2" height="0.8" fill="#222"/>
<rect x="412.7" y="363.2" width="1.6" height="0.8" fill="#222"/>
<rect x="478.3" y="363.0" width="1.0" height="0.8" fill="#222"/>
<rect x="449.1" y="362.0" width="1.0" height="0.8" fill="#222"/>
<rect x="415.8" y="361.9" width="1.6" height="0.8" fill="#222"/>
<rect x="383.1" y="364.4" width="2.2" height="0.8" fill="#222"/>
<rect x="535.2" y="362.2" width="1.6" height="0.8" fill="#222"/>
<rect x="465.6" y="362.7" width="1.6" height="0.8" fill="#222"/>
<rect x="493.2" y="364.9" width="1.0" height="0.8" fill="#222"/>
<rect x="491.7" y="363.2" width="1.6" height="0.8" fill="#222"/>
<rect x="439.9" y="364.9" width="2.2" height="0.8" fill="#222"/>
<rect x="404.3" y="364.0" width="2.2" height="0.8" fill="#222"/>
<rect x="489.1" y="365.2" width="1.0" height="0.8" fill="#222"/>
<rect x="420.4" y="365.3" width="1.6" height="0.8" fill="#222"/>
<rect x="470.6" y="364.6" width="1.0" height="0.8" fill="#222"/>
<rect x="496.4" y="361.3" width="2.2" height="0.8" fill="#222"/>
<rect x="424.7" y="362.3" width="2.2" height="0.8" fill="#222"/>
<rect x="503.7" y="362.1" width="1.0" height="0.8" fill="#222"/>
<rect x="520.5" y="364.9" width="1.6" height="0.8" fill="#222"/>
<rect x="537.6" y="363.2" width="2.2" height="0.8" fill="#222"/>
<rect x="487.5" y="362.1" width="1.0" height="0.8" fill="#222"/>
<rect x="485.8" y="363.0" width="2.2" height="0.8" fill="#222"/>
<rect x="529.6" y="364.4" width="2.2" height="0.8" fill="#222"/>
<rect x="442.8" y="361.8" width="1.0" height="0.8" fill="#222"/>
<rect x="501.7" y="361.9" width="1.0" height="0.8" fill="#222"/>
<rect x="503.1" y="361.4" width="2.2" height="0.8" fill="#222"/>
<rect x="433.4" y="361.9" width="2.2" height="0.8" fill="#222"/>
<rect x="428.3" y="363.0" width="2.2" height="0.8" fill="#222"/>
<rect x="427.6" y="364.3" width="2.2" height="0.8" fill="#222"/>
<rect x="469.7" y="362.3" width="1.0" height="0.8" fill="#222"/>
<rect x="493.3" y="364.6" width="1.6" height="0.8" fill="#222"/>
<rect x="455.1" y="364.9" width="2.2" height="0.8" fill="#222"/>
<rect x="423.4" y="362.6" width="2.2" height="0.8" fill="#222"/>
<rect x="436.2" y="365.0" width="1.6" height="0.8" fill="#222"/>
<rect x="413.8" y="361.9" width="1.0" height="0.8" fill="#222"/>
<rect x="425.6" y="364.4" width="1.0" height="0.8" fill="#222"/>
<rect x="535.9" y="361.4" width="1.6" height="0.8" fill="#222"/>
<rect x="491.9" y="363.3" width="1.0" height="0.8" fill="#222"/>
<rect x="509.5" y="361.9" width="2.2" height="0.8" fill="#222"/>
<rect x="490.3" y="362.2" width="1.0" height="0.8" fill="#222"/>
<rect x="516.5" y="363.7" width="1.0" height="0.8" fill="#222"/>
<rect x="478.2" y="362.0" width="1.0" height="0.8" fill="#222"/>
<rect x="529.6" y="362.5" width="1.6" height="0.8" fill="#222"/>
<rect x="433.2" y="364.2" width="1.6" height="0.8" fill="#222"/>
<rect x="507.6" y="364.7" width="2.2" height="0.8" fill="#222"/>
<rect x="388.5" y="380.0" width="18.1" height="9.6" fill="none" stroke="#111" stroke-width="2.60"/>
<line x1="397.6" y1="380.0" x2="397.6" y2="389.6" stroke="#111" stroke-width="2.60"/>
<rect x="516.0" y="380.6" width="17.0" height="9.3" fill="none" stroke="#111" stroke-width="2.60"/>
<line x1="524.5" y1="380.6" x2="524.5" y2="389.9" stroke="#111" stroke-width="2.60"/>
<circle cx="407.9" cy="373.5" r="4.6" fill="#fff" stroke="#111" stroke-width="1.6"/>
<line x1="407.9" y1="343.5" x2="407.9" y2="382.5" stroke="#111" stroke-width="1.56"/>
<circle cx="423.3" cy="373.5" r="4.6" fill="#fff" stroke="#111" stroke-width="1.6"/>
<line x1="423.3" y1="343.5" x2="423.3" y2="382.5" stroke="#111" stroke-width="1.56"/>
<circle cx="437.9" cy="373.5" r="4.6" fill="#fff" stroke="#111" stroke-width="1.6"/>
<line x1="437.9" y1="343.5" x2="437.9" y2="382.5" stroke="#111" stroke-width="1.56"/>
<circle cx="452.3" cy="373.5" r="4.6" fill="#fff" stroke="#111" stroke-width="1.6"/>
<line x1="452.3" y1="343.5" x2="452.3" y2="382.5" stroke="#111" stroke-width="1.56"/>
<circle cx="466.3" cy="373.5" r="4.6" fill="#fff" stroke="#111" stroke-width="1.6"/>
<line x1="466.3" y1="343.5" x2="466.3" y2="382.5" stroke="#111" stroke-width="1.56"/>
<circle cx="481" cy="373.5" r="4.6" fill="#fff" stroke="#111" stroke-width="1.6"/>
<line x1="481.0" y1="343.5" x2="481.0" y2="382.5" stroke="#111" stroke-width="1.56"/>
<circle cx="495.7" cy="373.5" r="4.6" fill="#fff" stroke="#111" stroke-width="1.6"/>
<line x1="495.7" y1="343.5" x2="495.7" y2="382.5" stroke="#111" stroke-width="1.56"/>
<circle cx="510.6" cy="373.5" r="4.6" fill="#fff" stroke="#111" stroke-width="1.6"/>
<line x1="510.6" y1="343.5" x2="510.6" y2="382.5" stroke="#111" stroke-width="1.56"/>
<line x1="382.7" y1="373.3" x2="518.0" y2="373.3" stroke="#111" stroke-width="1.43"/>
<line x1="372.8" y1="348.2" x2="548.0" y2="348.2" stroke="#111" stroke-width="1.69"/>
<line x1="378.6" y1="343.5" x2="378.6" y2="361.0" stroke="#111" stroke-width="1.56"/>
<line x1="543.4" y1="343.5" x2="543.4" y2="361.0" stroke="#111" stroke-width="1.56"/>
<text x="386.0" y="345.4" font-family="Liberation Sans" font-weight="bold" font-size="9.3" textLength="4.3" lengthAdjust="spacingAndGlyphs" fill="#111" stroke="#111" stroke-width="0.25">2</text>
<text x="391.5" y="345.4" font-family="Liberation Sans" font-weight="bold" font-size="9.3" textLength="4.3" lengthAdjust="spacingAndGlyphs" fill="#111" stroke="#111" stroke-width="0.25">9</text>
<text x="396.9" y="345.4" font-family="Liberation Sans" font-weight="bold" font-size="9.3" textLength="4.3" lengthAdjust="spacingAndGlyphs" fill="#111" stroke="#111" stroke-width="0.25">5</text>
<text x="409.4" y="345.4" font-family="Liberation Sans" font-weight="bold" font-size="9.3" textLength="3.0" lengthAdjust="spacingAndGlyphs" fill="#111" stroke="#111" stroke-width="0.25">1</text>
<text x="413.3" y="345.4" font-family="Liberation Sans" font-weight="bold" font-size="9.3" textLength="3.0" lengthAdjust="spacingAndGlyphs" fill="#111" stroke="#111" stroke-width="0.25">5</text>
<text x="417.1" y="345.4" font-family="Liberation Sans" font-weight="bold" font-size="9.3" textLength="3.0" lengthAdjust="spacingAndGlyphs" fill="#111" stroke="#111" stroke-width="0.25">0</text>
<text x="425.4" y="345.4" font-family="Liberation Sans" font-weight="bold" font-size="9.3" textLength="2.9" lengthAdjust="spacingAndGlyphs" fill="#111" stroke="#111" stroke-width="0.25">1</text>
<text x="429.1" y="345.4" font-family="Liberation Sans" font-weight="bold" font-size="9.3" textLength="2.9" lengthAdjust="spacingAndGlyphs" fill="#111" stroke="#111" stroke-width="0.25">5</text>
<text x="432.7" y="345.4" font-family="Liberation Sans" font-weight="bold" font-size="9.3" textLength="2.9" lengthAdjust="spacingAndGlyphs" fill="#111" stroke="#111" stroke-width="0.25">0</text>
<text x="439.4" y="345.4" font-family="Liberation Sans" font-weight="bold" font-size="9.3" textLength="2.9" lengthAdjust="spacingAndGlyphs" fill="#111" stroke="#111" stroke-width="0.25">1</text>
<text x="443.1" y="345.4" font-family="Liberation Sans" font-weight="bold" font-size="9.3" textLength="2.9" lengthAdjust="spacingAndGlyphs" fill="#111" stroke="#111" stroke-width="0.25">5</text>
<text x="446.7" y="345.4" font-family="Liberation Sans" font-weight="bold" font-size="9.3" textLength="2.9" lengthAdjust="spacingAndGlyphs" fill="#111" stroke="#111" stroke-width="0.25">0</text>
<text x="453.9" y="345.4" font-family="Liberation Sans" font-weight="bold" font-size="9.3" textLength="3.0" lengthAdjust="spacingAndGlyphs" fill="#111" stroke="#111" stroke-width="0.25">1</text>
<text x="457.8" y="345.4" font-family="Liberation Sans" font-weight="bold" font-size="9.3" textLength="3.0" lengthAdjust="spacingAndGlyphs" fill="#111" stroke="#111" stroke-width="0.25">5</text>
<text x="461.6" y="345.4" font-family="Liberation Sans" font-weight="bold" font-size="9.3" textLength="3.0" lengthAdjust="spacingAndGlyphs" fill="#111" stroke="#111" stroke-width="0.25">0</text>
<text x="467.9" y="345.4" font-family="Liberation Sans" font-weight="bold" font-size="9.3" textLength="3.1" lengthAdjust="spacingAndGlyphs" fill="#111" stroke="#111" stroke-width="0.25">1</text>
<text x="471.9" y="345.4" font-family="Liberation Sans" font-weight="bold" font-size="9.3" textLength="3.1" lengthAdjust="spacingAndGlyphs" fill="#111" stroke="#111" stroke-width="0.25">5</text>
<text x="475.9" y="345.4" font-family="Liberation Sans" font-weight="bold" font-size="9.3" textLength="3.1" lengthAdjust="spacingAndGlyphs" fill="#111" stroke="#111" stroke-width="0.25">0</text>
<text x="482.9" y="345.4" font-family="Liberation Sans" font-weight="bold" font-size="9.3" textLength="3.0" lengthAdjust="spacingAndGlyphs" fill="#111" stroke="#111" stroke-width="0.25">1</text>
<text x="486.8" y="345.4" font-family="Liberation Sans" font-weight="bold" font-size="9.3" textLength="3.0" lengthAdjust="spacingAndGlyphs" fill="#111" stroke="#111" stroke-width="0.25">5</text>
<text x="490.6" y="345.4" font-family="Liberation Sans" font-weight="bold" font-size="9.3" textLength="3.0" lengthAdjust="spacingAndGlyphs" fill="#111" stroke="#111" stroke-width="0.25">0</text>
<text x="497.4" y="345.4" font-family="Liberation Sans" font-weight="bold" font-size="9.3" textLength="3.0" lengthAdjust="spacingAndGlyphs" fill="#111" stroke="#111" stroke-width="0.25">1</text>
<text x="501.3" y="345.4" font-family="Liberation Sans" font-weight="bold" font-size="9.3" textLength="3.0" lengthAdjust="spacingAndGlyphs" fill="#111" stroke="#111" stroke-width="0.25">5</text>
<text x="505.1" y="345.4" font-family="Liberation Sans" font-weight="bold" font-size="9.3" textLength="3.0" lengthAdjust="spacingAndGlyphs" fill="#111" stroke="#111" stroke-width="0.25">0</text>
<text x="522.4" y="345.4" font-family="Liberation Sans" font-weight="bold" font-size="9.3" textLength="4.0" lengthAdjust="spacingAndGlyphs" fill="#111" stroke="#111" stroke-width="0.25">2</text>
<text x="527.5" y="345.4" font-family="Liberation Sans" font-weight="bold" font-size="9.3" textLength="4.0" lengthAdjust="spacingAndGlyphs" fill="#111" stroke="#111" stroke-width="0.25">9</text>
<text x="532.6" y="345.4" font-family="Liberation Sans" font-weight="bold" font-size="9.3" textLength="4.0" lengthAdjust="spacingAndGlyphs" fill="#111" stroke="#111" stroke-width="0.25">5</text>
<text x="470.4" y="390.2" font-family="Liberation Sans" font-weight="bold" font-size="8.1" textLength="3.4" lengthAdjust="spacingAndGlyphs" fill="#111" stroke="#111" stroke-width="0.25">1</text>
<text x="474.7" y="390.2" font-family="Liberation Sans" font-weight="bold" font-size="8.1" textLength="3.4" lengthAdjust="spacingAndGlyphs" fill="#111" stroke="#111" stroke-width="0.25">0</text>
<text x="479.0" y="390.2" font-family="Liberation Sans" font-weight="bold" font-size="8.1" textLength="3.4" lengthAdjust="spacingAndGlyphs" fill="#111" stroke="#111" stroke-width="0.25">0</text>
<line x1="465.0" y1="383.0" x2="465.0" y2="391.5" stroke="#111" stroke-width="1.30"/>
<line x1="457.7" y1="392.6" x2="485.3" y2="392.6" stroke="#111" stroke-width="1.56"/>
<line x1="485.3" y1="392.6" x2="507.2" y2="352.9" stroke="#111" stroke-width="1.56"/>
<circle cx="465" cy="387.3" r="2.2" fill="#111"/>
<text x="328.7" y="429.3" font-family="Liberation Sans" font-weight="bold" font-size="9.7" textLength="5.0" lengthAdjust="spacingAndGlyphs" fill="#111" stroke="#111" stroke-width="0.4">П</text>
<text x="336.8" y="429.3" text-anchor="middle" font-family="Liberation Sans" font-weight="bold" font-size="9.7" fill="#111" stroke="#111" stroke-width="0.4">-</text>
<text x="339.9" y="429.3" font-family="Liberation Sans" font-weight="bold" font-size="9.7" textLength="5.0" lengthAdjust="spacingAndGlyphs" fill="#111" stroke="#111" stroke-width="0.4">3</text>
<line x1="317.7" y1="431.1" x2="348.8" y2="431.1" stroke="#111" stroke-width="1.56"/>
<line x1="348.8" y1="431.1" x2="391.0" y2="391.0" stroke="#111" stroke-width="1.69"/>
<text x="545.5" y="379.2" font-family="Liberation Sans" font-weight="bold" font-size="7.2" textLength="3.4" lengthAdjust="spacingAndGlyphs" fill="#111" stroke="#111" stroke-width="0.25">3</text>
<text x="549.8" y="379.2" font-family="Liberation Sans" font-weight="bold" font-size="7.2" textLength="3.4" lengthAdjust="spacingAndGlyphs" fill="#111" stroke="#111" stroke-width="0.25">0</text>
<text x="539.7" y="393.7" font-family="Liberation Sans" font-weight="bold" font-size="8.1" textLength="3.4" lengthAdjust="spacingAndGlyphs" fill="#111" stroke="#111" stroke-width="0.25">3</text>
<text x="544.0" y="393.7" font-family="Liberation Sans" font-weight="bold" font-size="8.1" textLength="3.4" lengthAdjust="spacingAndGlyphs" fill="#111" stroke="#111" stroke-width="0.25">5</text>
<line x1="538.0" y1="376.3" x2="538.0" y2="385.9" stroke="#111" stroke-width="1.17"/>
<line x1="540.5" y1="376.3" x2="540.5" y2="385.9" stroke="#111" stroke-width="1.17"/>
<line x1="534.7" y1="382.5" x2="550.6" y2="382.5" stroke="#111" stroke-width="1.17"/>
<line x1="534.7" y1="379.6" x2="544.0" y2="379.6" stroke="#111" stroke-width="1.04"/>
<line x1="351.8" y1="357.0" x2="351.8" y2="413.5" stroke="#111" stroke-width="1.69"/>
<line x1="344.8" y1="359.0" x2="375.7" y2="359.0" stroke="#111" stroke-width="1.69"/>
<line x1="344.8" y1="385.0" x2="362.2" y2="385.0" stroke="#111" stroke-width="1.69"/>
<line x1="344.8" y1="409.2" x2="366.0" y2="409.2" stroke="#111" stroke-width="1.69"/>
<line x1="366.4" y1="357.7" x2="366.4" y2="376.5" stroke="#111" stroke-width="1.56"/>
<line x1="362.0" y1="372.5" x2="375.7" y2="372.5" stroke="#111" stroke-width="1.56"/>
<g transform="translate(345.9,372.0) rotate(-90.0)">
<text x="-6.1" y="3.1" font-family="Liberation Sans" font-weight="bold" font-size="8.8" textLength="3.4" lengthAdjust="spacingAndGlyphs" fill="#111" stroke="#111" stroke-width="0.25">2</text>
<text x="-1.7" y="3.1" font-family="Liberation Sans" font-weight="bold" font-size="8.8" textLength="3.4" lengthAdjust="spacingAndGlyphs" fill="#111" stroke="#111" stroke-width="0.25">4</text>
<text x="2.7" y="3.1" font-family="Liberation Sans" font-weight="bold" font-size="8.8" textLength="3.4" lengthAdjust="spacingAndGlyphs" fill="#111" stroke="#111" stroke-width="0.25">0</text>
</g>
<g transform="translate(345.5,397.5) rotate(-90.0)">
<text x="-6.5" y="3.4" font-family="Liberation Sans" font-weight="bold" font-size="9.4" textLength="3.6" lengthAdjust="spacingAndGlyphs" fill="#111" stroke="#111" stroke-width="0.25">2</text>
<text x="-1.8" y="3.4" font-family="Liberation Sans" font-weight="bold" font-size="9.4" textLength="3.6" lengthAdjust="spacingAndGlyphs" fill="#111" stroke="#111" stroke-width="0.25">6</text>
<text x="2.8" y="3.4" font-family="Liberation Sans" font-weight="bold" font-size="9.4" textLength="3.6" lengthAdjust="spacingAndGlyphs" fill="#111" stroke="#111" stroke-width="0.25">0</text>
</g>
<g transform="translate(360.5,366.5) rotate(-90.0)">
<text x="-4.0" y="3.1" font-family="Liberation Sans" font-weight="bold" font-size="8.8" textLength="3.5" lengthAdjust="spacingAndGlyphs" fill="#111" stroke="#111" stroke-width="0.25">8</text>
<text x="0.5" y="3.1" font-family="Liberation Sans" font-weight="bold" font-size="8.8" textLength="3.5" lengthAdjust="spacingAndGlyphs" fill="#111" stroke="#111" stroke-width="0.25">0</text>
</g>
<line x1="572.6" y1="354.0" x2="572.6" y2="414.0" stroke="#111" stroke-width="1.69"/>
<line x1="598.6" y1="354.0" x2="598.6" y2="414.0" stroke="#111" stroke-width="1.69"/>
<line x1="560.4" y1="360.0" x2="600.0" y2="360.0" stroke="#111" stroke-width="1.69"/>
<line x1="555.6" y1="409.2" x2="600.0" y2="409.2" stroke="#111" stroke-width="1.69"/>
<line x1="560.4" y1="370.5" x2="580.0" y2="370.5" stroke="#111" stroke-width="1.56"/>
<line x1="560.4" y1="366.0" x2="577.0" y2="366.0" stroke="#111" stroke-width="1.04"/>
<rect x="561.4" y="361.0" width="6.7" height="10.5" fill="none" stroke="#111" stroke-width="1.17"/>
<g transform="translate(564.7,366.0) rotate(-90.0)">
<text x="-4.2" y="2.1" font-family="Liberation Sans" font-weight="bold" font-size="6.0" textLength="2.3" lengthAdjust="spacingAndGlyphs" fill="#111" stroke="#111" stroke-width="0.25">1</text>
<text x="-1.2" y="2.1" font-family="Liberation Sans" font-weight="bold" font-size="6.0" textLength="2.3" lengthAdjust="spacingAndGlyphs" fill="#111" stroke="#111" stroke-width="0.25">0</text>
<text x="1.8" y="2.1" font-family="Liberation Sans" font-weight="bold" font-size="6.0" textLength="2.3" lengthAdjust="spacingAndGlyphs" fill="#111" stroke="#111" stroke-width="0.25">5</text>
</g>
<g transform="translate(578.2,366.1) rotate(-90.0)">
<text x="-3.1" y="3.0" font-family="Liberation Sans" font-weight="bold" font-size="8.3" textLength="2.7" lengthAdjust="spacingAndGlyphs" fill="#111" stroke="#111" stroke-width="0.25">1</text>
<text x="0.4" y="3.0" font-family="Liberation Sans" font-weight="bold" font-size="8.3" textLength="2.7" lengthAdjust="spacingAndGlyphs" fill="#111" stroke="#111" stroke-width="0.25">5</text>
</g>
<g transform="translate(566.1,392.6) rotate(-90.0)">
<text x="-7.1" y="3.5" font-family="Liberation Sans" font-weight="bold" font-size="9.7" textLength="4.0" lengthAdjust="spacingAndGlyphs" fill="#111" stroke="#111" stroke-width="0.25">3</text>
<text x="-2.0" y="3.5" font-family="Liberation Sans" font-weight="bold" font-size="9.7" textLength="4.0" lengthAdjust="spacingAndGlyphs" fill="#111" stroke="#111" stroke-width="0.25">8</text>
<text x="3.1" y="3.5" font-family="Liberation Sans" font-weight="bold" font-size="9.7" textLength="4.0" lengthAdjust="spacingAndGlyphs" fill="#111" stroke="#111" stroke-width="0.25">0</text>
</g>
<g transform="translate(591.9,384.9) rotate(-90.0)">
<text x="-6.5" y="3.5" font-family="Liberation Sans" font-weight="bold" font-size="9.7" textLength="3.6" lengthAdjust="spacingAndGlyphs" fill="#111" stroke="#111" stroke-width="0.25">5</text>
<text x="-1.8" y="3.5" font-family="Liberation Sans" font-weight="bold" font-size="9.7" textLength="3.6" lengthAdjust="spacingAndGlyphs" fill="#111" stroke="#111" stroke-width="0.25">0</text>
<text x="2.8" y="3.5" font-family="Liberation Sans" font-weight="bold" font-size="9.7" textLength="3.6" lengthAdjust="spacingAndGlyphs" fill="#111" stroke="#111" stroke-width="0.25">0</text>
</g>
<line x1="368.4" y1="432.1" x2="551.8" y2="432.1" stroke="#111" stroke-width="1.69"/>
<line x1="368.4" y1="448.5" x2="548.5" y2="448.5" stroke="#111" stroke-width="1.69"/>
<line x1="377.6" y1="428.5" x2="377.6" y2="452.4" stroke="#111" stroke-width="1.56"/>
<line x1="542.0" y1="428.5" x2="542.0" y2="452.4" stroke="#111" stroke-width="1.56"/>
<line x1="385.4" y1="427.5" x2="385.4" y2="438.0" stroke="#111" stroke-width="1.43"/>
<line x1="534.7" y1="427.5" x2="534.7" y2="438.0" stroke="#111" stroke-width="1.43"/>
<text x="373.9" y="427.8" font-family="Liberation Sans" font-weight="bold" font-size="10.4" textLength="4.2" lengthAdjust="spacingAndGlyphs" fill="#111" stroke="#111" stroke-width="0.25">7</text>
<text x="379.3" y="427.8" font-family="Liberation Sans" font-weight="bold" font-size="10.4" textLength="4.2" lengthAdjust="spacingAndGlyphs" fill="#111" stroke="#111" stroke-width="0.25">5</text>
<text x="449.3" y="427.8" font-family="Liberation Sans" font-weight="bold" font-size="10.4" textLength="4.8" lengthAdjust="spacingAndGlyphs" fill="#111" stroke="#111" stroke-width="0.25">1</text>
<text x="455.4" y="427.8" font-family="Liberation Sans" font-weight="bold" font-size="10.4" textLength="4.8" lengthAdjust="spacingAndGlyphs" fill="#111" stroke="#111" stroke-width="0.25">4</text>
<text x="461.6" y="427.8" font-family="Liberation Sans" font-weight="bold" font-size="10.4" textLength="4.8" lengthAdjust="spacingAndGlyphs" fill="#111" stroke="#111" stroke-width="0.25">9</text>
<text x="467.7" y="427.8" font-family="Liberation Sans" font-weight="bold" font-size="10.4" textLength="4.8" lengthAdjust="spacingAndGlyphs" fill="#111" stroke="#111" stroke-width="0.25">0</text>
<text x="536.5" y="427.8" font-family="Liberation Sans" font-weight="bold" font-size="10.4" textLength="3.6" lengthAdjust="spacingAndGlyphs" fill="#111" stroke="#111" stroke-width="0.25">7</text>
<text x="541.1" y="427.8" font-family="Liberation Sans" font-weight="bold" font-size="10.4" textLength="3.6" lengthAdjust="spacingAndGlyphs" fill="#111" stroke="#111" stroke-width="0.25">5</text>
<text x="451.0" y="445.2" font-family="Liberation Sans" font-weight="bold" font-size="10.4" textLength="4.8" lengthAdjust="spacingAndGlyphs" fill="#111" stroke="#111" stroke-width="0.25">1</text>
<text x="457.1" y="445.2" font-family="Liberation Sans" font-weight="bold" font-size="10.4" textLength="4.8" lengthAdjust="spacingAndGlyphs" fill="#111" stroke="#111" stroke-width="0.25">6</text>
<text x="463.2" y="445.2" font-family="Liberation Sans" font-weight="bold" font-size="10.4" textLength="4.8" lengthAdjust="spacingAndGlyphs" fill="#111" stroke="#111" stroke-width="0.25">4</text>
<text x="469.3" y="445.2" font-family="Liberation Sans" font-weight="bold" font-size="10.4" textLength="4.8" lengthAdjust="spacingAndGlyphs" fill="#111" stroke="#111" stroke-width="0.25">0</text>
<text x="298.4" y="445.3" font-family="Liberation Sans" font-weight="bold" font-size="14.2" textLength="5.5" lengthAdjust="spacingAndGlyphs" fill="#111" stroke="#111" stroke-width="0.35">Н</text>
<text x="305.4" y="445.3" font-family="Liberation Sans" font-weight="bold" font-size="14.2" textLength="5.5" lengthAdjust="spacingAndGlyphs" fill="#111" stroke="#111" stroke-width="0.35">Б</text>
<text x="314.3" y="445.3" text-anchor="middle" font-family="Liberation Sans" font-weight="bold" font-size="14.2" fill="#111" stroke="#111" stroke-width="0.35">-</text>
<text x="317.7" y="445.3" font-family="Liberation Sans" font-weight="bold" font-size="14.2" textLength="5.5" lengthAdjust="spacingAndGlyphs" fill="#111" stroke="#111" stroke-width="0.35">1</text>
<text x="324.7" y="445.3" font-family="Liberation Sans" font-weight="bold" font-size="14.2" textLength="5.5" lengthAdjust="spacingAndGlyphs" fill="#111" stroke="#111" stroke-width="0.35">5</text>
<text x="332.6" y="445.3" text-anchor="middle" font-family="Liberation Sans" font-weight="bold" font-size="14.2" fill="#111" stroke="#111" stroke-width="0.35">.</text>
<text x="334.9" y="445.3" font-family="Liberation Sans" font-weight="bold" font-size="14.2" textLength="5.5" lengthAdjust="spacingAndGlyphs" fill="#111" stroke="#111" stroke-width="0.35">2</text>
<text x="342.0" y="445.3" font-family="Liberation Sans" font-weight="bold" font-size="14.2" textLength="5.5" lengthAdjust="spacingAndGlyphs" fill="#111" stroke="#111" stroke-width="0.35">2</text>
<text x="349.8" y="445.3" text-anchor="middle" font-family="Liberation Sans" font-weight="bold" font-size="14.2" fill="#111" stroke="#111" stroke-width="0.35">.</text>
<text x="352.1" y="445.3" font-family="Liberation Sans" font-weight="bold" font-size="14.2" textLength="5.5" lengthAdjust="spacingAndGlyphs" fill="#111" stroke="#111" stroke-width="0.35">5</text>
<text x="361.0" y="445.3" text-anchor="middle" font-family="Liberation Sans" font-weight="bold" font-size="14.2" fill="#111" stroke="#111" stroke-width="0.35">-</text>
<text x="364.4" y="445.3" font-family="Liberation Sans" font-weight="bold" font-size="14.2" textLength="5.5" lengthAdjust="spacingAndGlyphs" fill="#111" stroke="#111" stroke-width="0.35">6</text>
<text x="405.6" y="461.8" font-family="Liberation Sans" font-weight="bold" font-size="16.4" textLength="6.2" lengthAdjust="spacingAndGlyphs" fill="#111" stroke="#111" stroke-width="0.8">П</text>
<text x="416.3" y="461.8" font-family="Liberation Sans" font-weight="bold" font-size="9.2" textLength="4.9" lengthAdjust="spacingAndGlyphs" fill="#111" stroke="#111" stroke-width="0.9">о</text>
<text x="435.1" y="461.8" font-family="Liberation Sans" font-weight="bold" font-size="13.6" textLength="4.7" lengthAdjust="spacingAndGlyphs" fill="#111" stroke="#111" stroke-width="0.7">1</text>
<line x1="440.8" y1="457.7" x2="443.5" y2="457.7" stroke="#111" stroke-width="1.95"/>
<text x="447.4" y="462.5" font-family="Liberation Sans" font-weight="bold" font-size="14.9" textLength="4.6" lengthAdjust="spacingAndGlyphs" fill="#111" stroke="#111" stroke-width="0.7">1</text>
<line x1="369.0" y1="4.2" x2="690.0" y2="4.2" stroke="#eeeeee" stroke-width="1.04"/>
<line x1="651.0" y1="401.5" x2="855.0" y2="401.5" stroke="#f0f0f0" stroke-width="1.04"/>
</svg></body></html>
